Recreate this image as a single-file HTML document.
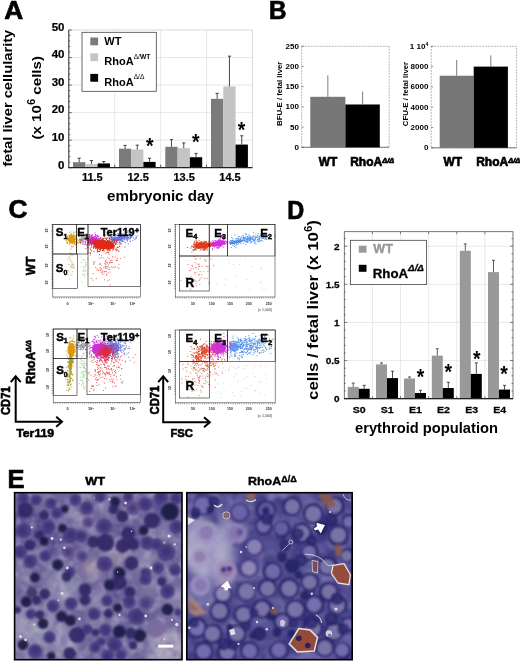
<!DOCTYPE html>
<html><head><meta charset="utf-8"><title>Figure</title>
<style>
html,body{margin:0;padding:0;background:#fff;}
svg{display:block;}
text{font-family:"Liberation Sans",sans-serif;}
</style></head><body>
<svg width="520" height="661" viewBox="0 0 520 661">
<rect width="520" height="661" fill="#fff"/>
<text transform="translate(4.30 18.90) scale(0.9928 1)" font-size="26.5" text-anchor="start" font-weight="bold" fill="#000" stroke="#000" stroke-width="0.7">A</text>
<line x1="114.72" y1="30.00" x2="114.72" y2="167.70" stroke="#dcdcdc" stroke-width="0.7" />
<line x1="160.65" y1="30.00" x2="160.65" y2="167.70" stroke="#dcdcdc" stroke-width="0.7" />
<line x1="206.57" y1="30.00" x2="206.57" y2="167.70" stroke="#dcdcdc" stroke-width="0.7" />
<line x1="68.80" y1="140.16" x2="252.50" y2="140.16" stroke="#dcdcdc" stroke-width="0.7" />
<line x1="68.80" y1="112.62" x2="252.50" y2="112.62" stroke="#dcdcdc" stroke-width="0.7" />
<line x1="68.80" y1="85.08" x2="252.50" y2="85.08" stroke="#dcdcdc" stroke-width="0.7" />
<line x1="68.80" y1="57.54" x2="252.50" y2="57.54" stroke="#dcdcdc" stroke-width="0.7" />
<rect x="68.80" y="30.00" width="183.70" height="137.70" fill="none" stroke="#c8c8c8" stroke-width="0.7" />
<rect x="73.00" y="162.19" width="12.30" height="5.51" fill="#7b7b7b" stroke="none" stroke-width="1" />
<line x1="79.15" y1="162.19" x2="79.15" y2="158.20" stroke="#333" stroke-width="0.9" />
<line x1="77.55" y1="158.20" x2="80.75" y2="158.20" stroke="#333" stroke-width="0.9" />
<rect x="85.30" y="164.12" width="12.30" height="3.58" fill="#c4c4c4" stroke="none" stroke-width="1" />
<line x1="91.45" y1="164.12" x2="91.45" y2="160.54" stroke="#333" stroke-width="0.9" />
<line x1="89.85" y1="160.54" x2="93.05" y2="160.54" stroke="#333" stroke-width="0.9" />
<rect x="97.60" y="163.43" width="12.30" height="4.27" fill="#000" stroke="none" stroke-width="1" />
<line x1="103.75" y1="163.43" x2="103.75" y2="161.50" stroke="#333" stroke-width="0.9" />
<line x1="102.15" y1="161.50" x2="105.35" y2="161.50" stroke="#333" stroke-width="0.9" />
<rect x="119.00" y="148.70" width="12.20" height="19.00" fill="#7b7b7b" stroke="none" stroke-width="1" />
<line x1="125.10" y1="148.70" x2="125.10" y2="145.39" stroke="#333" stroke-width="0.9" />
<line x1="123.50" y1="145.39" x2="126.70" y2="145.39" stroke="#333" stroke-width="0.9" />
<rect x="131.20" y="149.52" width="12.20" height="18.18" fill="#c4c4c4" stroke="none" stroke-width="1" />
<line x1="137.30" y1="149.52" x2="137.30" y2="145.12" stroke="#333" stroke-width="0.9" />
<line x1="135.70" y1="145.12" x2="138.90" y2="145.12" stroke="#333" stroke-width="0.9" />
<rect x="143.40" y="161.92" width="12.20" height="5.78" fill="#000" stroke="none" stroke-width="1" />
<line x1="149.50" y1="161.92" x2="149.50" y2="158.34" stroke="#333" stroke-width="0.9" />
<line x1="147.90" y1="158.34" x2="151.10" y2="158.34" stroke="#333" stroke-width="0.9" />
<rect x="165.30" y="146.77" width="12.30" height="20.93" fill="#7b7b7b" stroke="none" stroke-width="1" />
<line x1="171.45" y1="146.77" x2="171.45" y2="139.61" stroke="#333" stroke-width="0.9" />
<line x1="169.85" y1="139.61" x2="173.05" y2="139.61" stroke="#333" stroke-width="0.9" />
<rect x="177.60" y="148.15" width="12.30" height="19.55" fill="#c4c4c4" stroke="none" stroke-width="1" />
<line x1="183.75" y1="148.15" x2="183.75" y2="142.91" stroke="#333" stroke-width="0.9" />
<line x1="182.15" y1="142.91" x2="185.35" y2="142.91" stroke="#333" stroke-width="0.9" />
<rect x="189.90" y="157.23" width="12.30" height="10.47" fill="#000" stroke="none" stroke-width="1" />
<line x1="196.05" y1="157.23" x2="196.05" y2="153.38" stroke="#333" stroke-width="0.9" />
<line x1="194.45" y1="153.38" x2="197.65" y2="153.38" stroke="#333" stroke-width="0.9" />
<rect x="211.00" y="98.85" width="12.30" height="68.85" fill="#7b7b7b" stroke="none" stroke-width="1" />
<line x1="217.15" y1="98.85" x2="217.15" y2="93.34" stroke="#333" stroke-width="0.9" />
<line x1="215.55" y1="93.34" x2="218.75" y2="93.34" stroke="#333" stroke-width="0.9" />
<rect x="223.30" y="86.46" width="12.30" height="81.24" fill="#c4c4c4" stroke="none" stroke-width="1" />
<line x1="229.45" y1="86.46" x2="229.45" y2="56.16" stroke="#333" stroke-width="0.9" />
<line x1="227.85" y1="56.16" x2="231.05" y2="56.16" stroke="#333" stroke-width="0.9" />
<rect x="235.60" y="144.57" width="12.30" height="23.13" fill="#000" stroke="none" stroke-width="1" />
<line x1="241.75" y1="144.57" x2="241.75" y2="135.75" stroke="#333" stroke-width="0.9" />
<line x1="240.15" y1="135.75" x2="243.35" y2="135.75" stroke="#333" stroke-width="0.9" />
<line x1="68.80" y1="30.00" x2="68.80" y2="167.70" stroke="#333" stroke-width="1" />
<line x1="68.30" y1="167.70" x2="252.50" y2="167.70" stroke="#222" stroke-width="1.3" />
<line x1="68.80" y1="167.70" x2="71.80" y2="167.70" stroke="#333" stroke-width="0.7" />
<line x1="68.80" y1="162.19" x2="70.30" y2="162.19" stroke="#333" stroke-width="0.7" />
<line x1="68.80" y1="156.68" x2="70.30" y2="156.68" stroke="#333" stroke-width="0.7" />
<line x1="68.80" y1="151.18" x2="70.30" y2="151.18" stroke="#333" stroke-width="0.7" />
<line x1="68.80" y1="145.67" x2="70.30" y2="145.67" stroke="#333" stroke-width="0.7" />
<line x1="68.80" y1="140.16" x2="71.80" y2="140.16" stroke="#333" stroke-width="0.7" />
<line x1="68.80" y1="134.65" x2="70.30" y2="134.65" stroke="#333" stroke-width="0.7" />
<line x1="68.80" y1="129.14" x2="70.30" y2="129.14" stroke="#333" stroke-width="0.7" />
<line x1="68.80" y1="123.64" x2="70.30" y2="123.64" stroke="#333" stroke-width="0.7" />
<line x1="68.80" y1="118.13" x2="70.30" y2="118.13" stroke="#333" stroke-width="0.7" />
<line x1="68.80" y1="112.62" x2="71.80" y2="112.62" stroke="#333" stroke-width="0.7" />
<line x1="68.80" y1="107.11" x2="70.30" y2="107.11" stroke="#333" stroke-width="0.7" />
<line x1="68.80" y1="101.60" x2="70.30" y2="101.60" stroke="#333" stroke-width="0.7" />
<line x1="68.80" y1="96.10" x2="70.30" y2="96.10" stroke="#333" stroke-width="0.7" />
<line x1="68.80" y1="90.59" x2="70.30" y2="90.59" stroke="#333" stroke-width="0.7" />
<line x1="68.80" y1="85.08" x2="71.80" y2="85.08" stroke="#333" stroke-width="0.7" />
<line x1="68.80" y1="79.57" x2="70.30" y2="79.57" stroke="#333" stroke-width="0.7" />
<line x1="68.80" y1="74.06" x2="70.30" y2="74.06" stroke="#333" stroke-width="0.7" />
<line x1="68.80" y1="68.56" x2="70.30" y2="68.56" stroke="#333" stroke-width="0.7" />
<line x1="68.80" y1="63.05" x2="70.30" y2="63.05" stroke="#333" stroke-width="0.7" />
<line x1="68.80" y1="57.54" x2="71.80" y2="57.54" stroke="#333" stroke-width="0.7" />
<line x1="68.80" y1="52.03" x2="70.30" y2="52.03" stroke="#333" stroke-width="0.7" />
<line x1="68.80" y1="46.52" x2="70.30" y2="46.52" stroke="#333" stroke-width="0.7" />
<line x1="68.80" y1="41.02" x2="70.30" y2="41.02" stroke="#333" stroke-width="0.7" />
<line x1="68.80" y1="35.51" x2="70.30" y2="35.51" stroke="#333" stroke-width="0.7" />
<line x1="68.80" y1="30.00" x2="71.80" y2="30.00" stroke="#333" stroke-width="0.7" />
<line x1="114.72" y1="167.70" x2="114.72" y2="164.70" stroke="#333" stroke-width="0.8" />
<line x1="160.65" y1="167.70" x2="160.65" y2="164.70" stroke="#333" stroke-width="0.8" />
<line x1="206.57" y1="167.70" x2="206.57" y2="164.70" stroke="#333" stroke-width="0.8" />
<text transform="translate(64.50 168.50) scale(1.1500 1)" font-size="10" text-anchor="end" font-weight="bold" fill="#000" stroke="#000" stroke-width="0.2">0</text>
<text transform="translate(64.50 140.96) scale(1.1500 1)" font-size="10" text-anchor="end" font-weight="bold" fill="#000" stroke="#000" stroke-width="0.2">10</text>
<text transform="translate(64.50 113.42) scale(1.1500 1)" font-size="10" text-anchor="end" font-weight="bold" fill="#000" stroke="#000" stroke-width="0.2">20</text>
<text transform="translate(64.50 85.88) scale(1.1500 1)" font-size="10" text-anchor="end" font-weight="bold" fill="#000" stroke="#000" stroke-width="0.2">30</text>
<text transform="translate(64.50 58.34) scale(1.1500 1)" font-size="10" text-anchor="end" font-weight="bold" fill="#000" stroke="#000" stroke-width="0.2">40</text>
<text transform="translate(64.50 30.80) scale(1.1500 1)" font-size="10" text-anchor="end" font-weight="bold" fill="#000" stroke="#000" stroke-width="0.2">50</text>
<text transform="translate(92.26 180.90) scale(1.1000 1)" font-size="10" text-anchor="middle" font-weight="bold" fill="#000" stroke="#000" stroke-width="0.2">11.5</text>
<text transform="translate(138.19 180.90) scale(1.1000 1)" font-size="10" text-anchor="middle" font-weight="bold" fill="#000" stroke="#000" stroke-width="0.2">12.5</text>
<text transform="translate(184.11 180.90) scale(1.1000 1)" font-size="10" text-anchor="middle" font-weight="bold" fill="#000" stroke="#000" stroke-width="0.2">13.5</text>
<text transform="translate(230.04 180.90) scale(1.1000 1)" font-size="10" text-anchor="middle" font-weight="bold" fill="#000" stroke="#000" stroke-width="0.2">14.5</text>
<rect x="82.00" y="32.30" width="74.30" height="59.00" fill="#fff" stroke="#444" stroke-width="0.8" />
<rect x="90.30" y="37.50" width="7.80" height="7.80" fill="#7b7b7b" stroke="none" stroke-width="1" />
<text transform="translate(104.30 45.40) scale(1.0600 1)" font-size="10.4" text-anchor="start" font-weight="bold" fill="#000" >WT</text>
<rect x="90.30" y="53.30" width="7.80" height="7.80" fill="#c4c4c4" stroke="none" stroke-width="1" />
<text transform="translate(104.30 65.30) scale(1.0600 1)" font-size="10.4" text-anchor="start" font-weight="bold" fill="#000" >RhoA<tspan dy="-6.4" font-size="6.3"><tspan font-weight="normal">Δ/</tspan>WT</tspan></text>
<rect x="90.30" y="73.90" width="7.80" height="7.80" fill="#000" stroke="none" stroke-width="1" />
<text transform="translate(104.30 85.60) scale(1.0600 1)" font-size="10.4" text-anchor="start" font-weight="bold" fill="#000" >RhoA<tspan dy="-6.4" font-size="6.3"><tspan font-weight="normal">Δ/Δ</tspan></tspan></text>
<text transform="translate(149.70 153.28) scale(1.08 1.22)" font-size="18" text-anchor="middle" font-weight="bold">*</text>
<text transform="translate(195.70 149.48) scale(1.08 1.22)" font-size="18" text-anchor="middle" font-weight="bold">*</text>
<text transform="translate(241.50 137.18) scale(1.08 1.22)" font-size="18" text-anchor="middle" font-weight="bold">*</text>
<text transform="translate(12.10 98.30) rotate(-90) scale(1.1056 1)" font-size="13.3" text-anchor="middle" font-weight="bold" fill="#000" >fetal liver cellularity</text>
<text transform="translate(41.30 97.80) rotate(-90) scale(1.1200 1)" font-size="13.5" text-anchor="middle" font-weight="bold" fill="#000" >(x 10<tspan dy="-6" font-size="10">6</tspan><tspan dy="6"> cells)</tspan></text>
<text transform="translate(160.40 200.50) scale(1.0499 1)" font-size="14.4" text-anchor="middle" font-weight="bold" fill="#000" >embryonic day</text>
<text transform="translate(269.00 18.80) scale(0.9503 1)" font-size="25.5" text-anchor="start" font-weight="bold" fill="#000" stroke="#000" stroke-width="0.7">B</text>
<rect x="301.70" y="46.30" width="87.50" height="101.00" fill="none" stroke="#999" stroke-width="0.7" stroke-dasharray="2 1"/>
<line x1="301.70" y1="147.30" x2="389.20" y2="147.30" stroke="#666" stroke-width="0.8" />
<line x1="301.70" y1="147.30" x2="303.70" y2="147.30" stroke="#444" stroke-width="0.6" />
<text transform="translate(298.90 149.80) scale(1.1500 1)" font-size="7" text-anchor="end" font-weight="bold" fill="#000" >0</text>
<line x1="301.70" y1="127.10" x2="303.70" y2="127.10" stroke="#444" stroke-width="0.6" />
<text transform="translate(298.90 129.60) scale(1.1500 1)" font-size="7" text-anchor="end" font-weight="bold" fill="#000" >50</text>
<line x1="301.70" y1="106.90" x2="303.70" y2="106.90" stroke="#444" stroke-width="0.6" />
<text transform="translate(298.90 109.40) scale(1.1500 1)" font-size="7" text-anchor="end" font-weight="bold" fill="#000" >100</text>
<line x1="301.70" y1="86.70" x2="303.70" y2="86.70" stroke="#444" stroke-width="0.6" />
<text transform="translate(298.90 89.20) scale(1.1500 1)" font-size="7" text-anchor="end" font-weight="bold" fill="#000" >150</text>
<line x1="301.70" y1="66.50" x2="303.70" y2="66.50" stroke="#444" stroke-width="0.6" />
<text transform="translate(298.90 69.00) scale(1.1500 1)" font-size="7" text-anchor="end" font-weight="bold" fill="#000" >200</text>
<line x1="301.70" y1="46.30" x2="303.70" y2="46.30" stroke="#444" stroke-width="0.6" />
<text transform="translate(298.90 48.80) scale(1.1500 1)" font-size="7" text-anchor="end" font-weight="bold" fill="#000" >250</text>
<rect x="310.30" y="96.80" width="35.10" height="50.50" fill="#777" stroke="none" stroke-width="1" />
<line x1="327.85" y1="96.80" x2="327.85" y2="75.39" stroke="#444" stroke-width="0.7" />
<rect x="345.40" y="104.48" width="34.40" height="42.82" fill="#000" stroke="none" stroke-width="1" />
<line x1="362.60" y1="104.48" x2="362.60" y2="91.55" stroke="#444" stroke-width="0.7" />
<text transform="translate(282.00 93.80) rotate(-90) scale(0.9723 1)" font-size="8" text-anchor="middle" font-weight="bold" fill="#000" >BFU-E / fetal liver</text>
<rect x="431.20" y="46.30" width="85.40" height="101.50" fill="none" stroke="#999" stroke-width="0.7" stroke-dasharray="2 1"/>
<line x1="431.20" y1="147.80" x2="516.60" y2="147.80" stroke="#666" stroke-width="0.8" />
<line x1="431.20" y1="147.80" x2="433.20" y2="147.80" stroke="#444" stroke-width="0.6" />
<text transform="translate(428.40 150.30) scale(1.1500 1)" font-size="7" text-anchor="end" font-weight="bold" fill="#000" >0</text>
<line x1="431.20" y1="127.50" x2="433.20" y2="127.50" stroke="#444" stroke-width="0.6" />
<text transform="translate(428.40 130.00) scale(1.1500 1)" font-size="7" text-anchor="end" font-weight="bold" fill="#000" >2000</text>
<line x1="431.20" y1="107.20" x2="433.20" y2="107.20" stroke="#444" stroke-width="0.6" />
<text transform="translate(428.40 109.70) scale(1.1500 1)" font-size="7" text-anchor="end" font-weight="bold" fill="#000" >4000</text>
<line x1="431.20" y1="86.90" x2="433.20" y2="86.90" stroke="#444" stroke-width="0.6" />
<text transform="translate(428.40 89.40) scale(1.1500 1)" font-size="7" text-anchor="end" font-weight="bold" fill="#000" >6000</text>
<line x1="431.20" y1="66.60" x2="433.20" y2="66.60" stroke="#444" stroke-width="0.6" />
<text transform="translate(428.40 69.10) scale(1.1500 1)" font-size="7" text-anchor="end" font-weight="bold" fill="#000" >8000</text>
<line x1="431.20" y1="46.30" x2="433.20" y2="46.30" stroke="#444" stroke-width="0.6" />
<text transform="translate(428.40 48.80) scale(1.1500 1)" font-size="7" text-anchor="end" font-weight="bold" fill="#000" >1 10<tspan dy="-2.5" font-size="4.5">4</tspan></text>
<rect x="439.70" y="75.73" width="34.00" height="72.07" fill="#777" stroke="none" stroke-width="1" />
<line x1="456.70" y1="75.73" x2="456.70" y2="60.00" stroke="#444" stroke-width="0.7" />
<rect x="473.70" y="66.60" width="34.20" height="81.20" fill="#000" stroke="none" stroke-width="1" />
<line x1="490.80" y1="66.60" x2="490.80" y2="55.44" stroke="#444" stroke-width="0.7" />
<text transform="translate(407.50 94.05) rotate(-90) scale(0.9723 1)" font-size="8" text-anchor="middle" font-weight="bold" fill="#000" >CFU-E / fetal liver</text>
<text transform="translate(318.70 166.00) scale(0.9153 1)" font-size="13" text-anchor="start" font-weight="bold" fill="#000" stroke="#000" stroke-width="0.7">WT</text>
<text transform="translate(350.20 166.00) scale(0.9233 1)" font-size="13" text-anchor="start" font-weight="bold" fill="#000" stroke="#000" stroke-width="0.7">RhoA<tspan dy="-2.8" font-size="8" font-style="italic">Δ/Δ</tspan></text>
<text transform="translate(443.50 166.00) scale(0.9153 1)" font-size="13" text-anchor="start" font-weight="bold" fill="#000" stroke="#000" stroke-width="0.7">WT</text>
<text transform="translate(476.20 166.00) scale(0.9233 1)" font-size="13" text-anchor="start" font-weight="bold" fill="#000" stroke="#000" stroke-width="0.7">RhoA<tspan dy="-2.8" font-size="8" font-style="italic">Δ/Δ</tspan></text>
<text transform="translate(8.50 218.00) scale(1.0119 1)" font-size="26" text-anchor="start" font-weight="bold" fill="#000" stroke="#000" stroke-width="0.7">C</text>
<path d="M70.0 267.1h1.00M70.0 258.8h1.00M68.6 259.9h1.00M72.7 266.2h1.00M72.6 264.5h1.00M71.3 263.9h1.00M67.2 270.6h1.00M71.5 267.0h1.00M68.7 257.3h1.00M71.1 261.5h1.00M71.5 255.6h1.00M71.1 265.9h1.00M69.2 279.2h1.00M71.6 274.0h1.00M69.3 254.6h1.00M69.8 260.9h1.00M71.8 264.5h1.00M69.6 252.4h1.00M69.5 274.2h1.00M68.9 264.4h1.00M70.6 275.1h1.00M66.5 258.8h1.00M70.3 253.8h1.00M71.5 261.4h1.00M67.6 270.3h1.00M71.8 271.5h1.00M73.4 265.6h1.00M70.7 249.0h1.00M71.7 255.9h1.00M69.6 249.4h1.00M68.6 256.7h1.00M67.6 264.4h1.00M73.4 267.8h1.00M71.2 254.6h1.00M68.3 271.8h1.00M72.7 263.6h1.00M71.0 266.3h1.00M73.7 268.2h1.00M71.5 267.5h1.00M67.4 274.8h1.00M72.4 267.3h1.00" stroke="#c9b860" stroke-width="1.00" fill="none" opacity="0.85"/>
<path d="M79.7 257.0h1.00M83.6 275.2h1.00M81.1 281.7h1.00M85.2 262.3h1.00M84.7 271.1h1.00M84.3 276.6h1.00M82.5 259.4h1.00M86.3 264.3h1.00M82.1 274.4h1.00M87.2 259.1h1.00M81.0 262.5h1.00M83.7 260.7h1.00M87.1 252.7h1.00M86.8 250.0h1.00M82.3 270.9h1.00M86.5 273.4h1.00M84.8 265.6h1.00M84.3 270.3h1.00M83.6 267.1h1.00M85.3 264.0h1.00M85.7 270.2h1.00M88.4 267.6h1.00M83.1 259.9h1.00M84.0 274.2h1.00M83.3 268.2h1.00M81.5 266.7h1.00M84.9 266.6h1.00M83.1 271.2h1.00" stroke="#9ccf8a" stroke-width="1.00" fill="none" opacity="0.85"/>
<path d="M72.4 238.1h1.00M78.0 240.6h1.00M70.3 239.3h1.00M71.1 239.4h1.00M64.6 238.2h1.00M74.3 236.3h1.00M71.5 242.3h1.00M73.9 243.8h1.00M67.3 238.6h1.00M70.8 241.3h1.00M74.5 232.1h1.00M74.5 235.5h1.00M73.5 235.4h1.00M72.2 242.9h1.00M71.3 240.1h1.00M73.8 240.0h1.00M71.5 243.9h1.00M74.4 238.8h1.00M78.8 236.4h1.00M74.1 238.9h1.00M72.0 241.6h1.00M72.3 241.4h1.00M67.7 235.4h1.00M73.3 236.9h1.00M69.0 235.5h1.00M75.0 241.7h1.00M75.5 237.0h1.00M71.7 236.4h1.00M73.7 244.1h1.00M69.4 244.0h1.00M74.3 239.1h1.00M66.6 243.5h1.00M71.4 237.9h1.00M72.7 240.7h1.00M75.6 236.7h1.00M74.7 243.8h1.00M75.5 239.1h1.00M69.8 242.5h1.00M72.0 239.9h1.00M75.4 238.9h1.00M65.7 238.5h1.00M66.9 241.9h1.00M72.5 237.9h1.00M71.7 241.9h1.00M71.9 243.3h1.00M71.5 242.5h1.00M75.6 244.1h1.00M70.0 242.1h1.00M66.8 236.6h1.00M66.6 242.6h1.00M68.5 239.6h1.00M71.2 239.5h1.00M70.2 240.3h1.00M76.4 239.7h1.00M73.1 242.4h1.00M71.2 236.1h1.00M70.3 242.6h1.00M67.4 237.9h1.00M74.3 241.8h1.00M71.7 241.9h1.00M72.1 236.3h1.00M67.6 237.8h1.00M74.1 238.0h1.00M69.4 237.4h1.00M67.7 239.3h1.00M68.6 240.6h1.00M65.6 240.5h1.00M70.0 234.2h1.00M73.6 238.8h1.00M65.9 237.1h1.00M72.5 238.3h1.00M73.7 241.7h1.00M73.4 240.5h1.00M75.2 241.4h1.00M72.9 233.8h1.00M74.0 243.3h1.00M70.9 238.3h1.00M76.7 234.7h1.00M72.9 246.4h1.00M69.3 241.5h1.00M76.6 239.3h1.00M73.2 242.1h1.00M69.3 239.4h1.00M72.5 241.9h1.00M71.6 239.1h1.00M69.1 238.6h1.00M74.0 239.9h1.00M69.5 237.2h1.00M78.6 242.8h1.00M73.4 232.3h1.00M73.3 240.9h1.00M76.1 240.8h1.00M71.5 241.1h1.00M66.6 242.5h1.00M72.5 237.6h1.00M75.1 244.7h1.00M68.1 237.7h1.00M72.5 240.1h1.00M70.7 236.9h1.00M77.2 242.5h1.00M68.6 235.8h1.00M76.1 242.4h1.00M76.4 241.9h1.00M69.4 240.3h1.00M66.1 237.5h1.00M71.5 241.1h1.00M69.8 239.3h1.00M72.9 240.7h1.00M73.4 240.2h1.00M70.9 241.8h1.00M71.8 237.3h1.00M70.1 239.6h1.00M71.4 240.0h1.00M71.7 240.1h1.00M71.4 236.1h1.00M72.8 242.6h1.00M72.8 239.1h1.00M72.9 236.9h1.00M66.8 239.8h1.00M69.3 241.7h1.00M68.9 232.2h1.00M69.0 244.0h1.00M70.7 235.8h1.00M69.7 241.1h1.00M73.0 240.1h1.00M75.6 241.6h1.00M71.6 241.3h1.00M76.0 242.3h1.00M74.4 236.6h1.00M71.3 241.6h1.00M70.9 242.6h1.00M73.3 242.1h1.00M71.1 246.7h1.00M74.9 239.0h1.00M71.9 246.9h1.00M70.8 242.0h1.00M74.2 239.6h1.00M68.7 240.1h1.00M72.6 242.8h1.00M73.7 239.7h1.00M73.9 241.1h1.00M72.2 239.8h1.00M71.1 241.5h1.00M69.0 237.8h1.00M71.7 235.5h1.00M70.6 234.0h1.00M69.9 241.2h1.00M73.2 239.4h1.00M71.1 235.6h1.00M76.5 241.0h1.00M74.5 237.1h1.00M71.2 234.5h1.00M73.7 242.2h1.00M66.8 239.5h1.00M73.3 234.7h1.00M67.0 236.6h1.00M70.1 235.7h1.00M71.8 240.3h1.00M73.3 241.6h1.00M75.6 242.9h1.00M68.3 238.2h1.00M68.9 236.6h1.00M71.5 239.6h1.00M73.0 235.2h1.00M68.5 239.5h1.00M71.2 238.7h1.00M71.5 237.5h1.00M73.5 240.6h1.00M71.5 237.7h1.00M71.2 232.0h1.00M69.1 239.7h1.00M67.8 240.2h1.00M72.1 235.7h1.00M71.0 238.7h1.00M72.9 241.3h1.00M71.6 237.2h1.00M71.3 239.4h1.00M73.6 240.4h1.00M69.8 235.8h1.00M70.7 237.5h1.00" stroke="#dc9a0c" stroke-width="1.00" fill="none" opacity="1.0"/>
<ellipse cx="71.7" cy="239.6" rx="3.4" ry="3.6" fill="#dc9a0c" opacity="1.0" transform="rotate(0 71.7 239.6)"/>
<path d="M78.9 239.3h1.00M80.4 239.7h1.00M82.7 238.7h1.00M86.8 238.9h1.00M84.0 239.7h1.00M84.1 234.7h1.00M79.8 240.0h1.00M82.9 244.2h1.00M82.2 242.1h1.00M83.3 241.4h1.00M82.7 239.2h1.00M82.7 237.3h1.00M84.2 237.5h1.00M82.1 243.7h1.00M81.0 239.5h1.00M84.2 239.6h1.00M79.6 240.0h1.00M82.8 240.9h1.00M79.7 243.0h1.00M85.3 239.5h1.00M82.1 238.6h1.00M84.8 238.1h1.00M83.1 238.5h1.00M79.9 240.9h1.00M84.6 239.5h1.00M79.9 241.1h1.00M81.4 240.1h1.00M85.0 241.8h1.00M80.3 244.1h1.00M81.5 241.1h1.00M80.0 239.4h1.00M77.5 243.1h1.00M84.6 237.1h1.00M78.0 236.3h1.00M84.2 238.6h1.00M81.4 238.9h1.00M81.2 237.3h1.00M81.6 236.6h1.00M81.3 240.1h1.00M82.6 239.0h1.00M79.4 239.8h1.00M80.4 242.6h1.00M83.3 239.3h1.00M80.4 238.1h1.00M79.3 238.8h1.00" stroke="#8a8a8a" stroke-width="1.00" fill="none" opacity="1.0"/>
<path d="M107.4 269.2h1.00M109.6 285.0h1.00M99.4 264.1h1.00M100.8 265.7h1.00M106.2 268.1h1.00M103.1 267.7h1.00M105.4 271.7h1.00M89.9 255.1h1.00M105.0 253.7h1.00M96.6 270.3h1.00M99.8 270.3h1.00M111.0 267.1h1.00M109.1 263.0h1.00M93.7 263.7h1.00M108.6 258.7h1.00M104.2 271.5h1.00M98.0 270.4h1.00M119.9 258.5h1.00M106.2 262.5h1.00M117.3 267.2h1.00M112.2 257.1h1.00M104.9 263.9h1.00M90.8 278.4h1.00M111.0 262.7h1.00M108.6 267.7h1.00M93.0 261.9h1.00M116.9 258.3h1.00M96.8 250.4h1.00M95.2 267.4h1.00M118.5 268.3h1.00M100.8 257.3h1.00M109.2 269.5h1.00M96.9 252.3h1.00M107.3 266.5h1.00M94.5 262.0h1.00M100.7 268.6h1.00M104.1 263.1h1.00M102.2 274.5h1.00M116.1 260.3h1.00M111.8 256.4h1.00M105.6 271.5h1.00M117.1 260.2h1.00M104.4 266.0h1.00M93.0 264.2h1.00M99.6 267.7h1.00M105.3 266.6h1.00M100.6 272.9h1.00M102.8 257.9h1.00M108.8 248.3h1.00M99.6 263.8h1.00M111.8 262.4h1.00M107.5 257.4h1.00M107.4 280.6h1.00M99.8 264.2h1.00M106.4 274.2h1.00M109.8 272.0h1.00M106.6 266.5h1.00M112.4 267.7h1.00M118.3 251.6h1.00M111.5 260.3h1.00M105.0 261.5h1.00M101.0 255.6h1.00M100.0 270.4h1.00M105.3 264.7h1.00M103.6 273.1h1.00M109.0 262.6h1.00M110.3 262.5h1.00M95.8 278.6h1.00M108.7 254.4h1.00M113.6 267.4h1.00M92.5 280.1h1.00M107.7 272.9h1.00M106.6 262.5h1.00M92.6 273.7h1.00M105.2 261.1h1.00M107.8 264.8h1.00M110.4 260.3h1.00M101.6 270.8h1.00M115.7 260.4h1.00M104.0 279.8h1.00M102.4 271.3h1.00M118.4 264.4h1.00M114.8 256.9h1.00M106.7 263.2h1.00M105.9 275.3h1.00M124.1 257.3h1.00M100.4 269.0h1.00M96.6 269.0h1.00M109.6 261.2h1.00M109.2 248.5h1.00M111.1 248.6h1.00M99.4 258.4h1.00M101.8 272.6h1.00M105.7 260.0h1.00M109.3 279.8h1.00M105.0 267.7h1.00M114.9 266.7h1.00M104.7 268.2h1.00" stroke="#e2605a" stroke-width="1.00" fill="none" opacity="0.9"/>
<path d="M127.7 238.8h1.00M117.8 236.0h1.00M120.8 240.8h1.00M111.3 237.1h1.00M119.8 233.5h1.00M117.9 237.5h1.00M123.6 236.0h1.00M112.9 238.4h1.00M119.6 236.7h1.00M120.1 240.2h1.00M129.5 241.1h1.00M113.7 238.2h1.00M100.1 246.2h1.00M114.2 239.1h1.00M124.2 234.2h1.00M123.7 237.6h1.00M105.4 241.3h1.00M129.6 232.1h1.00M126.5 237.8h1.00M123.8 238.8h1.00M130.4 236.1h1.00M127.0 236.2h1.00M125.8 235.3h1.00M119.1 242.8h1.00M123.6 237.3h1.00M110.8 237.8h1.00M121.5 240.4h1.00M123.4 239.1h1.00M119.7 241.7h1.00M116.9 237.4h1.00M127.1 237.3h1.00M117.8 237.2h1.00M117.9 240.2h1.00M122.8 234.8h1.00M123.4 238.2h1.00M112.0 241.5h1.00M117.8 237.8h1.00M126.4 240.6h1.00M114.5 240.3h1.00M113.0 245.2h1.00M116.0 241.9h1.00M114.8 241.1h1.00M137.8 229.2h1.00M116.5 240.1h1.00M119.3 236.7h1.00M137.2 235.8h1.00M106.8 242.5h1.00M106.2 243.3h1.00M115.4 239.4h1.00M130.1 237.0h1.00M108.9 235.8h1.00M129.5 238.7h1.00M113.5 241.5h1.00M124.0 239.3h1.00M101.9 240.4h1.00M127.2 239.0h1.00M127.1 231.0h1.00M121.4 239.3h1.00M117.4 238.8h1.00M127.1 236.1h1.00M129.2 234.9h1.00M122.1 236.6h1.00M121.3 236.4h1.00M107.2 243.0h1.00M122.4 236.5h1.00M121.6 240.5h1.00M112.2 239.3h1.00M124.3 238.9h1.00M117.3 233.5h1.00M129.9 237.6h1.00M120.1 237.6h1.00M122.1 236.9h1.00M111.8 237.7h1.00M115.2 237.5h1.00M110.7 241.4h1.00M109.5 241.6h1.00M111.9 240.5h1.00M131.0 237.1h1.00M114.2 239.3h1.00M121.2 233.8h1.00M115.1 239.5h1.00M116.2 239.1h1.00M125.9 239.3h1.00M127.2 238.6h1.00M117.7 238.6h1.00M117.8 237.9h1.00M118.6 234.2h1.00M117.3 238.7h1.00M112.2 239.5h1.00M124.1 237.2h1.00M136.6 229.2h1.00M118.3 234.0h1.00M127.8 243.7h1.00M100.0 241.8h1.00M124.2 236.9h1.00M124.4 232.0h1.00M126.8 238.2h1.00M120.2 236.8h1.00M125.1 236.3h1.00M121.8 236.7h1.00M102.0 241.1h1.00M121.6 239.9h1.00M113.0 239.3h1.00M124.9 237.9h1.00M129.9 241.7h1.00M112.7 234.6h1.00M126.9 241.0h1.00M127.4 239.2h1.00M115.1 237.3h1.00M127.1 234.9h1.00M105.5 238.1h1.00M114.5 237.3h1.00M121.9 236.1h1.00M130.5 236.5h1.00M111.3 242.9h1.00M115.3 239.6h1.00M119.9 237.5h1.00M122.6 236.2h1.00M105.2 235.1h1.00M109.9 238.0h1.00M119.8 238.5h1.00M124.4 237.9h1.00M113.7 237.5h1.00M103.0 240.5h1.00M123.9 239.0h1.00M119.0 238.0h1.00M127.5 237.2h1.00M125.9 238.8h1.00M121.7 241.3h1.00M115.4 238.1h1.00M113.5 237.3h1.00M132.4 240.7h1.00M120.2 239.7h1.00M129.4 238.8h1.00M129.6 233.6h1.00M114.9 240.2h1.00M131.5 236.8h1.00M113.1 238.5h1.00M114.7 237.0h1.00M132.0 234.8h1.00M120.2 243.7h1.00M129.5 237.6h1.00M115.1 240.1h1.00M133.0 237.8h1.00M130.1 237.0h1.00M124.1 237.1h1.00M123.4 241.0h1.00M108.6 239.9h1.00M121.9 236.6h1.00M117.5 240.7h1.00M136.0 237.4h1.00M122.6 234.0h1.00M135.4 236.1h1.00M119.7 235.5h1.00M119.5 235.6h1.00M120.6 239.4h1.00M120.2 239.0h1.00M113.2 242.9h1.00M114.8 234.6h1.00M118.5 236.6h1.00M111.9 238.7h1.00M122.3 235.0h1.00M118.9 242.0h1.00M125.5 237.1h1.00M121.0 237.8h1.00M119.6 240.2h1.00M119.3 232.4h1.00M119.8 236.1h1.00M125.2 236.0h1.00M121.2 243.6h1.00M111.6 236.8h1.00M108.7 234.1h1.00M105.0 241.6h1.00M114.9 234.4h1.00M108.1 241.7h1.00M113.8 238.4h1.00M122.6 241.3h1.00M135.5 238.4h1.00M121.1 238.6h1.00M134.4 239.6h1.00M117.5 239.8h1.00M122.3 238.1h1.00M116.0 235.6h1.00M115.7 235.1h1.00M129.8 238.1h1.00M110.4 243.3h1.00M127.1 232.4h1.00M134.7 238.0h1.00M136.5 232.6h1.00M124.2 238.7h1.00M121.6 238.5h1.00M128.4 233.2h1.00M110.1 236.4h1.00M115.5 237.5h1.00M122.9 238.5h1.00M120.3 236.6h1.00M116.5 241.2h1.00M126.1 237.6h1.00M117.4 242.6h1.00M115.2 240.7h1.00M129.2 236.2h1.00M126.6 234.5h1.00M128.1 237.5h1.00M107.3 242.0h1.00M112.9 242.6h1.00M114.6 238.7h1.00M122.3 237.1h1.00M122.1 236.6h1.00" stroke="#5b78e0" stroke-width="1.00" fill="none" opacity="1.0"/>
<ellipse cx="117.5" cy="239" rx="6" ry="2.1" fill="#6a70e0" opacity="1.0" transform="rotate(-13 117.5 239)"/>
<path d="M96.5 240.6h1.00M94.4 232.9h1.00M98.7 240.7h1.00M85.5 240.9h1.00M95.6 243.6h1.00M88.6 244.9h1.00M92.8 247.3h1.00M92.8 242.5h1.00M91.9 237.5h1.00M98.4 243.1h1.00M100.4 243.0h1.00M90.9 235.9h1.00M90.6 238.7h1.00M89.8 242.2h1.00M95.0 239.8h1.00M94.3 240.2h1.00M94.5 242.7h1.00M97.8 238.7h1.00M86.7 244.6h1.00M94.0 243.7h1.00M86.1 239.7h1.00M93.6 236.6h1.00M91.2 242.6h1.00M98.4 245.1h1.00M89.6 236.7h1.00M95.8 243.2h1.00M94.4 237.0h1.00M97.0 242.8h1.00M96.0 239.2h1.00M94.9 242.8h1.00M91.0 235.4h1.00M95.0 241.9h1.00M93.6 243.1h1.00M90.9 240.4h1.00M92.1 242.2h1.00M100.7 239.9h1.00M102.7 244.9h1.00M97.1 242.2h1.00M101.5 240.1h1.00M93.0 237.6h1.00M95.6 244.4h1.00M95.9 241.8h1.00M92.6 241.1h1.00M87.1 243.5h1.00M91.7 237.5h1.00M90.1 238.3h1.00M97.3 243.6h1.00M87.4 243.2h1.00M97.5 239.0h1.00M86.8 238.5h1.00M90.6 241.6h1.00M91.9 234.9h1.00M94.6 236.3h1.00M97.6 237.2h1.00M90.4 238.2h1.00M91.1 244.2h1.00M97.3 242.3h1.00M94.9 236.3h1.00M91.2 239.1h1.00M89.1 242.0h1.00M90.2 238.6h1.00M88.8 234.8h1.00M96.2 244.3h1.00M94.3 237.9h1.00M81.3 241.1h1.00M99.0 241.4h1.00M97.7 244.7h1.00M98.6 239.4h1.00M98.2 242.8h1.00M86.6 239.5h1.00M87.1 240.3h1.00M96.1 237.6h1.00M84.2 244.2h1.00M95.2 244.7h1.00M87.5 243.6h1.00M102.8 246.2h1.00M92.6 241.4h1.00M92.8 243.4h1.00M98.2 240.8h1.00M87.4 242.7h1.00M91.4 242.4h1.00M94.7 245.1h1.00M98.6 239.3h1.00M95.1 245.5h1.00M91.1 241.8h1.00M98.9 244.1h1.00M95.8 236.9h1.00M87.8 241.3h1.00M95.2 247.7h1.00M89.6 243.8h1.00M97.0 235.9h1.00M89.8 241.1h1.00M91.3 240.2h1.00M95.6 238.3h1.00M95.6 238.8h1.00M91.0 242.1h1.00M90.9 241.4h1.00M100.7 240.7h1.00M92.8 242.7h1.00M91.9 243.6h1.00M87.7 242.3h1.00M91.2 238.4h1.00M101.5 238.2h1.00M101.4 242.4h1.00M100.0 237.9h1.00M98.9 244.7h1.00M93.0 240.2h1.00M104.6 241.1h1.00M91.6 238.8h1.00M95.5 241.5h1.00M94.3 245.4h1.00M92.0 241.9h1.00M100.1 237.8h1.00M98.2 245.7h1.00M87.4 237.5h1.00M88.8 235.4h1.00M95.5 235.4h1.00M95.7 244.7h1.00M86.2 239.7h1.00M84.9 242.8h1.00M90.2 239.9h1.00M93.7 242.1h1.00M91.9 240.6h1.00M91.0 240.9h1.00M88.2 240.8h1.00M84.8 239.2h1.00M102.1 240.8h1.00M87.8 241.3h1.00M89.1 236.0h1.00M90.2 242.7h1.00M95.2 240.3h1.00M89.3 237.6h1.00M99.6 241.3h1.00M89.2 234.7h1.00M87.3 247.5h1.00M88.3 240.4h1.00M94.4 240.2h1.00M92.2 236.8h1.00M88.8 245.3h1.00M90.1 243.0h1.00M85.9 239.8h1.00M94.7 243.5h1.00M88.4 242.3h1.00M95.2 238.5h1.00M95.6 238.1h1.00M89.9 240.5h1.00M81.3 240.3h1.00M89.0 236.5h1.00M91.6 242.7h1.00M91.7 244.1h1.00M88.3 236.9h1.00M100.5 241.7h1.00M97.8 238.3h1.00M97.1 241.3h1.00M96.4 240.7h1.00M98.9 238.8h1.00M89.2 236.5h1.00M98.7 238.5h1.00M88.8 238.0h1.00M91.5 237.0h1.00M92.2 238.8h1.00M91.0 237.9h1.00M93.7 239.3h1.00M94.0 241.3h1.00M95.0 234.5h1.00M91.1 238.4h1.00M97.0 236.2h1.00M90.3 239.8h1.00M92.0 243.4h1.00M91.5 243.3h1.00M86.9 235.5h1.00M99.0 241.8h1.00M95.7 240.9h1.00M95.7 237.2h1.00M97.8 239.1h1.00M97.9 240.8h1.00M84.6 237.0h1.00M98.6 240.2h1.00M91.7 241.3h1.00M91.6 239.1h1.00M94.0 241.0h1.00M100.3 240.7h1.00M102.0 245.6h1.00M101.2 243.6h1.00M94.1 241.0h1.00M92.9 238.6h1.00M93.2 238.8h1.00M100.9 242.1h1.00M91.5 235.2h1.00M93.3 239.4h1.00M88.6 237.4h1.00M83.4 242.2h1.00M93.2 247.8h1.00M93.4 240.2h1.00M100.0 241.0h1.00M94.3 239.6h1.00M90.8 244.8h1.00M98.0 245.4h1.00M91.9 240.7h1.00M89.5 243.3h1.00M87.2 242.2h1.00M98.4 244.6h1.00M89.3 243.7h1.00M90.3 238.5h1.00M87.5 243.8h1.00M100.9 238.9h1.00M90.1 239.7h1.00M104.8 243.4h1.00M91.1 235.6h1.00M90.5 243.9h1.00M101.9 239.9h1.00M90.4 239.2h1.00M85.0 243.1h1.00M88.6 243.6h1.00M85.8 237.0h1.00M94.8 238.5h1.00M97.0 240.6h1.00M88.2 242.3h1.00M97.3 235.2h1.00M101.7 242.0h1.00M96.9 235.4h1.00M90.3 239.6h1.00M98.3 236.5h1.00M89.5 234.9h1.00M92.4 241.6h1.00M85.9 238.9h1.00M95.8 245.0h1.00M96.5 239.7h1.00M88.2 238.0h1.00M90.5 241.0h1.00" stroke="#c62fd0" stroke-width="1.00" fill="none" opacity="1.0"/>
<ellipse cx="93" cy="240.4" rx="5.6" ry="2.8" fill="#c62fd0" opacity="1.0" transform="rotate(0 93 240.4)"/>
<path d="M103.2 250.5h1.00M105.5 241.2h1.00M114.3 248.0h1.00M104.2 242.3h1.00M90.4 241.3h1.00M109.9 242.1h1.00M94.3 245.5h1.00M105.2 246.9h1.00M108.1 249.6h1.00M97.6 248.1h1.00M96.6 247.2h1.00M104.8 245.6h1.00M110.3 244.7h1.00M111.3 247.8h1.00M104.4 242.9h1.00M98.2 243.0h1.00M102.1 244.7h1.00M124.4 247.0h1.00M108.9 241.9h1.00M98.5 243.7h1.00M104.8 241.3h1.00M114.8 242.9h1.00M111.0 236.9h1.00M103.5 245.7h1.00M104.8 246.8h1.00M105.5 245.4h1.00M90.3 242.4h1.00M87.1 246.9h1.00M105.7 244.1h1.00M97.8 242.8h1.00M116.4 250.7h1.00M103.1 249.2h1.00M92.4 238.2h1.00M100.1 241.8h1.00M99.6 245.4h1.00M124.7 242.6h1.00M103.8 245.7h1.00M103.3 248.0h1.00M115.9 240.6h1.00M104.6 243.9h1.00M106.0 239.6h1.00M91.2 236.9h1.00M107.2 245.5h1.00M104.0 236.8h1.00M100.9 242.2h1.00M93.6 241.7h1.00M108.4 246.7h1.00M103.3 246.5h1.00M99.3 245.0h1.00M103.8 246.7h1.00M103.0 244.3h1.00M102.6 242.6h1.00M119.1 246.5h1.00M106.5 252.6h1.00M113.3 239.5h1.00M108.4 247.6h1.00M116.7 249.3h1.00M108.9 240.8h1.00M97.4 245.7h1.00M107.0 241.3h1.00M100.8 243.4h1.00M103.9 245.9h1.00M101.5 240.6h1.00M112.2 250.2h1.00M102.8 248.3h1.00M106.6 247.0h1.00M106.9 242.2h1.00M107.5 248.2h1.00M97.2 251.5h1.00M118.1 251.0h1.00M117.4 247.3h1.00M101.1 242.8h1.00M97.8 245.2h1.00M103.3 247.1h1.00M89.4 252.7h1.00M119.4 244.7h1.00M108.2 246.4h1.00M105.4 244.1h1.00M102.6 242.0h1.00M104.7 244.7h1.00M105.7 241.9h1.00M103.8 245.0h1.00M107.7 241.2h1.00M106.4 248.1h1.00M107.7 243.5h1.00M100.1 244.0h1.00M108.6 250.1h1.00M102.4 242.6h1.00M106.1 245.5h1.00M97.1 242.3h1.00M102.8 247.1h1.00M95.1 241.3h1.00M107.0 240.6h1.00M104.3 246.0h1.00M102.7 241.3h1.00M103.1 243.7h1.00M105.9 241.9h1.00M111.1 239.1h1.00M102.3 244.8h1.00M110.2 242.7h1.00M107.3 242.9h1.00M108.7 250.7h1.00M100.7 246.3h1.00M97.0 248.1h1.00M112.0 244.9h1.00M95.6 246.2h1.00M111.5 248.5h1.00M109.2 238.6h1.00M98.7 249.6h1.00M94.9 248.6h1.00M116.7 247.4h1.00M111.3 243.7h1.00M94.9 244.5h1.00M102.1 244.6h1.00M108.4 244.3h1.00M104.8 246.2h1.00M103.5 251.1h1.00M106.6 245.1h1.00M102.0 242.7h1.00M112.9 245.3h1.00M95.9 242.9h1.00M102.5 243.3h1.00M111.1 240.9h1.00M106.9 245.3h1.00M95.3 245.0h1.00M102.8 246.5h1.00M100.3 245.8h1.00M91.8 241.1h1.00M109.0 248.3h1.00M103.4 242.8h1.00M111.1 237.7h1.00M97.9 247.1h1.00M108.1 241.3h1.00M90.3 249.7h1.00M104.6 241.8h1.00M103.9 247.9h1.00M85.4 248.6h1.00M108.7 237.7h1.00M108.9 238.7h1.00M111.5 246.2h1.00M119.3 242.7h1.00M103.5 248.4h1.00M99.0 242.4h1.00M100.9 244.6h1.00M95.9 246.4h1.00M107.3 245.0h1.00M115.4 243.7h1.00M112.6 242.9h1.00M108.8 238.2h1.00M104.9 244.2h1.00M100.0 242.7h1.00M101.1 242.4h1.00M88.1 242.8h1.00M99.7 243.0h1.00M96.1 244.3h1.00M109.0 243.9h1.00M100.1 249.4h1.00M110.3 247.9h1.00M111.6 243.7h1.00M102.6 248.6h1.00M99.6 244.4h1.00M106.1 246.1h1.00M101.6 248.1h1.00M102.3 247.3h1.00M111.0 247.0h1.00M108.6 240.9h1.00M94.3 242.7h1.00M106.8 249.9h1.00M94.9 245.8h1.00M97.5 242.3h1.00M101.6 247.2h1.00M105.0 248.8h1.00M96.6 247.8h1.00M110.0 245.0h1.00M106.8 242.9h1.00M95.9 243.4h1.00M99.0 254.6h1.00M100.1 250.4h1.00M104.9 245.9h1.00M108.7 242.2h1.00M109.9 246.1h1.00M92.9 246.8h1.00M107.4 246.3h1.00M114.6 243.4h1.00M107.1 247.3h1.00M97.2 248.9h1.00M93.3 240.4h1.00M107.2 241.1h1.00M102.7 239.2h1.00M104.0 240.9h1.00M105.9 239.6h1.00M106.6 243.9h1.00M103.9 244.6h1.00M104.4 240.3h1.00M85.5 244.9h1.00M96.9 243.3h1.00M106.5 238.0h1.00M98.2 242.7h1.00M96.1 245.9h1.00M102.5 242.0h1.00M96.6 247.5h1.00M98.9 246.8h1.00M106.6 238.4h1.00M95.9 244.8h1.00M105.9 247.5h1.00M109.1 248.3h1.00M100.9 244.1h1.00M108.9 243.4h1.00M110.9 239.4h1.00M108.1 244.2h1.00M89.7 248.1h1.00M105.7 244.9h1.00M96.0 243.2h1.00M114.1 242.0h1.00M79.2 241.9h1.00M95.1 244.4h1.00M100.7 241.7h1.00M97.6 248.4h1.00M93.4 251.5h1.00M99.7 241.1h1.00M109.0 246.7h1.00M96.2 247.3h1.00M90.6 241.7h1.00M111.4 243.9h1.00M94.4 246.5h1.00M109.9 244.7h1.00M90.9 243.6h1.00M106.4 247.4h1.00M116.5 243.9h1.00M100.1 244.7h1.00M111.9 241.6h1.00M112.6 235.5h1.00M109.1 242.5h1.00M106.7 247.1h1.00M95.2 244.5h1.00M105.2 246.8h1.00M97.0 241.4h1.00M90.0 253.4h1.00M102.2 244.0h1.00M93.0 248.0h1.00M99.8 249.7h1.00M109.5 244.9h1.00M108.6 241.0h1.00M101.2 242.8h1.00M94.6 244.9h1.00M102.5 249.7h1.00M80.0 242.5h1.00M97.1 243.2h1.00M106.5 246.2h1.00M103.7 243.2h1.00M107.0 246.0h1.00M90.6 243.9h1.00M93.9 240.8h1.00M104.5 245.0h1.00M104.3 241.8h1.00M102.1 241.7h1.00M106.2 247.1h1.00M115.8 249.1h1.00M97.9 243.2h1.00M96.9 245.8h1.00M117.4 247.2h1.00M88.1 240.5h1.00M94.5 246.6h1.00M103.5 245.8h1.00M116.0 242.0h1.00M97.6 251.5h1.00M105.9 242.2h1.00M89.3 239.6h1.00M86.4 245.0h1.00M103.8 248.2h1.00M102.5 242.4h1.00M98.3 251.3h1.00M91.1 245.4h1.00M103.7 246.9h1.00M100.7 246.5h1.00M109.2 244.3h1.00M100.3 244.2h1.00M96.7 244.1h1.00M101.4 245.5h1.00M112.9 249.2h1.00M100.4 246.9h1.00M105.6 247.4h1.00M103.7 245.7h1.00M100.2 242.1h1.00M109.6 249.2h1.00M108.1 246.3h1.00M105.4 243.3h1.00M91.0 247.1h1.00M104.9 242.9h1.00M96.7 249.1h1.00M90.9 250.8h1.00M108.0 252.9h1.00M98.5 244.7h1.00M100.0 245.3h1.00M102.0 242.3h1.00M111.0 242.1h1.00M99.9 246.7h1.00M99.7 243.3h1.00M106.0 243.5h1.00M94.8 244.5h1.00M102.0 250.6h1.00M95.8 248.1h1.00M98.0 243.6h1.00M101.2 245.7h1.00M109.5 250.7h1.00M99.0 249.3h1.00M110.5 247.6h1.00M98.2 247.9h1.00M102.7 246.0h1.00M101.6 247.1h1.00M111.3 248.6h1.00M102.1 248.2h1.00M113.7 241.6h1.00M113.8 240.3h1.00M107.3 246.8h1.00M113.9 245.7h1.00M100.1 242.1h1.00M94.7 247.4h1.00M101.8 242.4h1.00M107.2 242.2h1.00M100.4 243.2h1.00M115.1 249.8h1.00M102.4 239.5h1.00M105.4 245.0h1.00M105.9 246.7h1.00M101.3 247.9h1.00M109.4 245.5h1.00M100.7 243.2h1.00M108.3 241.1h1.00M102.4 242.3h1.00M93.7 246.9h1.00M103.3 244.9h1.00M109.6 239.7h1.00M103.0 245.8h1.00M109.3 241.1h1.00M108.5 245.5h1.00M113.0 248.7h1.00M107.3 252.1h1.00M103.5 243.4h1.00M101.1 241.6h1.00M103.3 238.4h1.00M102.9 246.2h1.00M110.4 243.6h1.00M113.2 242.6h1.00M102.6 238.4h1.00M98.2 242.1h1.00M113.7 246.6h1.00M96.0 246.6h1.00M106.8 244.0h1.00M103.7 243.8h1.00M99.8 238.9h1.00M102.9 249.1h1.00M113.3 243.9h1.00M98.4 244.1h1.00M109.6 246.0h1.00M99.5 246.0h1.00M102.1 246.5h1.00M100.7 239.9h1.00M103.9 247.3h1.00M95.9 244.4h1.00M109.5 243.6h1.00M99.1 251.5h1.00M109.2 248.2h1.00M97.0 250.2h1.00M92.2 243.1h1.00M108.5 249.2h1.00M97.2 242.6h1.00M104.8 238.4h1.00M107.9 246.7h1.00M100.5 246.6h1.00M108.8 245.8h1.00M107.1 249.8h1.00M100.3 245.3h1.00M99.9 248.2h1.00M100.7 246.4h1.00M104.4 245.0h1.00M115.1 244.5h1.00M113.1 247.5h1.00M112.4 244.3h1.00M109.8 247.3h1.00" stroke="#e02a18" stroke-width="1.00" fill="none" opacity="1.0"/>
<ellipse cx="104" cy="245" rx="9.5" ry="4.2" fill="#e02a18" opacity="1.0" transform="rotate(0 104 245)"/>
<ellipse cx="99.5" cy="243.6" rx="7" ry="3.6" fill="#e02a18" opacity="1.0" transform="rotate(0 99.5 243.6)"/>
<ellipse cx="108" cy="245.6" rx="6.5" ry="3.8" fill="#e02a18" opacity="1.0" transform="rotate(0 108 245.6)"/>
<rect x="52.80" y="224.50" width="87.50" height="72.50" fill="none" stroke="#444" stroke-width="0.6" />
<rect x="52.80" y="224.50" width="23.80" height="29.50" fill="none" stroke="#222" stroke-width="0.6" />
<rect x="52.80" y="254.00" width="24.70" height="34.50" fill="none" stroke="#222" stroke-width="0.6" />
<rect x="76.60" y="224.50" width="11.40" height="29.50" fill="none" stroke="#222" stroke-width="0.6" />
<rect x="88.00" y="224.50" width="52.30" height="62.00" fill="none" stroke="#222" stroke-width="0.6" />
<text transform="translate(55.80 236.10)" font-size="11.5" text-anchor="start" font-weight="bold" fill="#000" stroke="#000" stroke-width="0.45">S<tspan dy="2.5" font-size="7">1</tspan></text>
<text transform="translate(55.80 272.10)" font-size="11.5" text-anchor="start" font-weight="bold" fill="#000" stroke="#000" stroke-width="0.45">S<tspan dy="2.5" font-size="7">0</tspan></text>
<text transform="translate(77.20 236.10)" font-size="11.5" text-anchor="start" font-weight="bold" fill="#000" stroke="#000" stroke-width="0.45">E<tspan dy="2.5" font-size="7">1</tspan></text>
<text transform="translate(139.10 236.00)" font-size="11" text-anchor="end" font-weight="bold" fill="#000" stroke="#000" stroke-width="0.45">Ter119<tspan dy="-3" font-size="7.5">+</tspan></text>
<line x1="52.80" y1="297.90" x2="140.30" y2="297.90" stroke="#555" stroke-width="1.2" stroke-dasharray="0.5 1.7"/>
<text transform="translate(67.50 305.00)" font-size="3.8" text-anchor="middle" font-weight="bold" fill="#222" >0</text>
<text transform="translate(90.80 305.00)" font-size="3.8" text-anchor="middle" font-weight="bold" fill="#222" >10<tspan dy="-1.3" font-size="2.5">3</tspan></text>
<text transform="translate(113.00 305.00)" font-size="3.8" text-anchor="middle" font-weight="bold" fill="#222" >10<tspan dy="-1.3" font-size="2.5">4</tspan></text>
<text transform="translate(132.40 305.00)" font-size="3.8" text-anchor="middle" font-weight="bold" fill="#222" >10<tspan dy="-1.3" font-size="2.5">5</tspan></text>
<line x1="51.90" y1="224.50" x2="51.90" y2="289.00" stroke="#555" stroke-width="1.2" stroke-dasharray="0.5 1.7"/>
<text transform="translate(48.40 230.50) rotate(-90)" font-size="3.6" text-anchor="middle" font-weight="bold" fill="#222" >10</text>
<text transform="translate(48.40 246.50) rotate(-90)" font-size="3.6" text-anchor="middle" font-weight="bold" fill="#222" >10</text>
<text transform="translate(48.40 265.50) rotate(-90)" font-size="3.6" text-anchor="middle" font-weight="bold" fill="#222" >10</text>
<text transform="translate(48.40 282.50) rotate(-90)" font-size="3.6" text-anchor="middle" font-weight="bold" fill="#222" >10</text>
<path d="M238.9 264.5h1.00M244.9 258.3h1.00M265.6 279.9h1.00M249.5 289.8h1.00M250.9 266.5h1.00M228.5 262.7h1.00M216.5 284.3h1.00M261.2 268.1h1.00M225.2 279.7h1.00M261.5 289.5h1.00M224.3 284.7h1.00M260.7 283.2h1.00M233.0 264.3h1.00M260.4 268.9h1.00M235.3 276.7h1.00M235.3 286.3h1.00M228.2 259.4h1.00M246.2 279.4h1.00M260.1 282.0h1.00M264.8 290.1h1.00" stroke="#d0d0e0" stroke-width="1.00" fill="none" opacity="1.0"/>
<path d="M189.8 270.5h1.00M201.2 277.8h1.00M195.5 267.8h1.00M196.4 263.9h1.00M180.6 280.2h1.00M199.7 271.7h1.00M193.8 272.7h1.00M197.9 269.2h1.00M199.7 258.7h1.00M195.9 285.8h1.00M190.7 268.9h1.00M194.0 280.0h1.00M191.4 252.2h1.00M201.5 266.3h1.00M195.9 281.4h1.00M192.0 266.1h1.00M199.0 274.4h1.00M194.5 280.9h1.00M213.1 265.7h1.00M207.5 266.4h1.00M198.9 266.4h1.00M193.7 256.5h1.00M195.3 283.7h1.00M205.7 266.3h1.00M194.5 262.6h1.00M189.9 289.1h1.00M202.5 271.2h1.00M194.7 259.2h1.00M206.8 278.2h1.00M191.6 280.4h1.00M190.6 276.8h1.00M191.5 265.6h1.00M201.3 274.6h1.00M204.8 261.2h1.00M208.6 284.2h1.00M197.9 274.9h1.00M192.8 268.4h1.00M189.1 270.9h1.00M199.3 284.2h1.00M204.4 278.6h1.00M195.6 267.6h1.00M195.7 272.3h1.00M185.0 278.1h1.00M187.5 264.6h1.00M198.1 264.6h1.00M209.2 269.0h1.00M208.6 282.4h1.00M194.7 274.2h1.00M206.7 266.5h1.00M198.6 264.1h1.00M198.4 266.3h1.00M198.6 280.6h1.00M207.4 271.4h1.00M199.4 279.0h1.00M196.1 258.8h1.00M205.5 260.1h1.00M204.3 259.8h1.00M210.3 259.0h1.00" stroke="#e06a50" stroke-width="1.00" fill="none" opacity="0.9"/>
<path d="M258.6 241.1h1.00M236.0 243.9h1.00M237.7 236.7h1.00M257.0 239.5h1.00M245.5 234.1h1.00M247.3 238.6h1.00M243.3 239.2h1.00M270.5 239.6h1.00M243.5 238.3h1.00M252.9 240.8h1.00M257.0 235.5h1.00M250.0 239.2h1.00M266.0 239.5h1.00M254.5 241.0h1.00M243.1 243.1h1.00M242.7 240.7h1.00M259.5 235.8h1.00M239.2 236.6h1.00M250.1 238.8h1.00M243.9 240.8h1.00M249.1 238.5h1.00M257.9 241.7h1.00M242.4 237.9h1.00M240.5 240.4h1.00M255.3 236.4h1.00M260.5 235.4h1.00M258.3 238.8h1.00M253.8 243.1h1.00M244.7 239.3h1.00M253.9 240.3h1.00M231.3 242.0h1.00M238.7 241.8h1.00M265.1 237.1h1.00M246.7 239.8h1.00M255.0 238.6h1.00M243.1 238.3h1.00M245.8 242.1h1.00M246.7 242.3h1.00M251.4 238.7h1.00M263.6 234.4h1.00M235.6 238.4h1.00M241.1 241.5h1.00M255.4 233.9h1.00M266.2 235.6h1.00M240.7 243.7h1.00M247.0 236.7h1.00M240.0 238.7h1.00M235.4 240.1h1.00M259.0 238.5h1.00M230.8 247.4h1.00M235.6 241.0h1.00M248.4 240.8h1.00M243.9 240.7h1.00M274.3 236.0h1.00M234.5 241.7h1.00M238.0 239.7h1.00M250.3 239.6h1.00M244.5 241.5h1.00M245.6 236.7h1.00M259.0 237.0h1.00M263.1 235.8h1.00M255.1 239.0h1.00M234.0 244.0h1.00M261.6 238.5h1.00M256.4 237.0h1.00M247.9 239.7h1.00M253.3 240.0h1.00M245.4 238.0h1.00M241.0 241.0h1.00M242.9 238.7h1.00M244.6 233.9h1.00M243.7 239.2h1.00M257.7 233.7h1.00M244.2 240.7h1.00M254.1 241.0h1.00M261.2 235.2h1.00M255.9 237.5h1.00M238.0 243.8h1.00M240.1 238.4h1.00M242.9 238.0h1.00M260.6 238.4h1.00M265.5 237.8h1.00M240.3 242.4h1.00M239.8 239.3h1.00M245.9 239.6h1.00M262.9 236.0h1.00M252.4 238.6h1.00M232.3 238.9h1.00M245.3 240.4h1.00M252.0 239.7h1.00M248.6 238.2h1.00M253.3 236.3h1.00M231.2 240.7h1.00M230.1 240.4h1.00M238.6 239.2h1.00M247.4 237.5h1.00M242.7 236.2h1.00M249.8 237.1h1.00M253.1 232.4h1.00M238.0 241.0h1.00M249.2 239.3h1.00M229.2 242.1h1.00M249.9 236.9h1.00M257.3 237.9h1.00M248.2 238.2h1.00M254.9 238.5h1.00M262.3 238.3h1.00M240.3 239.7h1.00M259.5 236.9h1.00M252.8 239.7h1.00M245.7 234.5h1.00M249.7 239.4h1.00M249.7 237.3h1.00M263.2 236.9h1.00M240.2 238.7h1.00M252.5 236.3h1.00M235.4 245.2h1.00M264.5 239.4h1.00M265.2 238.3h1.00M263.6 238.2h1.00M265.2 235.9h1.00M249.6 240.7h1.00M246.9 241.7h1.00M249.0 240.6h1.00M249.1 235.9h1.00M235.5 247.7h1.00M251.5 241.6h1.00M262.3 241.1h1.00M255.0 237.0h1.00M248.2 235.0h1.00M245.6 241.5h1.00M258.4 240.7h1.00M236.3 239.3h1.00M254.7 242.8h1.00M233.5 244.1h1.00M253.4 237.4h1.00M247.1 239.8h1.00M260.4 240.6h1.00M254.5 239.1h1.00M245.7 238.6h1.00M232.5 245.4h1.00M242.4 235.4h1.00M251.3 238.7h1.00M250.2 242.9h1.00M246.7 238.8h1.00M238.6 240.4h1.00M242.5 240.4h1.00M237.2 244.8h1.00M258.9 239.6h1.00M257.0 239.8h1.00M256.5 241.2h1.00M260.7 240.5h1.00M241.7 240.0h1.00M238.8 242.5h1.00M258.5 236.8h1.00M255.4 244.0h1.00M263.6 234.7h1.00M246.8 240.7h1.00M247.5 240.1h1.00M262.9 238.0h1.00M234.1 242.6h1.00M246.8 239.6h1.00M240.8 237.1h1.00M232.2 240.5h1.00M234.5 235.0h1.00M262.5 234.8h1.00M238.8 241.5h1.00M238.3 241.9h1.00M241.9 240.7h1.00M249.3 239.0h1.00M247.5 242.3h1.00M241.1 241.3h1.00M250.1 240.0h1.00M260.6 234.3h1.00M251.5 238.4h1.00M244.0 237.8h1.00M238.0 238.2h1.00M234.1 246.5h1.00M269.5 236.4h1.00M257.4 235.9h1.00M249.8 242.1h1.00M247.5 237.1h1.00M244.9 237.4h1.00M230.3 241.0h1.00M242.9 238.1h1.00M236.8 238.6h1.00M251.0 241.9h1.00M245.3 244.4h1.00M233.3 240.7h1.00M249.3 240.3h1.00M262.3 236.1h1.00M232.3 240.8h1.00M251.7 237.2h1.00M259.3 241.4h1.00M230.0 242.3h1.00M260.9 233.3h1.00M250.6 238.4h1.00M230.0 244.4h1.00M250.8 237.8h1.00M253.6 239.9h1.00M257.7 239.2h1.00M253.2 236.0h1.00M242.7 240.2h1.00M243.2 237.5h1.00M248.4 237.9h1.00M242.7 237.9h1.00M238.5 240.2h1.00" stroke="#4d8fe8" stroke-width="1.00" fill="none" opacity="1.0"/>
<ellipse cx="236" cy="242" rx="7" ry="1.6" fill="#4d8fe8" opacity="1.0" transform="rotate(-12 236 242)"/>
<path d="M215.2 245.3h1.00M217.4 243.7h1.00M219.8 245.9h1.00M220.6 243.4h1.00M217.3 241.6h1.00M216.5 245.1h1.00M219.0 242.3h1.00M212.2 240.8h1.00M219.4 245.4h1.00M219.6 240.0h1.00M217.1 243.9h1.00M214.0 244.7h1.00M217.1 241.6h1.00M212.6 246.0h1.00M219.6 241.1h1.00M213.6 246.0h1.00M220.6 242.2h1.00M225.0 241.5h1.00M213.4 246.5h1.00M217.2 244.2h1.00M218.2 241.0h1.00M212.8 243.7h1.00M224.2 240.1h1.00M224.0 242.8h1.00M213.1 244.7h1.00M220.5 240.9h1.00M208.7 245.6h1.00M213.1 245.1h1.00M209.6 244.3h1.00M214.5 240.6h1.00M216.9 243.9h1.00M215.6 241.1h1.00M218.9 239.3h1.00M220.3 244.0h1.00M225.3 244.1h1.00M219.6 243.6h1.00M218.1 240.3h1.00M224.4 243.4h1.00M216.7 240.9h1.00M224.5 243.4h1.00M212.8 245.6h1.00M226.3 241.9h1.00M219.7 242.1h1.00M215.3 246.1h1.00M231.5 241.4h1.00M217.5 245.2h1.00M216.7 245.1h1.00M221.6 240.5h1.00M213.3 243.9h1.00M221.6 243.3h1.00M223.4 239.4h1.00M220.2 241.6h1.00M218.4 243.9h1.00M213.8 243.5h1.00M212.9 244.7h1.00M214.3 242.8h1.00M219.0 241.7h1.00M223.0 241.1h1.00M221.7 243.3h1.00M213.5 243.5h1.00M214.3 243.1h1.00M216.8 247.5h1.00M216.2 247.1h1.00M220.0 240.1h1.00M207.9 246.4h1.00M209.3 246.3h1.00M222.5 243.4h1.00M217.1 242.9h1.00M219.1 242.4h1.00M215.7 242.9h1.00M223.1 241.1h1.00M219.7 240.5h1.00M214.9 240.8h1.00M217.1 245.0h1.00M219.3 242.0h1.00M220.7 242.1h1.00M219.6 243.6h1.00M220.4 237.4h1.00M212.3 245.9h1.00M217.5 248.3h1.00M217.0 242.2h1.00M224.5 243.5h1.00M226.3 243.1h1.00M217.1 245.0h1.00M214.6 242.9h1.00M215.6 243.2h1.00M221.4 241.7h1.00M219.4 242.0h1.00M221.8 236.6h1.00M217.1 243.8h1.00M213.3 246.3h1.00M218.9 246.0h1.00M222.2 244.0h1.00M217.3 241.0h1.00M217.0 242.4h1.00M219.1 242.1h1.00M231.3 237.6h1.00M223.1 241.4h1.00M216.9 245.5h1.00M218.0 240.6h1.00M219.8 242.6h1.00M209.1 245.2h1.00M213.4 242.4h1.00M220.1 243.6h1.00M216.7 248.3h1.00M219.8 241.7h1.00M219.0 242.9h1.00M208.4 241.3h1.00M212.0 248.8h1.00M217.2 242.8h1.00M215.5 245.9h1.00M218.1 247.1h1.00M221.4 246.4h1.00M217.5 244.2h1.00M216.1 243.2h1.00M210.5 243.2h1.00M213.9 242.5h1.00M223.3 243.0h1.00M223.3 244.3h1.00M222.0 244.9h1.00M215.4 245.5h1.00M216.6 242.4h1.00M223.2 247.2h1.00M213.8 247.8h1.00M221.6 240.9h1.00M219.2 243.9h1.00M219.6 242.3h1.00M212.4 244.3h1.00M221.7 244.4h1.00M220.9 245.3h1.00M213.7 243.9h1.00M219.5 245.3h1.00M218.7 244.3h1.00M218.6 247.8h1.00M208.5 244.8h1.00M228.7 242.1h1.00M210.1 244.9h1.00M211.8 242.8h1.00M219.0 246.9h1.00M220.0 244.5h1.00M222.4 243.0h1.00M214.3 243.7h1.00M219.5 242.5h1.00M215.1 243.0h1.00M211.5 242.1h1.00M217.6 242.6h1.00M218.2 246.4h1.00M219.3 243.0h1.00M212.9 241.7h1.00M219.6 241.1h1.00M219.9 240.6h1.00M218.6 243.0h1.00M222.3 241.7h1.00M216.4 244.1h1.00M218.2 247.0h1.00M216.9 242.3h1.00M216.6 244.6h1.00M219.0 244.7h1.00M212.0 249.7h1.00M226.0 242.0h1.00M212.8 244.5h1.00M219.8 238.1h1.00M218.1 240.0h1.00M220.0 246.0h1.00M222.5 239.3h1.00M224.0 244.3h1.00M216.4 244.7h1.00M224.6 241.5h1.00M217.9 242.1h1.00M223.0 237.8h1.00" stroke="#d030e0" stroke-width="1.00" fill="none" opacity="1.0"/>
<ellipse cx="218" cy="243.5" rx="7.5" ry="2.6" fill="#d030e0" opacity="1.0" transform="rotate(-10 218 243.5)"/>
<path d="M208.1 243.3h1.00M205.8 242.0h1.00M197.2 244.5h1.00M205.3 242.0h1.00M204.3 244.1h1.00M207.2 244.7h1.00M203.7 245.1h1.00M209.8 244.5h1.00M201.4 249.8h1.00M201.9 247.0h1.00M198.1 246.2h1.00M191.0 246.3h1.00M198.5 242.6h1.00M195.0 248.3h1.00M203.5 242.3h1.00M209.9 243.8h1.00M199.8 246.2h1.00M196.2 242.4h1.00M198.1 248.2h1.00M205.9 242.1h1.00M207.1 245.4h1.00M203.8 245.6h1.00M203.4 243.4h1.00M197.3 244.3h1.00M199.8 247.0h1.00M195.9 249.2h1.00M198.6 244.5h1.00M204.7 246.4h1.00M199.9 243.4h1.00M196.9 242.4h1.00M206.8 247.6h1.00M210.1 246.3h1.00M203.0 247.1h1.00M205.9 244.9h1.00M203.1 250.1h1.00M193.7 243.0h1.00M197.1 247.4h1.00M207.0 244.6h1.00M204.6 245.4h1.00M202.9 244.4h1.00M201.4 245.6h1.00M206.7 250.1h1.00M193.1 247.1h1.00M201.5 247.6h1.00M206.4 247.0h1.00M205.2 243.4h1.00M193.6 249.5h1.00M207.1 243.3h1.00M207.5 246.7h1.00M190.2 248.0h1.00M196.9 248.3h1.00M198.4 244.2h1.00M194.4 245.5h1.00M206.2 244.0h1.00M192.9 250.5h1.00M210.0 246.7h1.00M199.0 243.2h1.00M193.9 247.1h1.00M207.5 243.1h1.00M201.5 245.0h1.00M200.3 246.7h1.00M211.2 243.8h1.00M205.4 247.7h1.00M200.2 245.3h1.00M195.3 248.2h1.00M199.0 244.3h1.00M201.8 243.8h1.00M196.7 245.2h1.00M208.4 244.9h1.00M203.9 242.4h1.00M192.5 249.8h1.00M199.7 242.4h1.00M201.0 246.9h1.00M193.5 244.1h1.00M202.7 243.6h1.00M205.2 247.5h1.00M203.5 244.6h1.00M201.3 244.3h1.00M200.9 246.3h1.00M200.1 247.7h1.00M213.5 243.9h1.00M203.1 247.3h1.00M204.5 245.0h1.00M199.3 247.8h1.00M204.4 246.5h1.00M197.8 247.1h1.00M205.2 245.0h1.00M204.5 250.1h1.00M192.8 247.3h1.00M196.1 243.0h1.00M200.4 246.8h1.00M201.7 243.1h1.00M194.8 244.7h1.00M201.6 243.8h1.00M194.5 249.6h1.00M197.6 245.4h1.00M199.0 244.5h1.00M201.7 245.0h1.00M204.4 243.0h1.00M194.6 250.0h1.00M201.2 247.2h1.00M207.0 246.5h1.00M201.7 242.3h1.00M194.1 248.0h1.00M204.6 246.7h1.00M193.8 241.4h1.00M196.6 243.3h1.00M202.2 243.4h1.00M208.9 243.9h1.00M198.9 247.6h1.00M203.0 243.6h1.00M205.3 249.5h1.00M195.8 245.3h1.00M196.5 241.7h1.00M204.4 246.9h1.00M206.0 246.3h1.00M192.1 246.0h1.00M198.4 243.2h1.00M196.3 247.5h1.00M200.1 249.8h1.00M203.7 241.4h1.00M205.7 248.1h1.00M201.6 243.0h1.00M209.7 242.4h1.00M201.1 241.6h1.00M195.6 242.3h1.00M206.6 247.9h1.00M199.6 242.8h1.00M201.2 246.4h1.00M194.4 243.5h1.00M201.0 247.1h1.00M201.8 246.5h1.00M195.7 240.6h1.00M203.0 243.6h1.00M200.9 244.8h1.00M203.7 243.8h1.00M208.3 245.4h1.00M204.0 246.8h1.00M206.4 246.2h1.00M193.3 244.6h1.00M210.2 246.2h1.00M204.1 246.5h1.00M198.5 244.3h1.00M198.5 248.2h1.00M203.2 249.3h1.00M203.8 249.5h1.00M203.6 243.0h1.00M209.7 245.9h1.00M207.1 245.8h1.00M200.0 246.0h1.00M196.2 243.3h1.00M197.3 244.7h1.00M195.1 245.7h1.00M202.9 249.9h1.00M210.2 245.1h1.00M205.7 244.9h1.00M203.3 245.4h1.00M199.0 245.9h1.00M194.5 246.9h1.00M200.1 243.3h1.00M199.8 246.9h1.00M198.3 246.8h1.00M204.2 248.8h1.00M196.4 245.6h1.00M203.9 248.7h1.00M202.7 247.2h1.00M194.6 244.7h1.00M209.4 244.6h1.00M211.7 243.6h1.00M200.2 242.2h1.00M204.5 246.0h1.00M211.0 245.5h1.00M200.3 242.6h1.00M201.1 247.7h1.00M205.0 248.1h1.00M205.6 245.3h1.00M204.4 245.8h1.00M195.2 249.6h1.00M203.3 243.2h1.00M203.3 246.1h1.00M206.2 248.5h1.00M187.1 247.5h1.00M208.8 243.2h1.00M192.7 246.6h1.00M203.1 246.3h1.00M196.2 244.8h1.00M202.4 247.2h1.00M211.9 245.8h1.00M198.6 240.6h1.00M206.6 245.1h1.00M201.0 243.5h1.00M205.0 241.6h1.00M202.0 245.8h1.00M202.9 248.4h1.00M201.0 245.8h1.00M205.6 242.0h1.00M200.1 245.8h1.00M206.0 243.7h1.00M205.3 246.3h1.00M194.4 242.7h1.00" stroke="#e03a18" stroke-width="1.00" fill="none" opacity="1.0"/>
<ellipse cx="202" cy="245.6" rx="7.8" ry="2.9" fill="#e03a18" opacity="1.0" transform="rotate(-3 202 245.6)"/>
<rect x="175.50" y="224.50" width="99.50" height="72.50" fill="none" stroke="#444" stroke-width="0.6" />
<rect x="179.50" y="224.50" width="29.70" height="31.50" fill="none" stroke="#222" stroke-width="0.6" />
<rect x="209.20" y="224.50" width="18.30" height="31.50" fill="none" stroke="#222" stroke-width="0.6" />
<rect x="227.50" y="224.50" width="47.50" height="31.50" fill="none" stroke="#222" stroke-width="0.6" />
<rect x="179.50" y="256.00" width="29.70" height="35.00" fill="none" stroke="#222" stroke-width="0.6" />
<text transform="translate(185.50 236.80)" font-size="11.5" text-anchor="start" font-weight="bold" fill="#000" stroke="#000" stroke-width="0.45">E<tspan dy="2.5" font-size="7.5">4</tspan></text>
<text transform="translate(214.20 236.80)" font-size="11.5" text-anchor="start" font-weight="bold" fill="#000" stroke="#000" stroke-width="0.45">E<tspan dy="2.5" font-size="7.5">3</tspan></text>
<text transform="translate(272.00 236.80)" font-size="11.5" text-anchor="end" font-weight="bold" fill="#000" stroke="#000" stroke-width="0.45">E<tspan dy="2.5" font-size="7.5">2</tspan></text>
<text transform="translate(185.50 286.50)" font-size="12" text-anchor="start" font-weight="bold" fill="#000" stroke="#000" stroke-width="0.45">R</text>
<line x1="175.50" y1="297.90" x2="275.00" y2="297.90" stroke="#555" stroke-width="1.2" stroke-dasharray="0.5 1.7"/>
<text transform="translate(193.00 304.60)" font-size="3.6" text-anchor="middle" font-weight="bold" fill="#333" >50</text>
<text transform="translate(211.70 304.60)" font-size="3.6" text-anchor="middle" font-weight="bold" fill="#333" >100</text>
<text transform="translate(230.00 304.60)" font-size="3.6" text-anchor="middle" font-weight="bold" fill="#333" >150</text>
<text transform="translate(248.70 304.60)" font-size="3.6" text-anchor="middle" font-weight="bold" fill="#333" >200</text>
<text transform="translate(268.70 304.60)" font-size="3.6" text-anchor="middle" font-weight="bold" fill="#333" >250</text>
<text transform="translate(265.00 311.30)" font-size="3.6" text-anchor="middle" font-weight="normal" fill="#333" >(x 1,000)</text>
<line x1="174.60" y1="224.50" x2="174.60" y2="289.00" stroke="#555" stroke-width="1.2" stroke-dasharray="0.5 1.7"/>
<text transform="translate(171.10 230.50) rotate(-90)" font-size="3.6" text-anchor="middle" font-weight="bold" fill="#222" >10</text>
<text transform="translate(171.10 246.50) rotate(-90)" font-size="3.6" text-anchor="middle" font-weight="bold" fill="#222" >10</text>
<text transform="translate(171.10 265.50) rotate(-90)" font-size="3.6" text-anchor="middle" font-weight="bold" fill="#222" >10</text>
<text transform="translate(171.10 282.50) rotate(-90)" font-size="3.6" text-anchor="middle" font-weight="bold" fill="#222" >10</text>
<path d="M66.9 381.1h1.00M69.9 377.7h1.00M71.0 362.3h1.00M71.4 373.9h1.00M70.3 374.0h1.00M67.2 382.4h1.00M67.7 366.4h1.00M68.9 375.2h1.00M69.4 369.2h1.00M67.7 379.2h1.00M68.2 362.7h1.00M69.7 385.3h1.00M68.8 364.2h1.00M72.0 380.6h1.00M69.0 371.6h1.00M69.7 380.7h1.00M67.5 366.3h1.00M70.3 370.6h1.00M72.7 359.6h1.00M70.1 371.0h1.00M70.0 384.4h1.00M71.8 359.1h1.00M70.7 364.6h1.00M69.7 372.9h1.00M69.5 367.4h1.00M72.3 361.0h1.00M70.8 384.1h1.00M70.6 378.3h1.00M72.0 374.7h1.00M73.0 361.5h1.00M66.4 375.5h1.00M67.0 379.4h1.00M66.8 370.6h1.00M70.0 371.9h1.00M68.1 374.1h1.00M69.3 373.3h1.00M69.5 369.9h1.00M68.6 376.0h1.00M68.8 368.9h1.00M68.7 376.4h1.00M71.7 363.4h1.00M69.0 376.9h1.00M70.0 366.9h1.00M68.5 381.1h1.00M69.6 366.4h1.00M65.6 367.6h1.00M69.5 370.8h1.00M70.3 371.7h1.00M68.6 362.6h1.00M67.5 376.7h1.00M67.4 385.5h1.00M67.1 362.2h1.00M69.2 356.2h1.00M69.4 370.0h1.00M68.0 359.7h1.00M66.2 390.5h1.00M71.3 387.0h1.00M66.9 385.4h1.00M69.5 380.1h1.00M68.6 381.7h1.00M71.1 372.9h1.00M72.1 362.4h1.00M72.3 356.8h1.00M69.5 364.3h1.00M69.5 381.8h1.00M70.8 369.0h1.00M68.0 390.9h1.00M70.1 358.8h1.00M72.2 374.8h1.00M68.5 387.3h1.00M68.0 385.3h1.00M70.5 367.6h1.00M66.9 377.2h1.00M65.4 379.2h1.00M70.6 372.3h1.00M70.9 368.4h1.00M70.4 378.5h1.00M68.4 361.8h1.00M69.4 356.3h1.00M69.5 379.3h1.00M72.2 366.2h1.00M69.9 378.1h1.00M72.0 361.3h1.00M67.3 371.2h1.00M67.2 370.5h1.00M69.3 375.9h1.00M69.8 371.8h1.00M68.9 378.0h1.00M71.1 374.4h1.00M72.2 361.0h1.00M69.0 389.5h1.00M69.9 374.8h1.00M68.9 383.1h1.00M68.8 364.6h1.00M69.4 368.1h1.00M71.0 363.8h1.00M69.7 369.3h1.00M70.1 364.1h1.00M68.8 367.4h1.00M70.7 368.8h1.00M70.4 366.2h1.00M68.2 365.3h1.00M68.9 368.7h1.00M70.0 373.8h1.00M71.3 365.6h1.00M68.2 366.0h1.00M69.6 375.1h1.00M73.0 363.0h1.00M72.7 380.2h1.00M67.6 389.3h1.00M71.5 378.6h1.00M69.5 381.2h1.00M68.6 374.0h1.00M69.5 388.9h1.00M69.1 382.3h1.00M69.6 364.9h1.00M69.9 377.0h1.00M68.2 382.0h1.00M68.2 367.6h1.00M69.9 368.5h1.00M67.7 361.9h1.00M69.5 374.2h1.00M68.7 376.3h1.00M66.8 384.1h1.00M70.2 372.4h1.00M68.4 376.1h1.00M69.7 381.5h1.00M70.0 372.9h1.00M68.2 384.2h1.00M71.6 360.8h1.00M70.6 371.4h1.00M69.4 360.0h1.00M70.0 366.8h1.00M71.6 361.7h1.00" stroke="#a89a20" stroke-width="1.00" fill="none" opacity="0.95"/>
<path d="M82.6 377.3h1.00M83.4 363.8h1.00M83.9 374.7h1.00M84.5 363.9h1.00M82.4 365.3h1.00M80.8 373.1h1.00M83.3 387.0h1.00M81.9 374.6h1.00M84.8 368.6h1.00M82.6 371.6h1.00M81.1 358.2h1.00M84.7 372.1h1.00M82.4 355.1h1.00M82.7 384.0h1.00M80.2 359.3h1.00M84.7 387.1h1.00M85.6 363.4h1.00M83.7 361.0h1.00M83.5 365.6h1.00M82.9 386.0h1.00M83.2 367.1h1.00M82.6 373.2h1.00M81.5 372.5h1.00M83.7 388.6h1.00M78.4 355.8h1.00M80.0 380.5h1.00M87.4 372.3h1.00M82.7 383.6h1.00M81.5 364.2h1.00M83.2 363.0h1.00M84.7 370.0h1.00M81.6 381.0h1.00M80.9 384.9h1.00M84.4 371.7h1.00M84.5 389.2h1.00M85.2 370.0h1.00M82.4 383.2h1.00M79.6 362.8h1.00M83.5 376.8h1.00M86.2 390.9h1.00M83.1 375.3h1.00M79.9 367.8h1.00M83.0 367.3h1.00M82.6 377.2h1.00M80.6 363.3h1.00M79.0 383.6h1.00M84.0 367.5h1.00M84.4 365.6h1.00M86.7 378.5h1.00M82.8 371.4h1.00M82.1 379.6h1.00M86.5 365.0h1.00M80.3 377.1h1.00M84.6 352.3h1.00M81.1 358.2h1.00M83.6 376.0h1.00M81.0 356.6h1.00M83.8 368.2h1.00M86.3 381.8h1.00M81.4 366.8h1.00M82.0 361.4h1.00M82.7 381.4h1.00M79.5 367.3h1.00M85.4 378.8h1.00M80.9 360.5h1.00" stroke="#8fd47a" stroke-width="1.00" fill="none" opacity="0.85"/>
<path d="M69.1 341.9h1.00M73.5 349.3h1.00M69.5 342.6h1.00M70.2 346.7h1.00M74.7 347.0h1.00M71.3 353.7h1.00M72.4 348.2h1.00M66.3 355.2h1.00M72.3 347.1h1.00M70.8 344.8h1.00M69.1 342.4h1.00M72.1 351.3h1.00M71.4 352.5h1.00M72.2 349.5h1.00M69.1 351.6h1.00M73.6 351.8h1.00M73.7 346.9h1.00M68.9 354.5h1.00M69.7 350.1h1.00M70.6 349.1h1.00M70.4 346.6h1.00M67.1 357.4h1.00M71.4 340.5h1.00M69.0 344.0h1.00M69.4 337.7h1.00M72.2 356.2h1.00M70.5 352.3h1.00M72.3 343.5h1.00M73.6 341.6h1.00M69.8 347.4h1.00M73.7 349.5h1.00M70.7 345.5h1.00M71.2 349.2h1.00M72.6 355.2h1.00M72.6 349.1h1.00M70.7 356.1h1.00M71.4 348.9h1.00M74.9 355.9h1.00M72.2 348.5h1.00M69.6 353.7h1.00M70.0 353.2h1.00M69.3 349.5h1.00M71.9 349.6h1.00M71.5 350.7h1.00M68.6 344.1h1.00M70.7 356.9h1.00M70.7 344.9h1.00M69.6 349.1h1.00M73.5 346.5h1.00M72.2 349.8h1.00M70.2 344.8h1.00M70.7 345.8h1.00M72.2 341.3h1.00M73.4 352.3h1.00M72.2 355.6h1.00M72.3 341.5h1.00M71.1 351.0h1.00M69.5 344.0h1.00M71.9 351.2h1.00M70.1 347.9h1.00M69.9 346.5h1.00M70.9 353.7h1.00M67.5 347.5h1.00M74.5 350.4h1.00M71.3 352.7h1.00M68.8 343.7h1.00M67.4 342.6h1.00M71.5 352.7h1.00M70.1 346.0h1.00M71.9 351.7h1.00M71.6 340.6h1.00M69.8 337.9h1.00M71.5 345.3h1.00M69.6 355.6h1.00M73.8 351.1h1.00M71.6 349.8h1.00M69.7 348.8h1.00M75.1 345.2h1.00M69.6 349.7h1.00M72.9 352.7h1.00M68.9 348.4h1.00M70.4 343.6h1.00M71.2 346.9h1.00M73.0 350.9h1.00M69.3 349.4h1.00M70.2 346.2h1.00M70.0 353.7h1.00M70.1 341.5h1.00M69.3 352.5h1.00M75.6 344.4h1.00M70.2 347.6h1.00M68.0 350.8h1.00M70.9 350.2h1.00M75.8 347.8h1.00M72.7 352.7h1.00M69.6 346.4h1.00M74.3 352.1h1.00M71.3 344.2h1.00M72.9 351.3h1.00M75.7 355.5h1.00M72.7 350.2h1.00M71.1 346.6h1.00M71.7 350.1h1.00M72.4 353.8h1.00M71.7 346.6h1.00M72.7 355.8h1.00M69.2 350.8h1.00M72.2 351.3h1.00M72.1 348.6h1.00M70.8 356.4h1.00M74.7 342.9h1.00M65.6 350.9h1.00M69.6 346.7h1.00M67.6 350.5h1.00M70.9 346.6h1.00M72.9 359.6h1.00M74.2 354.1h1.00M70.1 351.9h1.00M70.9 354.1h1.00M72.2 348.8h1.00M72.2 345.9h1.00M72.7 355.6h1.00M70.2 351.4h1.00M67.4 353.1h1.00M72.9 344.5h1.00M74.7 349.5h1.00M67.3 343.0h1.00M72.9 347.8h1.00M73.4 342.2h1.00M70.8 353.3h1.00M69.6 352.0h1.00M70.2 350.5h1.00M71.7 358.8h1.00M68.4 352.4h1.00M73.8 344.1h1.00M71.2 359.1h1.00M73.2 336.0h1.00M70.5 341.5h1.00M71.6 345.8h1.00M69.8 345.3h1.00M71.6 347.0h1.00M69.1 348.0h1.00M71.9 345.3h1.00M73.4 341.7h1.00M71.9 347.3h1.00M74.4 346.2h1.00M69.6 343.1h1.00M75.2 351.7h1.00M68.7 347.5h1.00M69.0 355.7h1.00M71.9 340.1h1.00M71.4 353.0h1.00M71.0 351.1h1.00M70.8 349.9h1.00M71.5 345.9h1.00M71.7 349.7h1.00M70.9 346.0h1.00M68.8 350.1h1.00M72.8 338.4h1.00M69.9 354.9h1.00" stroke="#dc9a0c" stroke-width="1.00" fill="none" opacity="1.0"/>
<ellipse cx="71.2" cy="349.5" rx="3.6" ry="6.6" fill="#dc9a0c" opacity="1.0" transform="rotate(0 71.2 349.5)"/>
<ellipse cx="70.6" cy="362" rx="1.6" ry="8" fill="#b89a18" opacity="1.0" transform="rotate(0 70.6 362)"/>
<path d="M84.0 343.9h1.00M85.0 343.3h1.00M80.2 349.8h1.00M81.0 345.0h1.00M78.3 343.2h1.00M79.4 345.2h1.00M77.9 347.9h1.00M81.2 344.1h1.00M80.6 347.2h1.00M85.4 344.6h1.00M85.6 349.1h1.00M85.0 346.2h1.00M78.7 347.0h1.00M81.1 345.9h1.00M77.8 344.9h1.00M82.5 343.4h1.00M82.7 349.2h1.00M82.5 344.0h1.00M87.3 340.7h1.00M79.9 346.4h1.00M80.7 340.4h1.00M82.6 347.4h1.00M80.2 348.8h1.00M83.1 348.2h1.00M78.6 345.5h1.00M85.6 350.0h1.00M85.0 345.5h1.00M82.4 344.1h1.00M84.5 343.9h1.00M82.3 340.9h1.00M78.6 349.5h1.00M82.1 346.0h1.00M77.1 345.4h1.00M86.6 342.1h1.00M76.7 345.1h1.00M80.8 345.0h1.00M79.2 342.5h1.00M79.2 346.9h1.00M81.9 347.3h1.00M79.6 346.8h1.00M81.0 345.7h1.00M84.1 345.6h1.00M81.2 341.8h1.00M82.1 347.3h1.00M80.6 345.4h1.00M78.0 342.5h1.00M82.9 348.4h1.00M81.3 341.7h1.00M81.1 342.0h1.00M81.4 349.8h1.00M82.7 345.2h1.00M84.3 344.6h1.00M82.7 346.0h1.00M83.0 342.2h1.00M83.6 347.5h1.00M76.9 339.4h1.00M80.0 348.9h1.00M82.0 347.0h1.00M83.3 347.5h1.00M80.6 344.2h1.00M82.8 346.9h1.00M83.3 346.3h1.00M80.9 348.0h1.00M83.1 347.9h1.00M76.3 347.8h1.00M76.5 346.0h1.00M80.5 345.8h1.00M80.9 344.8h1.00M82.4 346.3h1.00M80.2 339.8h1.00" stroke="#8a8a8a" stroke-width="1.00" fill="none" opacity="1.0"/>
<path d="M98.1 373.9h1.00M97.5 372.6h1.00M101.7 357.8h1.00M115.4 386.0h1.00M104.1 367.5h1.00M113.5 353.6h1.00M97.3 380.3h1.00M113.0 362.6h1.00M98.1 371.8h1.00M92.5 362.6h1.00M110.3 376.3h1.00M114.5 352.4h1.00M93.6 359.1h1.00M93.4 390.4h1.00M96.3 364.6h1.00M106.8 373.0h1.00M117.9 356.1h1.00M112.8 369.6h1.00M94.6 369.6h1.00M92.5 385.7h1.00M98.5 379.0h1.00M116.6 361.3h1.00M97.0 369.4h1.00M95.6 377.8h1.00M106.6 359.7h1.00M98.9 375.9h1.00M92.0 386.4h1.00M98.0 365.9h1.00M96.7 385.7h1.00M112.4 382.2h1.00M110.8 369.0h1.00M120.2 375.3h1.00M108.9 374.3h1.00M111.6 371.0h1.00M103.5 350.5h1.00M123.4 353.8h1.00M122.3 381.4h1.00M99.6 370.9h1.00M104.8 346.2h1.00M102.0 371.2h1.00M115.5 354.8h1.00M108.0 368.9h1.00M106.3 369.6h1.00M101.7 353.0h1.00M109.1 372.2h1.00M110.2 381.7h1.00M89.0 391.5h1.00M96.8 372.4h1.00M104.9 376.0h1.00M133.9 362.3h1.00M103.5 361.4h1.00M107.2 373.7h1.00M96.3 382.5h1.00M115.3 372.9h1.00M104.0 365.4h1.00M90.2 375.2h1.00M96.2 362.5h1.00M114.0 357.9h1.00M100.3 377.4h1.00M121.7 360.4h1.00M114.9 360.8h1.00M108.5 373.3h1.00M94.8 379.3h1.00M121.2 368.6h1.00M107.4 355.1h1.00M121.1 368.7h1.00M93.5 376.4h1.00M91.8 360.5h1.00M124.9 361.0h1.00M99.1 361.6h1.00M99.9 374.1h1.00M118.1 356.9h1.00M109.0 348.2h1.00M118.7 367.0h1.00M98.7 384.8h1.00M104.0 383.1h1.00M114.7 386.2h1.00M97.8 368.6h1.00M108.3 365.9h1.00M118.7 360.1h1.00M114.0 383.0h1.00M96.9 362.0h1.00M108.5 366.1h1.00M105.7 362.9h1.00M104.3 373.3h1.00M111.7 359.4h1.00M104.0 359.6h1.00M103.4 352.2h1.00M113.6 375.4h1.00M103.9 360.5h1.00M100.9 360.7h1.00M91.1 386.0h1.00M134.6 354.5h1.00M94.5 374.4h1.00M110.5 350.7h1.00M87.7 374.0h1.00M100.5 368.9h1.00M105.0 361.8h1.00M103.7 364.7h1.00M116.2 367.0h1.00M104.7 362.2h1.00M99.3 359.9h1.00M105.1 388.2h1.00M115.0 370.6h1.00M120.0 379.2h1.00M106.9 366.2h1.00M95.1 370.7h1.00M102.2 350.6h1.00M93.4 389.3h1.00M106.9 373.5h1.00M106.8 362.9h1.00M109.2 379.9h1.00M102.2 373.6h1.00M114.2 362.7h1.00M106.5 359.9h1.00M110.4 363.9h1.00M115.3 359.6h1.00M120.2 364.6h1.00M97.4 358.1h1.00M111.0 358.6h1.00M121.2 382.1h1.00M109.7 352.4h1.00M104.8 360.0h1.00M88.7 372.7h1.00M124.8 362.1h1.00M112.3 382.1h1.00M96.4 364.3h1.00M107.4 373.2h1.00M94.7 370.4h1.00M104.0 378.5h1.00M90.6 361.8h1.00M100.5 364.5h1.00M111.5 361.1h1.00M129.6 360.2h1.00M112.6 379.2h1.00M113.7 365.8h1.00M97.5 365.2h1.00M111.0 369.3h1.00M110.2 374.3h1.00M97.0 357.7h1.00M118.0 362.7h1.00M90.7 388.5h1.00M97.5 357.7h1.00M113.7 355.6h1.00M97.2 379.5h1.00M106.2 368.6h1.00M99.2 365.6h1.00M100.5 367.7h1.00M111.9 354.0h1.00M118.5 367.2h1.00M104.9 367.4h1.00M114.0 371.5h1.00M112.7 366.2h1.00M103.9 367.4h1.00M88.2 380.0h1.00M90.8 357.1h1.00M111.0 368.6h1.00M112.3 386.8h1.00M121.8 383.2h1.00M103.0 390.5h1.00M97.1 367.1h1.00M114.0 365.7h1.00M103.9 364.1h1.00M116.5 379.7h1.00M104.3 374.2h1.00M96.3 380.2h1.00M132.5 357.9h1.00M117.6 367.4h1.00M102.0 362.6h1.00M103.3 354.2h1.00M92.8 386.3h1.00M104.8 374.1h1.00M107.8 373.2h1.00M91.3 357.6h1.00M110.7 379.0h1.00M94.7 361.6h1.00M95.4 375.2h1.00M108.1 368.4h1.00M99.2 371.8h1.00M105.3 359.8h1.00M108.0 360.7h1.00M113.6 374.9h1.00M98.8 374.5h1.00M105.6 360.2h1.00M96.8 349.7h1.00M94.8 371.8h1.00M115.9 361.1h1.00M106.4 371.8h1.00M112.0 372.9h1.00M116.0 376.4h1.00M98.1 372.4h1.00M105.2 374.4h1.00M102.3 377.2h1.00M116.9 358.8h1.00M100.1 370.9h1.00M109.4 369.6h1.00M112.5 355.0h1.00M112.0 380.8h1.00M115.0 372.7h1.00M102.9 372.4h1.00M104.3 350.5h1.00M99.6 367.6h1.00M100.4 357.7h1.00M102.9 363.9h1.00M105.6 367.5h1.00M106.5 378.9h1.00M106.2 372.5h1.00" stroke="#e2504a" stroke-width="1.00" fill="none" opacity="0.9"/>
<path d="M111.4 350.9h1.00M111.8 344.4h1.00M105.9 352.0h1.00M110.6 348.7h1.00M121.4 350.2h1.00M128.6 346.8h1.00M120.2 351.0h1.00M109.7 347.7h1.00M110.3 342.4h1.00M115.9 343.6h1.00M124.9 343.8h1.00M110.5 348.0h1.00M110.6 347.8h1.00M110.0 340.4h1.00M98.3 341.1h1.00M123.9 349.7h1.00M115.0 345.2h1.00M113.1 349.0h1.00M105.0 343.5h1.00M108.2 353.8h1.00M107.1 353.4h1.00M111.0 361.1h1.00M113.5 347.7h1.00M122.8 351.9h1.00M120.1 342.2h1.00M121.4 355.9h1.00M113.3 345.1h1.00M106.9 352.6h1.00M115.9 347.5h1.00M106.0 355.6h1.00M119.7 347.4h1.00M123.6 342.7h1.00M119.7 342.5h1.00M123.2 346.1h1.00M121.9 345.4h1.00M116.6 353.2h1.00M108.1 348.0h1.00M108.6 351.8h1.00M110.1 345.6h1.00M112.7 353.3h1.00M107.2 347.4h1.00M111.9 344.8h1.00M108.9 346.7h1.00M115.3 339.8h1.00M115.5 341.6h1.00M114.1 358.9h1.00M107.7 347.2h1.00M112.3 352.4h1.00M110.9 338.6h1.00M103.5 348.4h1.00M115.6 352.8h1.00M110.5 350.8h1.00M107.1 354.0h1.00M113.5 344.1h1.00M115.2 356.2h1.00M108.5 341.3h1.00M107.4 341.7h1.00M113.7 349.3h1.00M112.9 348.5h1.00M121.7 346.1h1.00M105.9 336.1h1.00M115.6 344.1h1.00M112.4 349.5h1.00M117.0 339.7h1.00M107.8 347.9h1.00M113.1 353.2h1.00M110.7 337.2h1.00M121.6 339.3h1.00M107.7 349.4h1.00M107.1 359.9h1.00M115.5 350.2h1.00M111.2 358.6h1.00M117.5 343.9h1.00M122.2 339.1h1.00M110.2 348.9h1.00M114.9 342.7h1.00M124.3 354.9h1.00M107.9 349.4h1.00M109.9 345.3h1.00M120.4 348.1h1.00M113.3 348.0h1.00M106.4 353.6h1.00M109.1 354.0h1.00M111.0 345.2h1.00M123.7 348.5h1.00M109.8 344.8h1.00M117.9 356.9h1.00M118.0 345.5h1.00M106.7 344.1h1.00M113.2 348.7h1.00M109.7 353.9h1.00M107.8 343.9h1.00M117.2 349.9h1.00M111.5 352.3h1.00M104.8 355.7h1.00M128.2 357.3h1.00M114.8 357.3h1.00M114.3 354.1h1.00M112.7 348.5h1.00M117.4 338.8h1.00M112.6 356.1h1.00M95.0 349.4h1.00M120.0 349.1h1.00M115.3 354.4h1.00M116.2 338.0h1.00M107.9 346.0h1.00M114.9 345.3h1.00M113.3 355.8h1.00M94.9 353.3h1.00M120.1 350.5h1.00M114.1 347.8h1.00M116.4 348.7h1.00M109.3 351.4h1.00M108.6 347.3h1.00M111.7 341.7h1.00M117.9 347.2h1.00M106.4 347.1h1.00M105.1 354.7h1.00M117.4 357.4h1.00M110.3 351.0h1.00M107.7 343.2h1.00M113.4 349.6h1.00M120.0 346.2h1.00M121.2 352.3h1.00M108.3 346.6h1.00M108.1 356.0h1.00M110.4 351.9h1.00M119.9 346.2h1.00M110.8 349.2h1.00M109.0 341.2h1.00M107.7 349.2h1.00M115.2 356.3h1.00M102.2 350.0h1.00M106.5 353.3h1.00M118.5 348.1h1.00M123.5 345.6h1.00M110.6 342.3h1.00M109.8 348.1h1.00M118.4 353.9h1.00M112.3 343.9h1.00M111.8 345.4h1.00M111.0 345.5h1.00M108.4 347.2h1.00M110.7 346.7h1.00M105.0 348.2h1.00M117.7 350.7h1.00M110.5 341.8h1.00M105.6 341.7h1.00M109.8 346.0h1.00M102.6 350.8h1.00M104.1 344.1h1.00M109.3 351.6h1.00M125.9 345.7h1.00M112.2 345.6h1.00M112.7 346.7h1.00M129.9 342.1h1.00M113.3 343.6h1.00M116.3 344.9h1.00M117.7 342.1h1.00M127.6 348.5h1.00M102.6 351.0h1.00M111.0 341.8h1.00M116.8 344.9h1.00M118.8 344.8h1.00M119.8 348.2h1.00M116.3 348.3h1.00M111.7 345.7h1.00M116.9 351.0h1.00M111.4 358.6h1.00M124.9 341.8h1.00M121.0 347.2h1.00M115.5 343.6h1.00M124.6 343.4h1.00M113.5 343.9h1.00M126.4 353.7h1.00M105.5 345.3h1.00M116.3 345.4h1.00M111.7 342.2h1.00M115.6 342.1h1.00M119.3 359.3h1.00M111.9 355.6h1.00M116.4 344.2h1.00M111.8 342.8h1.00M114.7 351.0h1.00M120.0 346.1h1.00M106.3 347.1h1.00M124.7 348.9h1.00M113.6 337.3h1.00M111.2 350.2h1.00M107.9 354.1h1.00M110.4 343.2h1.00M110.3 347.1h1.00M120.4 344.7h1.00M102.6 347.1h1.00M117.3 355.1h1.00M106.8 354.8h1.00M118.3 349.7h1.00M109.1 343.2h1.00M107.9 352.1h1.00M115.4 352.8h1.00M125.6 347.6h1.00M113.7 356.9h1.00M105.7 345.3h1.00M111.6 345.7h1.00M114.9 343.4h1.00M121.4 340.8h1.00M108.8 339.2h1.00M105.0 350.4h1.00M118.0 346.6h1.00M119.4 350.5h1.00M110.3 347.3h1.00M116.3 357.4h1.00M111.2 349.3h1.00M117.5 353.5h1.00M116.7 352.8h1.00M107.2 346.2h1.00M101.6 347.3h1.00M128.9 348.7h1.00M114.6 348.8h1.00M114.9 341.0h1.00M109.6 346.7h1.00M115.1 343.3h1.00M113.3 343.9h1.00M105.6 344.3h1.00M108.9 351.6h1.00M122.6 350.4h1.00M112.6 344.8h1.00M104.0 345.0h1.00M124.0 353.2h1.00M115.4 346.3h1.00M114.0 349.6h1.00M114.0 349.6h1.00M109.1 347.8h1.00M111.8 352.8h1.00M106.1 353.9h1.00M113.5 345.1h1.00M114.1 348.1h1.00M112.5 349.6h1.00M110.3 339.3h1.00M118.4 347.4h1.00M124.6 349.4h1.00M101.2 353.6h1.00M109.6 350.2h1.00M128.2 352.9h1.00M107.0 347.1h1.00M103.7 350.8h1.00M117.6 342.5h1.00M116.9 352.1h1.00M119.2 344.3h1.00M109.6 342.1h1.00M105.7 349.1h1.00M114.3 353.9h1.00M115.8 346.0h1.00M104.9 355.1h1.00M115.1 347.4h1.00M107.6 342.4h1.00M118.0 342.8h1.00M117.7 350.6h1.00M111.6 339.6h1.00M116.6 354.4h1.00" stroke="#5b78e0" stroke-width="1.00" fill="none" opacity="1.0"/>
<ellipse cx="114" cy="348" rx="5.5" ry="5" fill="#6a6ce0" opacity="0.85" transform="rotate(0 114 348)"/>
<path d="M94.1 342.7h1.00M105.4 349.8h1.00M95.3 355.2h1.00M97.4 351.3h1.00M96.6 345.2h1.00M100.3 344.7h1.00M88.5 346.3h1.00M106.3 354.6h1.00M111.8 354.1h1.00M108.5 350.3h1.00M96.4 351.4h1.00M93.4 352.8h1.00M96.4 350.4h1.00M94.0 348.4h1.00M104.8 348.0h1.00M95.0 350.5h1.00M104.2 348.1h1.00M92.1 341.2h1.00M91.1 354.4h1.00M98.5 351.5h1.00M105.3 350.5h1.00M101.8 346.5h1.00M89.5 352.2h1.00M98.4 352.0h1.00M92.7 348.3h1.00M110.9 344.8h1.00M99.6 355.7h1.00M97.6 349.7h1.00M86.5 353.0h1.00M96.4 355.5h1.00M98.5 347.2h1.00M101.6 347.9h1.00M96.0 356.8h1.00M104.8 349.6h1.00M103.8 353.2h1.00M102.4 349.3h1.00M99.4 351.1h1.00M102.3 350.8h1.00M95.8 348.7h1.00M101.7 344.1h1.00M98.9 352.9h1.00M100.0 347.6h1.00M98.9 346.6h1.00M104.8 347.2h1.00M89.2 343.0h1.00M100.8 350.1h1.00M96.2 342.5h1.00M98.1 344.9h1.00M95.1 349.1h1.00M94.5 350.6h1.00M94.7 346.8h1.00M97.7 356.4h1.00M108.3 353.8h1.00M94.7 349.1h1.00M104.4 353.1h1.00M89.4 348.8h1.00M94.7 352.8h1.00M102.7 346.4h1.00M111.6 347.7h1.00M113.3 348.2h1.00M98.5 358.5h1.00M95.9 346.7h1.00M107.7 348.9h1.00M101.8 342.8h1.00M109.5 354.0h1.00M101.1 352.6h1.00M96.1 346.7h1.00M89.8 350.9h1.00M106.3 353.3h1.00M104.4 352.6h1.00M93.6 342.6h1.00M102.8 349.9h1.00M104.8 347.7h1.00M93.8 351.3h1.00M95.7 340.9h1.00M95.4 344.7h1.00M92.5 346.4h1.00M104.6 360.7h1.00M109.1 347.0h1.00M105.7 348.7h1.00M101.4 345.7h1.00M98.6 340.8h1.00M109.5 345.3h1.00M102.4 346.2h1.00M100.6 343.3h1.00M96.8 353.6h1.00M102.5 339.5h1.00M104.0 342.6h1.00M100.7 351.7h1.00M95.2 347.5h1.00M97.6 351.1h1.00M104.4 355.8h1.00M100.9 359.0h1.00M93.4 357.9h1.00M97.5 352.9h1.00M98.3 349.5h1.00M93.6 351.0h1.00M110.9 349.8h1.00M98.9 349.1h1.00M103.2 348.1h1.00M99.0 350.2h1.00M106.7 353.8h1.00M92.8 346.0h1.00M99.1 353.3h1.00M104.7 348.1h1.00M111.5 348.3h1.00M107.3 356.1h1.00M108.4 350.1h1.00M102.4 341.5h1.00M88.5 346.1h1.00M103.2 354.3h1.00M98.4 354.2h1.00M102.4 356.6h1.00M89.7 345.0h1.00M93.4 343.9h1.00M108.7 344.5h1.00M94.1 347.1h1.00M104.2 346.8h1.00M103.3 351.8h1.00M95.2 337.4h1.00M93.6 342.9h1.00M108.6 345.5h1.00M92.7 350.9h1.00M99.3 344.5h1.00M105.4 353.6h1.00M100.6 345.3h1.00M93.9 339.0h1.00M101.3 351.0h1.00M93.6 349.2h1.00M118.3 343.5h1.00M89.0 352.1h1.00M96.5 346.6h1.00M102.7 348.4h1.00M104.8 351.6h1.00M105.8 349.7h1.00M86.3 355.8h1.00M89.0 354.2h1.00M100.5 342.2h1.00M99.4 353.4h1.00M93.0 349.3h1.00M94.7 344.1h1.00M95.4 355.4h1.00M103.0 348.9h1.00M98.5 349.7h1.00M100.7 350.0h1.00M88.9 353.6h1.00M94.0 336.2h1.00M103.1 343.1h1.00M98.2 348.6h1.00M95.5 351.7h1.00M97.4 347.7h1.00M93.4 347.7h1.00M92.9 349.3h1.00M106.8 354.0h1.00M101.5 342.3h1.00M105.1 353.7h1.00M111.1 337.9h1.00M99.1 347.4h1.00M105.4 343.7h1.00M96.8 360.5h1.00M104.9 339.2h1.00M99.1 355.8h1.00M95.4 352.0h1.00M99.6 341.8h1.00M95.3 354.7h1.00M106.0 346.1h1.00M105.6 345.5h1.00M100.5 348.9h1.00M91.6 350.6h1.00M96.7 335.5h1.00M94.1 344.9h1.00M94.1 344.2h1.00M94.9 336.9h1.00M104.3 349.4h1.00M100.5 347.7h1.00M99.4 347.7h1.00M92.6 341.5h1.00M99.4 354.1h1.00M100.4 357.0h1.00M90.9 347.7h1.00M95.4 355.1h1.00M109.0 346.4h1.00M103.3 347.8h1.00M93.1 348.5h1.00M92.9 356.7h1.00M102.5 354.9h1.00M101.1 337.0h1.00M103.7 349.5h1.00M84.9 349.5h1.00M105.0 357.5h1.00M93.0 352.9h1.00M101.0 348.2h1.00M97.3 351.7h1.00M102.4 352.3h1.00M96.6 342.5h1.00M106.8 355.5h1.00M95.7 348.9h1.00M103.8 340.3h1.00M101.9 361.1h1.00M100.6 345.5h1.00M111.1 349.1h1.00M100.3 346.9h1.00M100.1 340.1h1.00M91.4 341.7h1.00M104.3 348.6h1.00M105.8 338.9h1.00M95.5 356.3h1.00M94.3 339.7h1.00M94.6 347.3h1.00M98.9 355.5h1.00M106.8 356.7h1.00M102.4 346.5h1.00M96.1 341.6h1.00M106.5 355.3h1.00M99.5 344.6h1.00M103.0 351.4h1.00M99.9 343.2h1.00M100.4 346.2h1.00M103.4 352.0h1.00M101.6 346.9h1.00M108.0 352.9h1.00M106.5 353.2h1.00M102.9 351.0h1.00M92.7 339.9h1.00M93.5 352.1h1.00M104.4 349.9h1.00M99.5 358.2h1.00M96.7 340.1h1.00M89.9 347.4h1.00M103.1 352.7h1.00M97.7 353.1h1.00M98.7 345.4h1.00M96.8 352.8h1.00M104.6 343.4h1.00M93.2 349.6h1.00M111.5 343.2h1.00M91.6 351.1h1.00M102.0 346.0h1.00M98.8 351.4h1.00M88.7 348.9h1.00M102.5 353.6h1.00M105.9 348.6h1.00M90.5 355.7h1.00M103.5 345.8h1.00M105.1 354.2h1.00M98.2 337.2h1.00M96.2 345.2h1.00M94.1 348.6h1.00M92.6 350.9h1.00M110.1 343.1h1.00M105.1 346.4h1.00M102.2 348.4h1.00M106.5 345.5h1.00M103.3 345.1h1.00M100.3 348.9h1.00M105.4 341.1h1.00M91.1 355.9h1.00M101.3 357.5h1.00M92.9 350.1h1.00M102.5 357.8h1.00M98.7 346.8h1.00M103.2 348.5h1.00M94.6 352.8h1.00M87.8 343.9h1.00M107.0 346.5h1.00M97.1 350.9h1.00M105.6 351.6h1.00M93.3 346.2h1.00M105.2 348.4h1.00M95.3 353.4h1.00M105.7 359.8h1.00M92.7 345.5h1.00M94.9 350.8h1.00M96.2 354.6h1.00M83.2 353.8h1.00M95.2 347.6h1.00M102.3 350.0h1.00M93.1 356.5h1.00M102.4 346.6h1.00M100.2 343.5h1.00M91.8 347.5h1.00M101.1 349.5h1.00M94.5 342.1h1.00M89.2 357.0h1.00M101.2 345.0h1.00M106.0 351.7h1.00M96.6 345.9h1.00M105.7 350.6h1.00M108.6 350.8h1.00M95.6 346.0h1.00M94.9 350.3h1.00M100.5 352.0h1.00M101.6 343.8h1.00M97.8 344.3h1.00M101.8 342.4h1.00M95.6 344.7h1.00M95.4 347.7h1.00M107.8 347.7h1.00M90.6 347.5h1.00M103.4 351.8h1.00" stroke="#c62fd0" stroke-width="1.00" fill="none" opacity="1.0"/>
<ellipse cx="100" cy="349.5" rx="8" ry="6.2" fill="#c62fd0" opacity="0.9" transform="rotate(0 100 349.5)"/>
<path d="M106.6 359.6h1.00M110.4 352.4h1.00M110.8 346.9h1.00M104.9 348.7h1.00M106.4 358.2h1.00M103.5 358.1h1.00M101.2 357.5h1.00M98.3 348.7h1.00M109.9 351.6h1.00M106.2 352.0h1.00M106.4 351.3h1.00M101.4 350.9h1.00M106.1 348.5h1.00M107.6 358.8h1.00M98.6 349.9h1.00M104.4 352.1h1.00M106.0 349.2h1.00M105.5 352.0h1.00M105.2 357.9h1.00M106.2 346.3h1.00M98.9 354.3h1.00M104.1 349.6h1.00M99.8 350.8h1.00M105.2 349.4h1.00M104.1 355.4h1.00M109.0 354.1h1.00M104.9 346.8h1.00M108.9 357.7h1.00M111.1 356.5h1.00M106.8 353.4h1.00M105.5 356.8h1.00M104.5 360.2h1.00M108.9 350.8h1.00M105.6 345.8h1.00M102.5 350.8h1.00M116.1 348.9h1.00M109.5 352.3h1.00M104.3 354.4h1.00M97.1 355.6h1.00M113.9 353.1h1.00M105.3 352.6h1.00M108.4 350.1h1.00M106.1 353.9h1.00M104.1 353.5h1.00M107.0 354.7h1.00M101.4 349.9h1.00M103.8 356.6h1.00M106.7 345.7h1.00M100.1 359.4h1.00M107.0 347.0h1.00M101.7 352.5h1.00M111.7 358.2h1.00M104.0 350.9h1.00M113.8 348.2h1.00M112.3 353.3h1.00M106.0 356.9h1.00M107.7 348.8h1.00M99.1 352.1h1.00M107.8 357.2h1.00M94.4 357.2h1.00M108.2 357.8h1.00M109.0 352.8h1.00M107.4 353.5h1.00M102.9 351.6h1.00M106.1 350.3h1.00M99.3 346.5h1.00M107.8 354.0h1.00M106.1 347.5h1.00M109.2 350.5h1.00M96.7 358.0h1.00M99.2 360.7h1.00M107.9 350.3h1.00M95.6 349.3h1.00M111.9 357.2h1.00M106.7 345.4h1.00M104.0 350.9h1.00M107.6 351.5h1.00M107.1 345.7h1.00M102.9 357.5h1.00M99.4 355.6h1.00M115.5 354.5h1.00M99.7 356.8h1.00M97.7 353.3h1.00M103.9 356.8h1.00M110.6 352.7h1.00M113.3 355.8h1.00M103.6 348.2h1.00M116.1 350.4h1.00M107.4 351.6h1.00M103.6 345.8h1.00M105.0 351.6h1.00M109.8 350.0h1.00M98.9 347.9h1.00M105.4 353.0h1.00M108.7 350.5h1.00M107.9 352.6h1.00M112.8 351.8h1.00M106.2 354.2h1.00M110.8 348.5h1.00M103.6 350.9h1.00M96.5 357.0h1.00M110.2 352.1h1.00M120.0 356.9h1.00M114.2 358.0h1.00M109.5 346.5h1.00M112.1 353.6h1.00M100.5 352.2h1.00M108.8 355.8h1.00M106.4 350.0h1.00M108.9 349.1h1.00M105.3 354.9h1.00M99.4 353.4h1.00M97.2 348.4h1.00M100.3 351.7h1.00M108.7 351.8h1.00M109.5 352.4h1.00M104.7 353.9h1.00M104.6 352.5h1.00M110.1 349.8h1.00M110.5 347.7h1.00M104.7 345.3h1.00M103.3 358.1h1.00M107.1 356.9h1.00M99.3 348.1h1.00M107.6 355.2h1.00M109.2 345.5h1.00M107.8 351.7h1.00M106.1 353.8h1.00M104.4 345.5h1.00M101.0 346.4h1.00M100.0 351.5h1.00M111.2 349.2h1.00M102.3 347.6h1.00M98.2 352.3h1.00M103.5 351.1h1.00M101.5 353.9h1.00M100.5 354.1h1.00M102.8 355.0h1.00M101.8 353.7h1.00M107.5 351.7h1.00M112.6 352.7h1.00M101.8 354.7h1.00M102.1 349.9h1.00M105.7 352.7h1.00M112.9 345.3h1.00M104.5 356.4h1.00M104.9 353.2h1.00M112.1 347.2h1.00M105.8 355.1h1.00M103.1 345.2h1.00M101.3 352.8h1.00M106.4 359.1h1.00M111.3 346.0h1.00M110.0 355.5h1.00M112.5 351.4h1.00M103.2 352.6h1.00M112.2 354.4h1.00M112.9 355.0h1.00M103.1 348.1h1.00M113.5 346.1h1.00M104.1 350.8h1.00M101.7 349.8h1.00M105.6 361.2h1.00M105.3 350.0h1.00M106.1 355.6h1.00M102.1 350.4h1.00M98.1 354.7h1.00M108.5 357.8h1.00M100.5 360.4h1.00M109.3 350.9h1.00M103.9 350.8h1.00M100.4 355.0h1.00M103.0 349.2h1.00M107.8 352.4h1.00M103.1 351.1h1.00M103.5 357.2h1.00M109.9 349.2h1.00M105.4 357.3h1.00M104.4 358.9h1.00M107.5 354.6h1.00M96.7 355.3h1.00M107.1 354.3h1.00M107.7 354.0h1.00M103.4 355.5h1.00M105.9 347.9h1.00M101.2 352.6h1.00M107.0 343.5h1.00M96.7 356.1h1.00M105.6 363.0h1.00M99.0 351.0h1.00M103.0 354.2h1.00M111.6 358.2h1.00M101.3 356.8h1.00M100.4 353.2h1.00M106.3 354.4h1.00M102.2 357.2h1.00M105.3 351.9h1.00M104.5 347.9h1.00M108.7 353.3h1.00M107.6 359.2h1.00M101.9 350.9h1.00M105.6 355.3h1.00M104.8 355.6h1.00M107.6 345.2h1.00M102.7 344.1h1.00M104.4 350.4h1.00M108.1 352.7h1.00M105.3 356.9h1.00M108.2 347.2h1.00M102.6 353.3h1.00M112.9 351.2h1.00M104.9 353.0h1.00M109.0 351.7h1.00M106.9 350.4h1.00M103.2 348.9h1.00M108.4 349.8h1.00M108.0 353.6h1.00M109.8 341.6h1.00M101.5 347.3h1.00M104.9 355.1h1.00" stroke="#e02a40" stroke-width="1.00" fill="none" opacity="1.0"/>
<ellipse cx="105.6" cy="352" rx="5" ry="4.4" fill="#e02a40" opacity="1.0" transform="rotate(0 105.6 352)"/>
<rect x="53.20" y="329.00" width="87.30" height="73.30" fill="none" stroke="#444" stroke-width="0.6" />
<rect x="53.20" y="329.00" width="23.80" height="29.50" fill="none" stroke="#222" stroke-width="0.6" />
<rect x="53.20" y="358.50" width="23.80" height="36.80" fill="none" stroke="#222" stroke-width="0.6" />
<rect x="77.00" y="329.00" width="10.00" height="29.50" fill="none" stroke="#222" stroke-width="0.6" />
<rect x="87.00" y="329.00" width="53.50" height="65.70" fill="none" stroke="#222" stroke-width="0.6" />
<text transform="translate(56.20 340.60)" font-size="11.5" text-anchor="start" font-weight="bold" fill="#000" stroke="#000" stroke-width="0.45">S<tspan dy="2.5" font-size="7">1</tspan></text>
<text transform="translate(56.20 374.20)" font-size="11.5" text-anchor="start" font-weight="bold" fill="#000" stroke="#000" stroke-width="0.45">S<tspan dy="2.5" font-size="7">0</tspan></text>
<text transform="translate(77.60 340.60)" font-size="11.5" text-anchor="start" font-weight="bold" fill="#000" stroke="#000" stroke-width="0.45">E<tspan dy="2.5" font-size="7">1</tspan></text>
<text transform="translate(139.30 340.50)" font-size="11" text-anchor="end" font-weight="bold" fill="#000" stroke="#000" stroke-width="0.45">Ter119<tspan dy="-3" font-size="7.5">+</tspan></text>
<line x1="53.20" y1="403.20" x2="140.50" y2="403.20" stroke="#555" stroke-width="1.2" stroke-dasharray="0.5 1.7"/>
<text transform="translate(67.50 410.30)" font-size="3.8" text-anchor="middle" font-weight="bold" fill="#222" >0</text>
<text transform="translate(90.80 410.30)" font-size="3.8" text-anchor="middle" font-weight="bold" fill="#222" >10<tspan dy="-1.3" font-size="2.5">3</tspan></text>
<text transform="translate(113.00 410.30)" font-size="3.8" text-anchor="middle" font-weight="bold" fill="#222" >10<tspan dy="-1.3" font-size="2.5">4</tspan></text>
<text transform="translate(132.40 410.30)" font-size="3.8" text-anchor="middle" font-weight="bold" fill="#222" >10<tspan dy="-1.3" font-size="2.5">5</tspan></text>
<line x1="52.30" y1="329.00" x2="52.30" y2="394.30" stroke="#555" stroke-width="1.2" stroke-dasharray="0.5 1.7"/>
<text transform="translate(48.80 335.00) rotate(-90)" font-size="3.6" text-anchor="middle" font-weight="bold" fill="#222" >10</text>
<text transform="translate(48.80 351.00) rotate(-90)" font-size="3.6" text-anchor="middle" font-weight="bold" fill="#222" >10</text>
<text transform="translate(48.80 370.00) rotate(-90)" font-size="3.6" text-anchor="middle" font-weight="bold" fill="#222" >10</text>
<text transform="translate(48.80 387.00) rotate(-90)" font-size="3.6" text-anchor="middle" font-weight="bold" fill="#222" >10</text>
<path d="M219.9 397.5h1.00M217.5 384.0h1.00M234.9 368.7h1.00M239.9 395.5h1.00M229.1 367.9h1.00M250.9 385.7h1.00M244.1 368.5h1.00M264.8 366.0h1.00M224.9 370.7h1.00M244.3 379.1h1.00M246.6 388.2h1.00M266.0 378.9h1.00M217.4 391.9h1.00M216.1 373.4h1.00M223.2 383.7h1.00M259.6 366.6h1.00M231.8 392.6h1.00M254.3 365.9h1.00M254.1 390.6h1.00M238.3 367.6h1.00M252.6 373.5h1.00M222.6 367.9h1.00M237.9 366.6h1.00M237.0 381.9h1.00M246.5 376.5h1.00M260.6 365.2h1.00M233.8 395.6h1.00M264.3 395.1h1.00M258.6 381.3h1.00M259.9 382.6h1.00M221.7 371.2h1.00M220.6 393.5h1.00M233.4 376.7h1.00M245.7 365.6h1.00M255.2 390.6h1.00M260.4 393.7h1.00M233.1 367.2h1.00M258.4 387.0h1.00M236.2 374.4h1.00M223.8 391.9h1.00M241.3 391.2h1.00M234.4 373.6h1.00M244.3 388.8h1.00M265.3 374.7h1.00M254.5 376.5h1.00" stroke="#cfcfe0" stroke-width="1.00" fill="none" opacity="1.0"/>
<path d="M213.9 350.5h1.00M194.1 368.1h1.00M199.9 390.4h1.00M205.7 358.6h1.00M208.7 369.3h1.00M205.8 366.3h1.00M207.5 354.5h1.00M191.3 368.3h1.00M192.2 379.2h1.00M222.0 373.1h1.00M207.4 369.7h1.00M196.3 357.5h1.00M208.4 351.1h1.00M206.0 365.4h1.00M210.3 365.7h1.00M204.0 361.8h1.00M186.2 371.0h1.00M209.8 375.9h1.00M216.5 352.8h1.00M193.8 378.6h1.00M198.6 395.5h1.00M206.1 351.6h1.00M197.6 385.8h1.00M185.2 376.4h1.00M189.5 389.3h1.00M198.6 359.3h1.00M186.3 367.3h1.00M224.3 360.8h1.00M200.4 357.4h1.00M206.3 362.0h1.00M194.7 385.1h1.00M207.3 357.4h1.00M217.5 361.9h1.00M207.9 367.6h1.00M214.5 369.7h1.00M199.6 376.5h1.00M199.2 370.8h1.00M219.0 351.2h1.00M192.9 367.9h1.00M198.1 382.9h1.00M187.4 397.0h1.00M218.5 357.5h1.00M204.8 363.7h1.00M209.6 372.1h1.00M210.4 372.9h1.00M221.9 359.0h1.00M209.8 363.5h1.00M203.4 370.1h1.00M202.5 371.7h1.00M194.7 369.7h1.00M197.1 358.5h1.00M196.1 365.7h1.00M201.5 352.9h1.00M200.5 357.6h1.00M195.0 373.0h1.00M213.8 366.7h1.00M198.2 365.4h1.00M214.1 348.6h1.00M196.8 370.9h1.00M200.8 385.5h1.00M207.8 365.7h1.00M212.3 364.8h1.00M195.1 382.3h1.00M217.7 375.2h1.00M191.5 391.6h1.00M198.9 377.3h1.00M214.7 387.4h1.00M187.2 363.8h1.00M214.5 368.5h1.00M207.3 364.5h1.00M203.0 370.4h1.00M210.4 362.5h1.00M194.2 367.8h1.00M182.4 364.7h1.00M222.3 353.6h1.00M202.2 387.4h1.00M213.3 365.3h1.00M210.2 362.5h1.00M194.1 381.5h1.00M204.3 383.6h1.00M200.4 365.2h1.00M206.4 364.8h1.00M199.9 360.2h1.00M205.5 370.3h1.00M220.9 360.8h1.00M185.8 379.3h1.00M225.4 354.9h1.00M195.1 369.3h1.00M201.2 353.5h1.00M208.7 357.0h1.00M184.9 367.7h1.00M209.2 385.0h1.00M215.3 365.2h1.00M198.0 367.3h1.00M212.5 359.1h1.00M207.1 376.2h1.00M194.1 365.5h1.00M207.4 366.4h1.00M201.8 363.1h1.00M202.4 386.9h1.00M203.5 368.8h1.00M203.4 353.9h1.00M201.7 370.0h1.00M196.3 373.7h1.00M204.0 371.6h1.00M201.4 364.0h1.00M204.8 378.2h1.00M211.8 363.8h1.00M198.4 380.5h1.00M208.3 374.9h1.00M200.3 360.4h1.00M204.8 361.0h1.00M214.3 372.3h1.00M181.6 383.0h1.00M216.1 373.4h1.00M198.4 361.1h1.00M212.5 374.6h1.00M203.6 356.1h1.00M188.0 376.5h1.00M194.9 364.3h1.00M207.4 376.9h1.00M182.7 369.0h1.00M215.8 362.7h1.00M199.6 375.7h1.00M191.8 360.0h1.00M203.2 383.7h1.00M213.0 364.1h1.00M212.9 360.0h1.00M191.4 355.6h1.00M205.7 376.1h1.00M206.7 366.2h1.00M199.1 380.5h1.00M202.5 353.6h1.00M216.5 356.3h1.00M206.8 366.6h1.00M213.4 366.5h1.00M215.0 365.5h1.00M198.5 364.6h1.00M209.4 357.2h1.00M212.1 362.1h1.00M193.9 362.7h1.00M201.6 386.4h1.00M210.6 365.3h1.00M194.1 390.7h1.00M200.3 369.0h1.00M198.8 383.1h1.00M204.7 362.7h1.00M204.8 357.2h1.00M192.7 370.4h1.00M222.5 349.3h1.00M201.6 352.6h1.00M204.7 369.5h1.00M210.3 351.7h1.00M197.1 363.7h1.00M200.6 392.0h1.00M201.0 368.3h1.00M198.0 378.0h1.00M228.2 370.0h1.00M218.1 351.4h1.00M213.4 364.3h1.00M215.3 374.0h1.00M209.4 348.6h1.00M204.3 362.4h1.00M207.4 366.7h1.00M213.3 347.8h1.00M195.7 370.0h1.00M206.2 362.7h1.00M202.7 368.7h1.00M213.3 362.9h1.00M205.4 348.7h1.00M207.0 365.5h1.00M203.0 360.6h1.00M198.9 378.0h1.00M206.5 366.4h1.00M198.2 372.0h1.00M214.7 363.3h1.00M199.4 357.5h1.00M204.0 358.3h1.00M188.9 382.2h1.00M196.9 349.8h1.00M195.9 389.4h1.00M202.0 355.0h1.00M192.2 379.4h1.00M207.0 368.6h1.00M201.1 373.6h1.00M218.1 367.1h1.00M201.4 354.5h1.00M207.4 382.2h1.00M209.4 352.8h1.00M204.8 380.5h1.00M196.8 375.4h1.00M214.9 380.0h1.00M187.3 356.3h1.00M206.7 373.7h1.00M199.5 369.1h1.00M199.0 381.7h1.00M181.2 379.0h1.00M190.4 366.0h1.00M187.9 364.6h1.00M202.8 368.4h1.00M220.6 359.0h1.00M206.4 370.3h1.00M205.5 381.9h1.00M204.4 369.0h1.00M201.9 368.5h1.00M202.5 378.3h1.00M203.2 368.6h1.00M202.5 375.9h1.00M198.3 379.3h1.00M197.4 377.2h1.00M221.9 363.1h1.00M202.1 356.4h1.00M210.3 365.3h1.00M212.0 357.9h1.00M208.1 384.4h1.00M207.0 363.2h1.00M190.2 372.9h1.00M209.5 371.6h1.00M192.0 361.8h1.00" stroke="#e0705a" stroke-width="1.00" fill="none" opacity="0.9"/>
<path d="M230.5 342.2h1.00M240.2 347.7h1.00M270.6 344.5h1.00M264.1 335.9h1.00M265.3 348.0h1.00M250.1 349.5h1.00M252.5 354.7h1.00M255.1 336.3h1.00M242.8 352.7h1.00M239.3 343.2h1.00M239.3 348.0h1.00M246.6 342.7h1.00M251.4 348.4h1.00M231.3 341.6h1.00M244.1 342.5h1.00M235.7 346.1h1.00M244.4 348.8h1.00M255.5 347.1h1.00M259.5 339.7h1.00M252.4 347.1h1.00M229.6 344.0h1.00M250.1 345.8h1.00M265.1 348.2h1.00M245.1 352.6h1.00M231.5 346.3h1.00M257.3 343.1h1.00M228.5 350.3h1.00M246.1 339.6h1.00M239.9 339.4h1.00M244.6 342.4h1.00M230.3 345.0h1.00M246.9 354.5h1.00M248.0 353.4h1.00M229.3 347.7h1.00M238.0 338.8h1.00M247.4 341.9h1.00M236.0 341.6h1.00M258.2 342.7h1.00M242.0 347.1h1.00M241.6 348.4h1.00M238.7 346.7h1.00M251.2 350.1h1.00M234.5 351.7h1.00M230.4 346.3h1.00M245.8 346.6h1.00M241.5 350.8h1.00M234.3 354.4h1.00M251.5 345.4h1.00M247.7 350.3h1.00M232.9 350.0h1.00M258.7 343.5h1.00M232.2 341.8h1.00M250.0 341.4h1.00M265.1 347.4h1.00M229.9 352.5h1.00M237.4 357.6h1.00M236.4 349.7h1.00M251.8 343.1h1.00M241.9 352.0h1.00M250.9 345.1h1.00M250.1 354.1h1.00M256.9 347.2h1.00M248.6 337.8h1.00M245.9 343.4h1.00M254.1 342.0h1.00M250.2 340.2h1.00M256.4 341.2h1.00M243.6 348.9h1.00M239.5 346.5h1.00M258.7 353.4h1.00M253.3 349.8h1.00M237.4 347.1h1.00M241.3 357.6h1.00M241.2 340.3h1.00M262.0 342.4h1.00M271.0 346.7h1.00M249.3 348.7h1.00M254.9 349.6h1.00M230.5 344.5h1.00M236.4 347.2h1.00M240.5 340.2h1.00M234.4 355.8h1.00M273.4 339.0h1.00M249.3 345.3h1.00M232.3 350.6h1.00M243.0 354.4h1.00M250.3 343.9h1.00M255.7 341.4h1.00M256.2 348.3h1.00M248.4 349.3h1.00M246.1 345.7h1.00M239.2 345.0h1.00M244.0 340.7h1.00M252.9 343.6h1.00M251.2 342.8h1.00M249.7 346.1h1.00M256.3 347.2h1.00M256.9 344.0h1.00M243.2 344.8h1.00M259.1 348.4h1.00M232.2 348.6h1.00M254.4 338.3h1.00M248.8 347.2h1.00M254.4 346.3h1.00M271.5 341.5h1.00M261.6 350.6h1.00M245.2 340.2h1.00M262.9 344.1h1.00M251.2 347.7h1.00M257.2 349.8h1.00M246.0 345.9h1.00M254.8 344.3h1.00M241.5 356.3h1.00M263.0 350.0h1.00M258.3 340.8h1.00M242.8 345.8h1.00M228.9 343.1h1.00M246.2 339.8h1.00M251.5 347.6h1.00M240.7 344.6h1.00M252.3 347.6h1.00M249.1 339.5h1.00M235.0 345.0h1.00M233.9 350.9h1.00M238.3 344.1h1.00M233.3 344.8h1.00M260.5 345.2h1.00M236.6 353.0h1.00M250.7 340.3h1.00M236.1 343.7h1.00M243.4 352.1h1.00M234.3 346.2h1.00M245.6 340.0h1.00M237.4 349.6h1.00M259.7 335.3h1.00M253.8 343.7h1.00M261.8 347.4h1.00M271.2 345.0h1.00M238.5 342.4h1.00M251.1 349.4h1.00M248.9 338.1h1.00M238.4 345.3h1.00M246.2 349.6h1.00M263.6 345.6h1.00M240.9 351.8h1.00M258.9 342.4h1.00M257.1 344.8h1.00M250.3 352.1h1.00M265.3 340.2h1.00M247.0 346.4h1.00M238.3 340.1h1.00M234.5 342.0h1.00M259.0 345.8h1.00M253.7 339.2h1.00M250.9 346.1h1.00M258.5 341.1h1.00M255.2 351.7h1.00M268.9 339.1h1.00M257.3 347.7h1.00M248.7 341.3h1.00M261.3 352.3h1.00M243.5 345.5h1.00M260.5 347.0h1.00M262.6 342.3h1.00M248.7 343.9h1.00M236.1 345.3h1.00M240.1 348.9h1.00M239.8 346.7h1.00M232.8 341.0h1.00M263.8 339.3h1.00M269.1 348.3h1.00M238.2 346.6h1.00M241.5 343.3h1.00M261.3 343.8h1.00M257.3 341.4h1.00M234.5 353.5h1.00M240.1 340.9h1.00M241.7 351.4h1.00M241.8 342.7h1.00M252.8 350.0h1.00M241.2 344.7h1.00M239.0 359.8h1.00M241.4 354.8h1.00M242.0 348.2h1.00M244.7 344.4h1.00M238.4 339.8h1.00M235.2 346.4h1.00M241.5 343.7h1.00M234.0 356.1h1.00M228.8 344.9h1.00M239.9 340.7h1.00M230.8 351.5h1.00M256.9 345.5h1.00M261.1 340.4h1.00M259.0 352.9h1.00M238.8 355.4h1.00M232.9 341.5h1.00M243.4 342.1h1.00M252.8 339.7h1.00M245.2 336.3h1.00M243.6 351.2h1.00M240.4 347.9h1.00M259.1 339.2h1.00M247.9 344.3h1.00M230.6 353.2h1.00M243.5 349.6h1.00M237.9 342.5h1.00M271.9 339.3h1.00M255.1 344.2h1.00M237.5 346.4h1.00M240.5 347.9h1.00M245.0 341.1h1.00M238.7 358.0h1.00M269.6 346.8h1.00M247.3 344.2h1.00M263.2 342.0h1.00M232.7 350.5h1.00M230.7 343.4h1.00M264.1 336.2h1.00M243.1 346.7h1.00M247.6 338.5h1.00M240.9 344.7h1.00M270.6 348.5h1.00M233.6 351.3h1.00M253.1 344.6h1.00M240.7 345.0h1.00M257.0 351.9h1.00M269.7 341.8h1.00M252.6 333.4h1.00M240.3 340.1h1.00M255.4 336.8h1.00M229.7 341.9h1.00M249.5 349.6h1.00M231.4 356.0h1.00M246.3 341.7h1.00M248.9 345.5h1.00M255.6 346.6h1.00M274.3 348.9h1.00M235.2 350.7h1.00M254.6 340.1h1.00M233.7 343.0h1.00M241.1 352.3h1.00M236.3 347.1h1.00M254.1 349.8h1.00M248.5 340.5h1.00M262.9 352.2h1.00M263.5 346.2h1.00M250.6 348.5h1.00M230.6 349.3h1.00M230.1 350.8h1.00M237.4 358.8h1.00M246.7 348.2h1.00M231.6 345.7h1.00M243.3 344.7h1.00M238.1 342.3h1.00M254.6 343.1h1.00M232.8 348.8h1.00M232.9 346.2h1.00M237.0 342.1h1.00M241.0 342.2h1.00M240.0 339.2h1.00M238.6 347.4h1.00M250.0 347.3h1.00M247.6 348.6h1.00M237.3 342.7h1.00M252.6 343.2h1.00M244.2 349.2h1.00M257.1 350.8h1.00M234.6 345.1h1.00M251.8 338.3h1.00M235.6 342.3h1.00M255.2 347.6h1.00M256.8 343.2h1.00M240.1 344.7h1.00M248.2 335.7h1.00M234.6 350.4h1.00M233.4 346.7h1.00M245.8 348.4h1.00M237.6 341.1h1.00M267.7 335.2h1.00M245.6 344.9h1.00M270.2 353.6h1.00M257.6 339.8h1.00M233.0 343.3h1.00M237.0 347.9h1.00M233.3 345.8h1.00M264.4 351.2h1.00M239.0 352.8h1.00M239.6 355.8h1.00M249.2 352.6h1.00M232.3 345.6h1.00M258.2 347.5h1.00M246.6 348.8h1.00M235.4 355.3h1.00M246.2 352.9h1.00M249.7 345.9h1.00M239.7 340.7h1.00M256.0 348.6h1.00M257.0 343.0h1.00M230.3 345.4h1.00M239.8 346.3h1.00M257.7 340.3h1.00M237.4 350.0h1.00M256.6 355.7h1.00M251.4 341.2h1.00M229.8 343.5h1.00M245.1 347.1h1.00M243.2 343.1h1.00M241.6 345.9h1.00M252.3 345.6h1.00M233.0 341.3h1.00M264.5 343.7h1.00M241.7 346.1h1.00M259.7 343.0h1.00M246.6 344.6h1.00M252.1 340.3h1.00M247.0 350.8h1.00M260.4 347.5h1.00M248.2 353.3h1.00M253.9 351.9h1.00M255.2 343.7h1.00M238.2 341.9h1.00M264.6 338.3h1.00M245.6 339.1h1.00M241.8 357.2h1.00M230.3 355.2h1.00M232.4 338.4h1.00M249.0 340.3h1.00M234.2 341.7h1.00M246.5 344.9h1.00M259.6 345.0h1.00M266.0 349.5h1.00M268.6 349.2h1.00M245.2 348.6h1.00M244.5 338.4h1.00M230.0 348.5h1.00M241.5 344.0h1.00M232.6 336.2h1.00M245.2 339.6h1.00M240.2 348.2h1.00M258.6 348.1h1.00M264.5 337.2h1.00M253.5 352.8h1.00M249.6 340.1h1.00M249.7 343.0h1.00M235.4 352.0h1.00M241.8 340.8h1.00M234.9 356.4h1.00M232.6 350.4h1.00M246.7 351.5h1.00M240.4 341.7h1.00M235.4 341.8h1.00M239.8 352.5h1.00M253.2 344.3h1.00M252.7 346.5h1.00M259.7 352.6h1.00M239.9 346.2h1.00M241.7 352.2h1.00M249.5 349.3h1.00M256.5 341.8h1.00M246.0 352.6h1.00M256.9 348.8h1.00M240.4 344.6h1.00M232.5 345.8h1.00M243.4 339.1h1.00M260.1 340.8h1.00M247.7 348.6h1.00M236.7 337.9h1.00" stroke="#4d8fe8" stroke-width="1.00" fill="none" opacity="1.0"/>
<ellipse cx="234" cy="347" rx="5" ry="4.2" fill="#4d8fe8" opacity="0.8" transform="rotate(0 234 347)"/>
<path d="M222.8 348.9h1.00M216.8 353.2h1.00M222.5 343.0h1.00M217.7 340.4h1.00M216.8 354.4h1.00M214.0 352.3h1.00M210.7 348.1h1.00M222.7 354.6h1.00M220.3 350.9h1.00M226.5 335.8h1.00M209.7 357.8h1.00M230.1 348.4h1.00M218.4 349.1h1.00M218.2 345.3h1.00M218.0 347.5h1.00M221.3 350.4h1.00M222.9 349.7h1.00M213.4 354.9h1.00M205.1 350.9h1.00M219.7 345.4h1.00M227.2 341.6h1.00M212.4 346.8h1.00M220.1 351.1h1.00M218.6 350.8h1.00M214.7 346.0h1.00M218.7 342.0h1.00M219.0 346.1h1.00M221.4 343.0h1.00M215.5 346.0h1.00M216.3 344.0h1.00M216.8 342.3h1.00M220.7 350.4h1.00M218.0 347.2h1.00M213.8 344.6h1.00M217.0 344.3h1.00M212.4 349.8h1.00M218.0 346.2h1.00M214.1 348.5h1.00M214.7 346.7h1.00M219.0 351.0h1.00M221.8 344.7h1.00M223.9 341.9h1.00M217.2 353.8h1.00M229.6 346.4h1.00M216.3 346.7h1.00M212.2 348.4h1.00M216.0 345.1h1.00M223.9 343.5h1.00M226.3 350.1h1.00M221.2 344.9h1.00M215.6 339.8h1.00M219.4 346.6h1.00M220.0 344.7h1.00M220.4 341.0h1.00M207.5 352.0h1.00M223.3 333.3h1.00M224.3 345.3h1.00M217.3 341.4h1.00M213.2 352.0h1.00M214.5 348.5h1.00M217.3 356.8h1.00M222.4 341.5h1.00M215.8 343.4h1.00M211.4 346.3h1.00M223.4 347.2h1.00M221.3 346.8h1.00M216.0 348.7h1.00M217.7 356.5h1.00M226.8 348.0h1.00M221.0 338.8h1.00M217.5 358.5h1.00M214.2 352.3h1.00M224.0 345.2h1.00M217.0 346.2h1.00M221.9 347.4h1.00M225.3 351.8h1.00M218.0 359.3h1.00M216.6 345.6h1.00M216.9 344.4h1.00M216.0 348.1h1.00M222.4 340.3h1.00M211.3 345.9h1.00M216.6 350.2h1.00M214.3 355.3h1.00M215.5 347.5h1.00M218.3 353.0h1.00M219.5 347.8h1.00M215.5 349.2h1.00M220.0 346.1h1.00M218.0 340.0h1.00M215.5 353.6h1.00M224.9 346.4h1.00M207.6 357.9h1.00M217.2 359.4h1.00M216.1 352.7h1.00M215.1 354.5h1.00M223.6 342.3h1.00M224.3 359.3h1.00M217.0 342.9h1.00M219.4 346.0h1.00M210.8 344.7h1.00M219.2 341.1h1.00M223.3 349.0h1.00M217.2 354.3h1.00M213.6 351.8h1.00M211.5 347.8h1.00M221.1 345.1h1.00M217.5 350.9h1.00M225.4 352.3h1.00M220.3 346.5h1.00M211.1 356.8h1.00M227.1 336.9h1.00M222.2 347.0h1.00M221.5 348.7h1.00M217.1 348.1h1.00M217.9 353.1h1.00M216.8 345.8h1.00M221.2 350.2h1.00M220.1 348.8h1.00M225.1 351.6h1.00M219.1 346.9h1.00M221.2 339.2h1.00M215.5 345.4h1.00M218.9 346.2h1.00M229.9 349.0h1.00M220.0 357.5h1.00M218.0 346.6h1.00M224.0 350.5h1.00M222.5 352.5h1.00M216.3 345.4h1.00M214.6 349.1h1.00M222.9 342.5h1.00M215.5 342.6h1.00M227.7 349.7h1.00M219.1 342.5h1.00M213.1 346.1h1.00M218.2 342.4h1.00M217.0 353.5h1.00M218.1 348.4h1.00M208.0 348.7h1.00M217.3 345.1h1.00M211.4 348.9h1.00M213.1 346.5h1.00M210.4 349.0h1.00M222.4 343.5h1.00M219.6 341.1h1.00M220.8 349.9h1.00M216.2 352.2h1.00M213.8 349.0h1.00M226.1 346.4h1.00M212.6 354.0h1.00M220.6 346.3h1.00M209.3 341.3h1.00M210.7 355.9h1.00M219.5 344.0h1.00M223.6 353.4h1.00M214.0 350.9h1.00M210.1 351.1h1.00M226.8 340.2h1.00M218.3 345.2h1.00M217.6 348.5h1.00M219.4 351.7h1.00M220.5 352.1h1.00M222.9 351.9h1.00M214.8 350.4h1.00M216.3 344.6h1.00M227.4 347.5h1.00M218.3 338.7h1.00M216.9 351.6h1.00M217.1 345.8h1.00M225.1 345.3h1.00M216.4 347.8h1.00M216.9 352.8h1.00M220.8 347.2h1.00M216.3 347.3h1.00M226.2 345.2h1.00M221.2 340.5h1.00M219.6 350.7h1.00M224.1 348.3h1.00M220.8 348.9h1.00M223.2 356.1h1.00M219.0 344.2h1.00M220.9 347.0h1.00M221.1 350.8h1.00M218.8 345.9h1.00M219.5 342.2h1.00M219.4 343.9h1.00M220.2 348.1h1.00M217.0 342.9h1.00M218.3 345.0h1.00M217.4 351.2h1.00M222.6 341.5h1.00M222.5 353.2h1.00M223.4 348.2h1.00M217.6 355.7h1.00M216.5 341.6h1.00M218.5 349.2h1.00M213.1 343.6h1.00M227.5 346.7h1.00M221.8 344.7h1.00M210.8 348.5h1.00M224.5 343.9h1.00M209.5 348.8h1.00M216.7 348.3h1.00M213.1 347.5h1.00M215.4 352.4h1.00M218.8 351.7h1.00M217.8 338.7h1.00M208.7 352.1h1.00M222.2 351.1h1.00M217.7 340.2h1.00M215.7 350.2h1.00M224.6 345.3h1.00M215.4 345.1h1.00M222.9 350.9h1.00M209.3 354.9h1.00M213.6 342.3h1.00M210.4 346.2h1.00M229.1 357.2h1.00M212.1 346.1h1.00M218.8 349.7h1.00M215.8 341.4h1.00M216.1 345.4h1.00M209.5 350.2h1.00M211.0 341.6h1.00M225.3 350.8h1.00M225.0 347.2h1.00M216.1 348.0h1.00M211.5 352.5h1.00M219.3 346.4h1.00M209.1 349.1h1.00M225.8 352.9h1.00M222.2 345.7h1.00M218.7 350.3h1.00M219.0 352.4h1.00M214.9 338.4h1.00M206.5 346.1h1.00M211.4 352.1h1.00M223.2 347.0h1.00M220.6 347.9h1.00M218.9 345.8h1.00M216.1 353.6h1.00M216.8 348.0h1.00M223.8 351.3h1.00M216.2 349.5h1.00M213.2 349.5h1.00M219.6 347.7h1.00M218.8 349.5h1.00M205.9 346.6h1.00M218.4 345.8h1.00M213.4 347.8h1.00M225.8 345.6h1.00M214.9 346.4h1.00M212.4 351.2h1.00M213.3 352.9h1.00M222.4 349.7h1.00M223.0 346.7h1.00M209.6 349.3h1.00M221.1 340.6h1.00M212.2 353.9h1.00M220.2 353.5h1.00M221.3 347.7h1.00M220.1 351.4h1.00M217.9 347.1h1.00M219.6 346.3h1.00M229.6 342.5h1.00M210.8 343.6h1.00M223.1 345.3h1.00M218.8 346.9h1.00M219.4 341.4h1.00M218.5 345.4h1.00M223.3 349.8h1.00M212.0 344.8h1.00M220.8 352.8h1.00M221.7 346.6h1.00M223.4 336.6h1.00M215.5 344.2h1.00M213.1 351.4h1.00M219.4 349.0h1.00M217.4 350.8h1.00M221.8 344.8h1.00M222.6 343.1h1.00M226.5 340.7h1.00M216.7 343.5h1.00M218.3 353.8h1.00M214.5 356.5h1.00M224.9 348.4h1.00M215.2 352.5h1.00M204.3 347.2h1.00M222.7 347.0h1.00M230.0 342.8h1.00M211.6 348.2h1.00M220.9 355.0h1.00M209.6 350.3h1.00M224.2 343.9h1.00M215.9 343.0h1.00M221.8 351.0h1.00M220.9 348.6h1.00M222.9 346.6h1.00M221.5 351.0h1.00" stroke="#d030e0" stroke-width="1.00" fill="none" opacity="1.0"/>
<ellipse cx="218.5" cy="348" rx="7.6" ry="5.2" fill="#d030e0" opacity="0.92" transform="rotate(0 218.5 348)"/>
<path d="M209.0 352.4h1.00M202.5 355.7h1.00M193.8 349.0h1.00M210.7 350.3h1.00M196.5 352.7h1.00M201.3 353.6h1.00M198.0 358.5h1.00M193.0 367.7h1.00M196.3 361.8h1.00M205.6 344.8h1.00M195.5 355.7h1.00M203.5 350.7h1.00M202.1 353.6h1.00M196.0 355.5h1.00M214.2 345.8h1.00M196.7 357.7h1.00M209.3 354.5h1.00M198.7 353.9h1.00M203.2 351.7h1.00M204.2 356.5h1.00M205.0 351.8h1.00M201.0 360.6h1.00M195.5 363.6h1.00M206.0 351.8h1.00M198.1 361.9h1.00M208.6 354.2h1.00M213.3 341.5h1.00M202.6 351.5h1.00M198.2 354.7h1.00M205.0 354.0h1.00M201.3 347.9h1.00M205.1 354.3h1.00M213.5 352.5h1.00M202.2 348.3h1.00M216.8 344.7h1.00M203.1 355.6h1.00M204.8 357.3h1.00M196.5 352.3h1.00M203.0 347.6h1.00M198.8 359.8h1.00M203.7 352.0h1.00M199.0 354.3h1.00M201.9 348.7h1.00M206.3 346.2h1.00M209.0 349.0h1.00M189.7 351.3h1.00M203.6 348.9h1.00M211.9 354.9h1.00M213.5 352.3h1.00M209.4 347.8h1.00M209.1 348.5h1.00M201.8 347.5h1.00M202.4 354.5h1.00M201.7 348.6h1.00M207.0 354.8h1.00M201.6 356.3h1.00M207.4 347.0h1.00M201.9 345.5h1.00M196.4 356.8h1.00M197.3 356.4h1.00M204.0 343.8h1.00M199.4 360.2h1.00M202.1 353.4h1.00M198.2 347.9h1.00M193.4 368.0h1.00M201.1 349.8h1.00M202.7 344.8h1.00M209.7 357.1h1.00M198.0 355.8h1.00M197.1 358.3h1.00M197.5 354.1h1.00M209.2 352.4h1.00M200.3 347.4h1.00M193.4 361.2h1.00M204.9 352.2h1.00M208.9 351.0h1.00M198.1 354.0h1.00M201.5 353.1h1.00M215.7 350.2h1.00M203.6 351.4h1.00M198.3 350.3h1.00M191.8 355.0h1.00M193.7 348.5h1.00M196.9 346.6h1.00M209.6 355.2h1.00M196.8 363.4h1.00M205.7 341.3h1.00M202.2 348.8h1.00M192.5 355.5h1.00M208.4 352.4h1.00M194.0 353.3h1.00M197.9 359.2h1.00M201.5 349.2h1.00M197.0 346.8h1.00M197.4 358.4h1.00M191.5 357.7h1.00M201.4 356.6h1.00M195.8 359.1h1.00M210.6 359.2h1.00M193.1 356.2h1.00M200.9 353.9h1.00M196.6 358.6h1.00M215.0 354.3h1.00M196.8 352.6h1.00M206.1 352.0h1.00M197.8 359.6h1.00M204.9 356.1h1.00M201.1 358.6h1.00M199.5 349.4h1.00M202.0 347.3h1.00M209.0 353.4h1.00M192.8 357.2h1.00M206.7 349.7h1.00M204.3 349.7h1.00M201.7 352.8h1.00M204.7 348.0h1.00M195.8 356.7h1.00M199.2 356.2h1.00M199.3 348.6h1.00M206.1 352.5h1.00M206.1 350.1h1.00M200.1 358.9h1.00M192.7 363.7h1.00M204.9 351.7h1.00M202.5 355.3h1.00M197.8 355.7h1.00M196.8 347.4h1.00M203.1 353.0h1.00M205.6 353.9h1.00M205.9 354.8h1.00M196.2 360.2h1.00M216.8 345.1h1.00M195.1 358.4h1.00M207.1 355.2h1.00M210.5 344.1h1.00M204.1 354.1h1.00M208.9 346.7h1.00M202.2 351.4h1.00M201.1 352.7h1.00M201.2 346.0h1.00M201.8 353.3h1.00M199.9 339.2h1.00M198.2 351.7h1.00M197.2 361.4h1.00M207.1 350.3h1.00M205.3 365.3h1.00M196.7 357.0h1.00M198.7 360.4h1.00M208.2 350.2h1.00M205.4 348.4h1.00M193.3 359.8h1.00M211.1 348.3h1.00M199.1 346.7h1.00M213.9 343.6h1.00M196.7 354.2h1.00M208.7 350.7h1.00M201.9 353.1h1.00M206.7 351.1h1.00M202.9 352.4h1.00M195.9 360.8h1.00M198.2 349.0h1.00M199.6 354.0h1.00M206.6 345.2h1.00M195.0 356.4h1.00M204.1 347.7h1.00M195.7 356.1h1.00M201.2 346.6h1.00M197.2 360.9h1.00M196.2 359.5h1.00M193.5 362.3h1.00M210.9 347.0h1.00M198.2 357.0h1.00M195.2 357.9h1.00M208.8 351.5h1.00M203.8 351.7h1.00M207.6 347.5h1.00M210.8 349.6h1.00M200.2 346.9h1.00M199.6 354.9h1.00M208.9 343.8h1.00M201.3 350.4h1.00M195.4 355.5h1.00M197.8 358.2h1.00M187.1 361.6h1.00M191.5 348.9h1.00M204.9 350.5h1.00M202.7 348.7h1.00M196.2 352.1h1.00M201.7 349.6h1.00M199.7 350.3h1.00M203.3 347.8h1.00M190.5 346.5h1.00M201.9 353.4h1.00M207.3 347.9h1.00M195.7 349.2h1.00M206.2 348.8h1.00M207.5 350.6h1.00M200.5 345.9h1.00M198.3 357.7h1.00M198.6 357.1h1.00M192.9 360.6h1.00M217.4 351.8h1.00M203.8 347.2h1.00M199.1 351.4h1.00M203.0 344.3h1.00M197.2 358.1h1.00M202.8 355.8h1.00M206.7 346.5h1.00M194.6 357.7h1.00M202.2 353.3h1.00M197.5 358.9h1.00M204.7 356.7h1.00M200.0 356.6h1.00M201.7 349.2h1.00M201.6 346.3h1.00M201.0 354.1h1.00M205.8 347.2h1.00M194.7 352.7h1.00M190.6 354.6h1.00M216.4 348.2h1.00M197.8 351.8h1.00M211.8 344.5h1.00M201.4 352.9h1.00M198.0 351.6h1.00M192.7 353.0h1.00M209.2 356.1h1.00M200.4 356.5h1.00M204.5 352.5h1.00M201.2 358.3h1.00M205.1 350.9h1.00" stroke="#e04a28" stroke-width="1.00" fill="none" opacity="1.0"/>
<ellipse cx="204.5" cy="351" rx="3.6" ry="2.6" fill="#e04a28" opacity="0.7" transform="rotate(-30 204.5 351)"/>
<rect x="175.60" y="330.00" width="99.60" height="72.80" fill="none" stroke="#444" stroke-width="0.6" />
<rect x="179.60" y="330.00" width="29.70" height="31.50" fill="none" stroke="#222" stroke-width="0.6" />
<rect x="209.30" y="330.00" width="18.30" height="31.50" fill="none" stroke="#222" stroke-width="0.6" />
<rect x="227.60" y="330.00" width="47.60" height="31.50" fill="none" stroke="#222" stroke-width="0.6" />
<rect x="179.60" y="361.50" width="29.70" height="36.50" fill="none" stroke="#222" stroke-width="0.6" />
<text transform="translate(185.60 342.30)" font-size="11.5" text-anchor="start" font-weight="bold" fill="#000" stroke="#000" stroke-width="0.45">E<tspan dy="2.5" font-size="7.5">4</tspan></text>
<text transform="translate(214.30 342.30)" font-size="11.5" text-anchor="start" font-weight="bold" fill="#000" stroke="#000" stroke-width="0.45">E<tspan dy="2.5" font-size="7.5">3</tspan></text>
<text transform="translate(272.20 342.30)" font-size="11.5" text-anchor="end" font-weight="bold" fill="#000" stroke="#000" stroke-width="0.45">E<tspan dy="2.5" font-size="7.5">2</tspan></text>
<text transform="translate(185.60 389.50)" font-size="12" text-anchor="start" font-weight="bold" fill="#000" stroke="#000" stroke-width="0.45">R</text>
<line x1="175.60" y1="403.70" x2="275.20" y2="403.70" stroke="#555" stroke-width="1.2" stroke-dasharray="0.5 1.7"/>
<text transform="translate(193.00 410.40)" font-size="3.6" text-anchor="middle" font-weight="bold" fill="#333" >50</text>
<text transform="translate(211.70 410.40)" font-size="3.6" text-anchor="middle" font-weight="bold" fill="#333" >100</text>
<text transform="translate(230.00 410.40)" font-size="3.6" text-anchor="middle" font-weight="bold" fill="#333" >150</text>
<text transform="translate(248.70 410.40)" font-size="3.6" text-anchor="middle" font-weight="bold" fill="#333" >200</text>
<text transform="translate(268.70 410.40)" font-size="3.6" text-anchor="middle" font-weight="bold" fill="#333" >250</text>
<text transform="translate(265.00 417.10)" font-size="3.6" text-anchor="middle" font-weight="normal" fill="#333" >(x 1,000)</text>
<line x1="174.70" y1="330.00" x2="174.70" y2="394.80" stroke="#555" stroke-width="1.2" stroke-dasharray="0.5 1.7"/>
<text transform="translate(171.20 336.00) rotate(-90)" font-size="3.6" text-anchor="middle" font-weight="bold" fill="#222" >10</text>
<text transform="translate(171.20 352.00) rotate(-90)" font-size="3.6" text-anchor="middle" font-weight="bold" fill="#222" >10</text>
<text transform="translate(171.20 371.00) rotate(-90)" font-size="3.6" text-anchor="middle" font-weight="bold" fill="#222" >10</text>
<text transform="translate(171.20 388.00) rotate(-90)" font-size="3.6" text-anchor="middle" font-weight="bold" fill="#222" >10</text>
<text transform="translate(34.90 266.00) rotate(-90) scale(0.9153 1)" font-size="13" text-anchor="middle" font-weight="bold" fill="#000" stroke="#000" stroke-width="0.6">WT</text>
<text transform="translate(34.90 383.90) rotate(-90) scale(0.9603 1)" font-size="12.5" text-anchor="start" font-weight="bold" fill="#000" stroke="#000" stroke-width="0.6">RhoA<tspan dy="-4" font-size="7.5" font-style="italic">Δ/Δ</tspan></text>
<path d="M15.7 376.5V421.8H61.8" fill="none" stroke="#000" stroke-width="2"/>
<path d="M10.7 382.1L15.7 376.3L20.7 382.1" fill="none" stroke="#000" stroke-width="2"/>
<path d="M56.199999999999996 416.8L62.0 421.8L56.199999999999996 426.8" fill="none" stroke="#000" stroke-width="2"/>
<path d="M163.2 376.5V422.2H209.6" fill="none" stroke="#000" stroke-width="2"/>
<path d="M158.2 382.1L163.2 376.3L168.2 382.1" fill="none" stroke="#000" stroke-width="2"/>
<path d="M204.0 417.2L209.79999999999998 422.2L204.0 427.2" fill="none" stroke="#000" stroke-width="2"/>
<text transform="translate(9.50 400.70) rotate(-90) scale(0.9290 1)" font-size="12" text-anchor="middle" font-weight="bold" fill="#000" stroke="#000" stroke-width="0.6">CD71</text>
<text transform="translate(159.20 400.10) rotate(-90) scale(0.9355 1)" font-size="12" text-anchor="middle" font-weight="bold" fill="#000" stroke="#000" stroke-width="0.6">CD71</text>
<text transform="translate(16.20 437.30) scale(1.0405 1)" font-size="11.8" text-anchor="start" font-weight="bold" fill="#000" stroke="#000" stroke-width="0.6">Ter119</text>
<text transform="translate(170.40 437.30) scale(0.9783 1)" font-size="11.5" text-anchor="start" font-weight="bold" fill="#000" stroke="#000" stroke-width="0.6">FSC</text>
<text transform="translate(287.30 218.80) scale(0.9231 1)" font-size="25.5" text-anchor="start" font-weight="bold" fill="#000" stroke="#000" stroke-width="0.7">D</text>
<line x1="372.42" y1="231.70" x2="372.42" y2="398.70" stroke="#e0e0e0" stroke-width="0.7" />
<line x1="400.53" y1="231.70" x2="400.53" y2="398.70" stroke="#e0e0e0" stroke-width="0.7" />
<line x1="428.65" y1="231.70" x2="428.65" y2="398.70" stroke="#e0e0e0" stroke-width="0.7" />
<line x1="456.77" y1="231.70" x2="456.77" y2="398.70" stroke="#e0e0e0" stroke-width="0.7" />
<line x1="484.88" y1="231.70" x2="484.88" y2="398.70" stroke="#e0e0e0" stroke-width="0.7" />
<line x1="344.30" y1="360.57" x2="513.00" y2="360.57" stroke="#e0e0e0" stroke-width="0.7" />
<line x1="344.30" y1="322.45" x2="513.00" y2="322.45" stroke="#e0e0e0" stroke-width="0.7" />
<line x1="344.30" y1="284.32" x2="513.00" y2="284.32" stroke="#e0e0e0" stroke-width="0.7" />
<line x1="344.30" y1="246.20" x2="513.00" y2="246.20" stroke="#e0e0e0" stroke-width="0.7" />
<rect x="344.30" y="231.70" width="168.70" height="167.00" fill="none" stroke="#555" stroke-width="0.8" />
<rect x="347.70" y="386.88" width="11.00" height="11.82" fill="#999" stroke="none" stroke-width="1" />
<line x1="353.20" y1="386.88" x2="353.20" y2="383.07" stroke="#333" stroke-width="0.8" />
<line x1="351.70" y1="383.07" x2="354.70" y2="383.07" stroke="#333" stroke-width="0.8" />
<rect x="358.70" y="388.79" width="11.00" height="9.91" fill="#000" stroke="none" stroke-width="1" />
<line x1="364.20" y1="388.79" x2="364.20" y2="385.36" stroke="#222" stroke-width="0.8" />
<line x1="362.70" y1="385.36" x2="365.70" y2="385.36" stroke="#222" stroke-width="0.8" />
<rect x="376.00" y="364.39" width="11.00" height="34.31" fill="#999" stroke="none" stroke-width="1" />
<line x1="381.50" y1="364.39" x2="381.50" y2="362.86" stroke="#333" stroke-width="0.8" />
<line x1="380.00" y1="362.86" x2="383.00" y2="362.86" stroke="#333" stroke-width="0.8" />
<rect x="387.00" y="378.11" width="11.00" height="20.59" fill="#000" stroke="none" stroke-width="1" />
<line x1="392.50" y1="378.11" x2="392.50" y2="371.25" stroke="#222" stroke-width="0.8" />
<line x1="391.00" y1="371.25" x2="394.00" y2="371.25" stroke="#222" stroke-width="0.8" />
<rect x="404.00" y="378.49" width="11.00" height="20.21" fill="#999" stroke="none" stroke-width="1" />
<line x1="409.50" y1="378.49" x2="409.50" y2="376.97" stroke="#333" stroke-width="0.8" />
<line x1="408.00" y1="376.97" x2="411.00" y2="376.97" stroke="#333" stroke-width="0.8" />
<rect x="415.00" y="392.98" width="11.00" height="5.72" fill="#000" stroke="none" stroke-width="1" />
<line x1="420.50" y1="392.98" x2="420.50" y2="390.31" stroke="#222" stroke-width="0.8" />
<line x1="419.00" y1="390.31" x2="422.00" y2="390.31" stroke="#222" stroke-width="0.8" />
<rect x="431.80" y="355.62" width="11.00" height="43.08" fill="#999" stroke="none" stroke-width="1" />
<line x1="437.30" y1="355.62" x2="437.30" y2="348.76" stroke="#333" stroke-width="0.8" />
<line x1="435.80" y1="348.76" x2="438.80" y2="348.76" stroke="#333" stroke-width="0.8" />
<rect x="442.80" y="388.02" width="11.00" height="10.68" fill="#000" stroke="none" stroke-width="1" />
<line x1="448.30" y1="388.02" x2="448.30" y2="382.31" stroke="#222" stroke-width="0.8" />
<line x1="446.80" y1="382.31" x2="449.80" y2="382.31" stroke="#222" stroke-width="0.8" />
<rect x="459.80" y="250.78" width="11.00" height="147.92" fill="#999" stroke="none" stroke-width="1" />
<line x1="465.30" y1="250.78" x2="465.30" y2="243.91" stroke="#333" stroke-width="0.8" />
<line x1="463.80" y1="243.91" x2="466.80" y2="243.91" stroke="#333" stroke-width="0.8" />
<rect x="470.80" y="373.92" width="11.00" height="24.78" fill="#000" stroke="none" stroke-width="1" />
<line x1="476.30" y1="373.92" x2="476.30" y2="362.86" stroke="#222" stroke-width="0.8" />
<line x1="474.80" y1="362.86" x2="477.80" y2="362.86" stroke="#222" stroke-width="0.8" />
<rect x="488.00" y="272.12" width="11.00" height="126.57" fill="#999" stroke="none" stroke-width="1" />
<line x1="493.50" y1="272.12" x2="493.50" y2="260.31" stroke="#333" stroke-width="0.8" />
<line x1="492.00" y1="260.31" x2="495.00" y2="260.31" stroke="#333" stroke-width="0.8" />
<rect x="499.00" y="389.55" width="11.00" height="9.15" fill="#000" stroke="none" stroke-width="1" />
<line x1="504.50" y1="389.55" x2="504.50" y2="385.36" stroke="#222" stroke-width="0.8" />
<line x1="503.00" y1="385.36" x2="506.00" y2="385.36" stroke="#222" stroke-width="0.8" />
<line x1="344.30" y1="398.70" x2="347.30" y2="398.70" stroke="#333" stroke-width="0.6" />
<line x1="513.00" y1="398.70" x2="510.00" y2="398.70" stroke="#333" stroke-width="0.6" />
<line x1="344.30" y1="391.07" x2="345.80" y2="391.07" stroke="#333" stroke-width="0.6" />
<line x1="513.00" y1="391.07" x2="511.50" y2="391.07" stroke="#333" stroke-width="0.6" />
<line x1="344.30" y1="383.45" x2="345.80" y2="383.45" stroke="#333" stroke-width="0.6" />
<line x1="513.00" y1="383.45" x2="511.50" y2="383.45" stroke="#333" stroke-width="0.6" />
<line x1="344.30" y1="375.82" x2="345.80" y2="375.82" stroke="#333" stroke-width="0.6" />
<line x1="513.00" y1="375.82" x2="511.50" y2="375.82" stroke="#333" stroke-width="0.6" />
<line x1="344.30" y1="368.20" x2="345.80" y2="368.20" stroke="#333" stroke-width="0.6" />
<line x1="513.00" y1="368.20" x2="511.50" y2="368.20" stroke="#333" stroke-width="0.6" />
<line x1="344.30" y1="360.57" x2="347.30" y2="360.57" stroke="#333" stroke-width="0.6" />
<line x1="513.00" y1="360.57" x2="510.00" y2="360.57" stroke="#333" stroke-width="0.6" />
<line x1="344.30" y1="352.95" x2="345.80" y2="352.95" stroke="#333" stroke-width="0.6" />
<line x1="513.00" y1="352.95" x2="511.50" y2="352.95" stroke="#333" stroke-width="0.6" />
<line x1="344.30" y1="345.32" x2="345.80" y2="345.32" stroke="#333" stroke-width="0.6" />
<line x1="513.00" y1="345.32" x2="511.50" y2="345.32" stroke="#333" stroke-width="0.6" />
<line x1="344.30" y1="337.70" x2="345.80" y2="337.70" stroke="#333" stroke-width="0.6" />
<line x1="513.00" y1="337.70" x2="511.50" y2="337.70" stroke="#333" stroke-width="0.6" />
<line x1="344.30" y1="330.07" x2="345.80" y2="330.07" stroke="#333" stroke-width="0.6" />
<line x1="513.00" y1="330.07" x2="511.50" y2="330.07" stroke="#333" stroke-width="0.6" />
<line x1="344.30" y1="322.45" x2="347.30" y2="322.45" stroke="#333" stroke-width="0.6" />
<line x1="513.00" y1="322.45" x2="510.00" y2="322.45" stroke="#333" stroke-width="0.6" />
<line x1="344.30" y1="314.82" x2="345.80" y2="314.82" stroke="#333" stroke-width="0.6" />
<line x1="513.00" y1="314.82" x2="511.50" y2="314.82" stroke="#333" stroke-width="0.6" />
<line x1="344.30" y1="307.20" x2="345.80" y2="307.20" stroke="#333" stroke-width="0.6" />
<line x1="513.00" y1="307.20" x2="511.50" y2="307.20" stroke="#333" stroke-width="0.6" />
<line x1="344.30" y1="299.57" x2="345.80" y2="299.57" stroke="#333" stroke-width="0.6" />
<line x1="513.00" y1="299.57" x2="511.50" y2="299.57" stroke="#333" stroke-width="0.6" />
<line x1="344.30" y1="291.95" x2="345.80" y2="291.95" stroke="#333" stroke-width="0.6" />
<line x1="513.00" y1="291.95" x2="511.50" y2="291.95" stroke="#333" stroke-width="0.6" />
<line x1="344.30" y1="284.32" x2="347.30" y2="284.32" stroke="#333" stroke-width="0.6" />
<line x1="513.00" y1="284.32" x2="510.00" y2="284.32" stroke="#333" stroke-width="0.6" />
<line x1="344.30" y1="276.70" x2="345.80" y2="276.70" stroke="#333" stroke-width="0.6" />
<line x1="513.00" y1="276.70" x2="511.50" y2="276.70" stroke="#333" stroke-width="0.6" />
<line x1="344.30" y1="269.07" x2="345.80" y2="269.07" stroke="#333" stroke-width="0.6" />
<line x1="513.00" y1="269.07" x2="511.50" y2="269.07" stroke="#333" stroke-width="0.6" />
<line x1="344.30" y1="261.45" x2="345.80" y2="261.45" stroke="#333" stroke-width="0.6" />
<line x1="513.00" y1="261.45" x2="511.50" y2="261.45" stroke="#333" stroke-width="0.6" />
<line x1="344.30" y1="253.82" x2="345.80" y2="253.82" stroke="#333" stroke-width="0.6" />
<line x1="513.00" y1="253.82" x2="511.50" y2="253.82" stroke="#333" stroke-width="0.6" />
<line x1="344.30" y1="246.20" x2="347.30" y2="246.20" stroke="#333" stroke-width="0.6" />
<line x1="513.00" y1="246.20" x2="510.00" y2="246.20" stroke="#333" stroke-width="0.6" />
<line x1="344.30" y1="238.57" x2="345.80" y2="238.57" stroke="#333" stroke-width="0.6" />
<line x1="513.00" y1="238.57" x2="511.50" y2="238.57" stroke="#333" stroke-width="0.6" />
<line x1="372.42" y1="398.70" x2="372.42" y2="396.20" stroke="#333" stroke-width="0.6" />
<line x1="372.42" y1="231.70" x2="372.42" y2="234.20" stroke="#333" stroke-width="0.6" />
<line x1="400.53" y1="398.70" x2="400.53" y2="396.20" stroke="#333" stroke-width="0.6" />
<line x1="400.53" y1="231.70" x2="400.53" y2="234.20" stroke="#333" stroke-width="0.6" />
<line x1="428.65" y1="398.70" x2="428.65" y2="396.20" stroke="#333" stroke-width="0.6" />
<line x1="428.65" y1="231.70" x2="428.65" y2="234.20" stroke="#333" stroke-width="0.6" />
<line x1="456.77" y1="398.70" x2="456.77" y2="396.20" stroke="#333" stroke-width="0.6" />
<line x1="456.77" y1="231.70" x2="456.77" y2="234.20" stroke="#333" stroke-width="0.6" />
<line x1="484.88" y1="398.70" x2="484.88" y2="396.20" stroke="#333" stroke-width="0.6" />
<line x1="484.88" y1="231.70" x2="484.88" y2="234.20" stroke="#333" stroke-width="0.6" />
<line x1="344.30" y1="398.70" x2="513.00" y2="398.70" stroke="#222" stroke-width="1.2" />
<text transform="translate(339.60 402.00) scale(1.0400 1)" font-size="9.6" text-anchor="end" font-weight="bold" fill="#000" stroke="#000" stroke-width="0.25">0</text>
<text transform="translate(339.60 363.88) scale(1.0400 1)" font-size="9.6" text-anchor="end" font-weight="bold" fill="#000" stroke="#000" stroke-width="0.25">0.5</text>
<text transform="translate(339.60 325.75) scale(1.0400 1)" font-size="9.6" text-anchor="end" font-weight="bold" fill="#000" stroke="#000" stroke-width="0.25">1</text>
<text transform="translate(339.60 287.62) scale(1.0400 1)" font-size="9.6" text-anchor="end" font-weight="bold" fill="#000" stroke="#000" stroke-width="0.25">1.5</text>
<text transform="translate(339.60 249.50) scale(1.0400 1)" font-size="9.6" text-anchor="end" font-weight="bold" fill="#000" stroke="#000" stroke-width="0.25">2</text>
<text transform="translate(359.16 412.80) scale(1.0800 1)" font-size="9.8" text-anchor="middle" font-weight="bold" fill="#000" stroke="#000" stroke-width="0.25">S0</text>
<text transform="translate(387.28 412.80) scale(1.0800 1)" font-size="9.8" text-anchor="middle" font-weight="bold" fill="#000" stroke="#000" stroke-width="0.25">S1</text>
<text transform="translate(415.39 412.80) scale(1.0800 1)" font-size="9.8" text-anchor="middle" font-weight="bold" fill="#000" stroke="#000" stroke-width="0.25">E1</text>
<text transform="translate(443.51 412.80) scale(1.0800 1)" font-size="9.8" text-anchor="middle" font-weight="bold" fill="#000" stroke="#000" stroke-width="0.25">E2</text>
<text transform="translate(471.62 412.80) scale(1.0800 1)" font-size="9.8" text-anchor="middle" font-weight="bold" fill="#000" stroke="#000" stroke-width="0.25">E3</text>
<text transform="translate(499.74 412.80) scale(1.0800 1)" font-size="9.8" text-anchor="middle" font-weight="bold" fill="#000" stroke="#000" stroke-width="0.25">E4</text>
<rect x="350.40" y="240.30" width="76.00" height="44.30" fill="#fff" stroke="#444" stroke-width="0.8" />
<rect x="358.80" y="245.70" width="7.70" height="7.00" fill="#999" stroke="none" stroke-width="1" />
<text transform="translate(373.30 253.30) scale(1.0452 1)" font-size="12" text-anchor="start" font-weight="bold" fill="#999" stroke="#999" stroke-width="0.4">WT</text>
<rect x="358.80" y="264.80" width="7.70" height="7.00" fill="#000" stroke="none" stroke-width="1" />
<text transform="translate(372.70 278.30) scale(1.0214 1)" font-size="13" text-anchor="start" font-weight="bold" fill="#000" stroke="#000" stroke-width="0.3">RhoA<tspan dy="-7" font-size="9.6" font-style="italic">Δ/Δ</tspan></text>
<text transform="translate(420.60 383.98) scale(1.08 1.22)" font-size="18" text-anchor="middle" font-weight="bold">*</text>
<text transform="translate(448.20 378.98) scale(1.08 1.22)" font-size="18" text-anchor="middle" font-weight="bold">*</text>
<text transform="translate(476.80 365.68) scale(1.08 1.22)" font-size="18" text-anchor="middle" font-weight="bold">*</text>
<text transform="translate(504.00 381.28) scale(1.08 1.22)" font-size="18" text-anchor="middle" font-weight="bold">*</text>
<text transform="translate(317.80 310.00) rotate(-90) scale(1.1500 1)" font-size="14.6" text-anchor="middle" font-weight="bold" fill="#000" >cells / fetal liver (x 10<tspan dy="-6" font-size="10">6</tspan><tspan dy="6">)</tspan></text>
<text transform="translate(426.50 432.50) scale(1.0216 1)" font-size="14.4" text-anchor="middle" font-weight="bold" fill="#000" >erythroid population</text>
<text transform="translate(7.40 487.60) scale(1.0074 1)" font-size="25.3" text-anchor="start" font-weight="bold" fill="#000" stroke="#000" stroke-width="0.7">E</text>
<text transform="translate(85.20 485.00) scale(1.0793 1)" font-size="11.8" text-anchor="start" font-weight="bold" fill="#000" stroke="#000" stroke-width="0.5">WT</text>
<text transform="translate(248.00 484.90) scale(1.0554 1)" font-size="11.8" text-anchor="start" font-weight="bold" fill="#000" stroke="#000" stroke-width="0.4">RhoA<tspan dy="-3.4" font-size="8.6">Δ/Δ</tspan></text>
<defs><filter id="b1" x="-5%" y="-5%" width="110%" height="110%"><feGaussianBlur stdDeviation="0.9"/></filter><filter id="b3" x="-10%" y="-10%" width="120%" height="120%"><feGaussianBlur stdDeviation="4"/></filter><filter id="b05"><feGaussianBlur stdDeviation="0.45"/></filter><filter id="ds1" x="0" y="0" width="100%" height="100%"><feColorMatrix type="saturate" values="0.78"/></filter><filter id="ds2" x="0" y="0" width="100%" height="100%"><feColorMatrix type="saturate" values="0.82"/><feComponentTransfer><feFuncR type="linear" slope="0.96"/><feFuncG type="linear" slope="0.96"/><feFuncB type="linear" slope="0.94"/></feComponentTransfer></filter><filter id="tx1" x="0" y="0" width="100%" height="100%"><feTurbulence type="fractalNoise" baseFrequency="0.11" numOctaves="2" seed="4"/><feColorMatrix values="0 0 0 0 0.20  0 0 0 0 0.15  0 0 0 0 0.45  1.6 1.6 0 0 -1.25"/></filter><filter id="tx1b" x="0" y="0" width="100%" height="100%"><feTurbulence type="fractalNoise" baseFrequency="0.09" numOctaves="2" seed="11"/><feColorMatrix values="0 0 0 0 0.66  0 0 0 0 0.64  0 0 0 0 0.78  0 1.6 1.6 0 -1.35"/></filter><filter id="tx2" x="0" y="0" width="100%" height="100%"><feTurbulence type="fractalNoise" baseFrequency="0.06" numOctaves="2" seed="8"/><feColorMatrix values="0 0 0 0 0.20  0 0 0 0 0.18  0 0 0 0 0.56  1.6 1.6 0 0 -1.3"/></filter><filter id="tx2b" x="0" y="0" width="100%" height="100%"><feTurbulence type="fractalNoise" baseFrequency="0.06" numOctaves="2" seed="21"/><feColorMatrix values="0 0 0 0 0.66  0 0 0 0 0.64  0 0 0 0 0.86  0 1.6 1.6 0 -1.4"/></filter><clipPath id="c1"><rect x="14.6" y="492.7" width="167.4" height="167"/></clipPath><clipPath id="c2"><rect x="186.8" y="492.7" width="165.4" height="167"/></clipPath></defs>
<g clip-path="url(#c1)"><g filter="url(#ds1)">
<rect x="14.60" y="492.70" width="167.40" height="168.00" fill="#6b629f" stroke="none" stroke-width="1" />
<g filter="url(#b3)">
<circle cx="28.0" cy="628.0" r="24.0" fill="#9a98ba" opacity="0.95"/>
<circle cx="62.0" cy="586.0" r="18.0" fill="#9492b6" opacity="0.8"/>
<circle cx="62.0" cy="642.0" r="16.0" fill="#9694b8" opacity="0.8"/>
<circle cx="168.0" cy="648.0" r="18.0" fill="#b0a8c0" opacity="0.95"/>
<circle cx="140.0" cy="560.0" r="11.0" fill="#948cb2" opacity="0.8"/>
<circle cx="116.0" cy="556.0" r="9.0" fill="#a4969f" opacity="0.85"/>
<circle cx="114.0" cy="536.0" r="6.0" fill="#9a92b4" opacity="0.7"/>
<circle cx="80.0" cy="518.0" r="9.0" fill="#8c86b2" opacity="0.7"/>
<circle cx="40.0" cy="507.0" r="7.0" fill="#a08a9c" opacity="0.6"/>
<circle cx="92.0" cy="568.0" r="10.0" fill="#ac989e" opacity="0.8"/>
<circle cx="163.0" cy="531.0" r="9.0" fill="#928cb8" opacity="0.7"/>
<circle cx="103.0" cy="506.0" r="6.0" fill="#8c88ba" opacity="0.6"/>
<circle cx="147.0" cy="564.0" r="8.0" fill="#9a94b8" opacity="0.7"/>
<circle cx="176.0" cy="600.0" r="8.0" fill="#a09aba" opacity="0.8"/>
<circle cx="96.0" cy="600.0" r="10.0" fill="#928cb6" opacity="0.7"/>
<circle cx="100.0" cy="625.0" r="10.0" fill="#8c86b2" opacity="0.5"/>
<circle cx="150.0" cy="590.0" r="9.0" fill="#8c86b2" opacity="0.5"/>
<circle cx="20.0" cy="575.0" r="10.0" fill="#8a84ae" opacity="0.6"/>
<circle cx="30.0" cy="520.0" r="20.0" fill="#43328c" opacity="0.7"/>
<circle cx="50.0" cy="545.0" r="14.0" fill="#45348e" opacity="0.6"/>
<circle cx="125.0" cy="535.0" r="15.0" fill="#48388e" opacity="0.55"/>
<circle cx="165.0" cy="510.0" r="15.0" fill="#3e2e88" opacity="0.6"/>
<circle cx="70.0" cy="540.0" r="12.0" fill="#4a3a92" opacity="0.5"/>
<circle cx="125.0" cy="505.0" r="10.0" fill="#45348e" opacity="0.5"/>
<circle cx="118.0" cy="588.0" r="14.0" fill="#43348a" opacity="0.55"/>
<circle cx="135.0" cy="612.0" r="12.0" fill="#4a3a90" opacity="0.45"/>
<circle cx="120.0" cy="638.0" r="12.0" fill="#45368c" opacity="0.45"/>
<circle cx="85.0" cy="595.0" r="9.0" fill="#45368c" opacity="0.4"/>
<circle cx="35.0" cy="598.0" r="10.0" fill="#45368c" opacity="0.4"/>
</g>
<rect x="14" y="492" width="169" height="169" filter="url(#tx1)" opacity="0.7"/>
<rect x="14" y="492" width="169" height="169" filter="url(#tx1b)" opacity="0.4"/>
<g filter="url(#b1)">
<circle cx="75.4" cy="500.0" r="5.9" fill="#49388c" opacity="0.92"/>
<circle cx="75.0" cy="499.7" r="2.9" fill="#382a7c" opacity="0.55"/>
<circle cx="86.7" cy="508.0" r="6.8" fill="#49388c" opacity="0.92"/>
<circle cx="87.0" cy="507.7" r="3.4" fill="#382a7c" opacity="0.55"/>
<circle cx="51.0" cy="503.3" r="5.9" fill="#49388c" opacity="0.92"/>
<circle cx="51.3" cy="502.6" r="2.9" fill="#382a7c" opacity="0.55"/>
<circle cx="56.8" cy="513.0" r="5.5" fill="#49388c" opacity="0.92"/>
<circle cx="55.9" cy="513.2" r="2.7" fill="#382a7c" opacity="0.55"/>
<circle cx="43.9" cy="515.4" r="4.9" fill="#30256f" opacity="0.92"/>
<circle cx="64.9" cy="509.0" r="3.7" fill="#1a144a" opacity="0.92"/>
<circle cx="62.5" cy="528.3" r="4.4" fill="#1a144a" opacity="0.92"/>
<circle cx="48.7" cy="526.7" r="6.8" fill="#49388c" opacity="0.92"/>
<circle cx="49.1" cy="526.0" r="3.4" fill="#382a7c" opacity="0.55"/>
<circle cx="39.8" cy="534.8" r="4.9" fill="#30256f" opacity="0.92"/>
<circle cx="43.9" cy="541.3" r="4.4" fill="#1a144a" opacity="0.92"/>
<circle cx="23.7" cy="530.8" r="7.8" fill="#49388c" opacity="0.92"/>
<circle cx="22.8" cy="531.1" r="3.8" fill="#382a7c" opacity="0.55"/>
<circle cx="20.5" cy="551.8" r="6.8" fill="#49388c" opacity="0.92"/>
<circle cx="19.6" cy="552.7" r="3.4" fill="#382a7c" opacity="0.55"/>
<circle cx="93.2" cy="542.0" r="5.9" fill="#30256f" opacity="0.92"/>
<circle cx="70.5" cy="535.6" r="7.8" fill="#49388c" opacity="0.92"/>
<circle cx="70.9" cy="534.9" r="3.8" fill="#382a7c" opacity="0.55"/>
<circle cx="81.0" cy="536.4" r="5.9" fill="#49388c" opacity="0.92"/>
<circle cx="80.8" cy="535.5" r="2.9" fill="#382a7c" opacity="0.55"/>
<circle cx="57.6" cy="564.7" r="5.5" fill="#1a144a" opacity="0.92"/>
<circle cx="30.2" cy="561.5" r="6.8" fill="#49388c" opacity="0.92"/>
<circle cx="29.4" cy="561.2" r="3.4" fill="#382a7c" opacity="0.55"/>
<circle cx="25.3" cy="509.8" r="7.8" fill="#30256f" opacity="0.92"/>
<circle cx="22.9" cy="497.7" r="5.9" fill="#49388c" opacity="0.92"/>
<circle cx="23.7" cy="498.5" r="2.9" fill="#382a7c" opacity="0.55"/>
<circle cx="36.0" cy="500.0" r="5.5" fill="#49388c" opacity="0.92"/>
<circle cx="36.5" cy="500.3" r="2.7" fill="#382a7c" opacity="0.55"/>
<circle cx="30.0" cy="545.0" r="5.5" fill="#30256f" opacity="0.92"/>
<circle cx="68.0" cy="552.0" r="6.1" fill="#5f4d95" opacity="0.92"/>
<circle cx="68.2" cy="552.0" r="3.0" fill="#382a7c" opacity="0.55"/>
<circle cx="82.0" cy="556.0" r="6.1" fill="#5f4d95" opacity="0.92"/>
<circle cx="82.3" cy="556.0" r="3.0" fill="#382a7c" opacity="0.55"/>
<circle cx="45.0" cy="556.0" r="5.5" fill="#49388c" opacity="0.92"/>
<circle cx="44.8" cy="556.7" r="2.7" fill="#382a7c" opacity="0.55"/>
<circle cx="70.0" cy="572.0" r="5.5" fill="#49388c" opacity="0.92"/>
<circle cx="69.6" cy="571.8" r="2.7" fill="#382a7c" opacity="0.55"/>
<circle cx="88.0" cy="522.0" r="5.5" fill="#5f4d95" opacity="0.92"/>
<circle cx="88.4" cy="522.9" r="2.7" fill="#382a7c" opacity="0.55"/>
<circle cx="115.2" cy="501.8" r="4.9" fill="#1a144a" opacity="0.92"/>
<circle cx="122.5" cy="516.5" r="6.0" fill="#30256f" opacity="0.92"/>
<circle cx="113.5" cy="509.2" r="4.9" fill="#30256f" opacity="0.92"/>
<circle cx="145.4" cy="504.3" r="7.0" fill="#49388c" opacity="0.92"/>
<circle cx="145.1" cy="504.2" r="3.4" fill="#382a7c" opacity="0.55"/>
<circle cx="169.9" cy="511.6" r="8.9" fill="#1a144a" opacity="0.92"/>
<circle cx="151.9" cy="520.6" r="7.9" fill="#30256f" opacity="0.92"/>
<circle cx="143.8" cy="530.4" r="4.9" fill="#1a144a" opacity="0.92"/>
<circle cx="128.2" cy="533.7" r="7.0" fill="#30256f" opacity="0.92"/>
<circle cx="105.4" cy="542.7" r="8.9" fill="#30256f" opacity="0.92"/>
<circle cx="122.5" cy="545.9" r="7.0" fill="#30256f" opacity="0.92"/>
<circle cx="133.1" cy="544.3" r="6.0" fill="#30256f" opacity="0.92"/>
<circle cx="147.0" cy="542.7" r="7.0" fill="#49388c" opacity="0.92"/>
<circle cx="146.8" cy="542.1" r="3.4" fill="#382a7c" opacity="0.55"/>
<circle cx="156.8" cy="544.3" r="6.0" fill="#49388c" opacity="0.92"/>
<circle cx="156.5" cy="544.9" r="2.9" fill="#382a7c" opacity="0.55"/>
<circle cx="104.5" cy="526.3" r="7.9" fill="#49388c" opacity="0.92"/>
<circle cx="103.9" cy="526.3" r="3.9" fill="#382a7c" opacity="0.55"/>
<circle cx="133.1" cy="508.3" r="7.0" fill="#5f4d95" opacity="0.92"/>
<circle cx="132.7" cy="508.5" r="3.4" fill="#382a7c" opacity="0.55"/>
<circle cx="131.5" cy="563.1" r="7.0" fill="#30256f" opacity="0.92"/>
<circle cx="176.4" cy="527.1" r="7.0" fill="#49388c" opacity="0.92"/>
<circle cx="176.9" cy="526.3" r="3.4" fill="#382a7c" opacity="0.55"/>
<circle cx="166.6" cy="552.5" r="8.9" fill="#49388c" opacity="0.92"/>
<circle cx="166.6" cy="551.9" r="4.4" fill="#382a7c" opacity="0.55"/>
<circle cx="104.5" cy="563.9" r="7.9" fill="#49388c" opacity="0.92"/>
<circle cx="104.8" cy="564.3" r="3.9" fill="#382a7c" opacity="0.55"/>
<circle cx="119.2" cy="572.9" r="6.0" fill="#1a144a" opacity="0.92"/>
<circle cx="160.9" cy="497.7" r="7.0" fill="#49388c" opacity="0.92"/>
<circle cx="160.3" cy="497.2" r="3.4" fill="#382a7c" opacity="0.55"/>
<circle cx="176.4" cy="498.5" r="6.0" fill="#49388c" opacity="0.92"/>
<circle cx="176.0" cy="498.2" r="2.9" fill="#382a7c" opacity="0.55"/>
<circle cx="100.0" cy="497.0" r="5.5" fill="#49388c" opacity="0.92"/>
<circle cx="100.8" cy="497.7" r="2.7" fill="#382a7c" opacity="0.55"/>
<circle cx="128.0" cy="497.0" r="5.1" fill="#49388c" opacity="0.92"/>
<circle cx="128.6" cy="496.8" r="2.5" fill="#382a7c" opacity="0.55"/>
<circle cx="158.0" cy="568.0" r="6.1" fill="#49388c" opacity="0.92"/>
<circle cx="157.9" cy="567.4" r="3.0" fill="#382a7c" opacity="0.55"/>
<circle cx="175.0" cy="570.0" r="6.1" fill="#49388c" opacity="0.92"/>
<circle cx="174.9" cy="570.9" r="3.0" fill="#382a7c" opacity="0.55"/>
<circle cx="146.0" cy="573.0" r="5.5" fill="#49388c" opacity="0.92"/>
<circle cx="145.2" cy="572.8" r="2.7" fill="#382a7c" opacity="0.55"/>
<circle cx="35.0" cy="577.6" r="4.9" fill="#1a144a" opacity="0.92"/>
<circle cx="66.5" cy="576.8" r="4.9" fill="#30256f" opacity="0.92"/>
<circle cx="31.8" cy="592.2" r="5.4" fill="#4a3070" opacity="0.92"/>
<circle cx="44.7" cy="593.8" r="5.4" fill="#30256f" opacity="0.92"/>
<circle cx="26.1" cy="601.8" r="5.4" fill="#1a144a" opacity="0.92"/>
<circle cx="36.6" cy="600.2" r="4.5" fill="#30256f" opacity="0.92"/>
<circle cx="52.8" cy="605.9" r="6.3" fill="#49388c" opacity="0.92"/>
<circle cx="52.2" cy="606.6" r="3.4" fill="#382a7c" opacity="0.55"/>
<circle cx="71.3" cy="603.5" r="6.3" fill="#49388c" opacity="0.92"/>
<circle cx="70.9" cy="603.5" r="3.4" fill="#382a7c" opacity="0.55"/>
<circle cx="85.1" cy="589.7" r="6.3" fill="#30256f" opacity="0.92"/>
<circle cx="85.1" cy="600.2" r="5.4" fill="#30256f" opacity="0.92"/>
<circle cx="31.0" cy="614.0" r="5.4" fill="#49388c" opacity="0.92"/>
<circle cx="30.1" cy="614.4" r="2.9" fill="#382a7c" opacity="0.55"/>
<circle cx="39.8" cy="614.8" r="4.5" fill="#30256f" opacity="0.92"/>
<circle cx="43.1" cy="623.7" r="5.4" fill="#1a144a" opacity="0.92"/>
<circle cx="61.7" cy="616.4" r="5.4" fill="#1a144a" opacity="0.92"/>
<circle cx="70.5" cy="620.4" r="5.4" fill="#1a144a" opacity="0.92"/>
<circle cx="94.0" cy="614.0" r="6.3" fill="#49388c" opacity="0.92"/>
<circle cx="94.0" cy="614.6" r="3.4" fill="#382a7c" opacity="0.55"/>
<circle cx="49.5" cy="637.4" r="6.3" fill="#49388c" opacity="0.92"/>
<circle cx="49.9" cy="637.9" r="3.4" fill="#382a7c" opacity="0.55"/>
<circle cx="77.0" cy="635.0" r="8.1" fill="#30256f" opacity="0.92"/>
<circle cx="87.5" cy="629.3" r="5.4" fill="#49388c" opacity="0.92"/>
<circle cx="87.0" cy="628.8" r="2.9" fill="#382a7c" opacity="0.55"/>
<circle cx="22.9" cy="644.7" r="5.4" fill="#1a144a" opacity="0.92"/>
<circle cx="35.0" cy="651.1" r="7.2" fill="#49388c" opacity="0.92"/>
<circle cx="35.2" cy="650.2" r="3.8" fill="#382a7c" opacity="0.55"/>
<circle cx="51.2" cy="656.0" r="4.0" fill="#1a144a" opacity="0.92"/>
<circle cx="69.7" cy="653.5" r="6.3" fill="#30256f" opacity="0.92"/>
<circle cx="94.8" cy="647.0" r="5.4" fill="#49388c" opacity="0.92"/>
<circle cx="95.7" cy="647.4" r="2.9" fill="#382a7c" opacity="0.55"/>
<circle cx="95.6" cy="632.5" r="3.6" fill="#30256f" opacity="0.92"/>
<circle cx="17.2" cy="610.0" r="3.6" fill="#30256f" opacity="0.92"/>
<circle cx="109.4" cy="585.0" r="5.5" fill="#1a144a" opacity="0.92"/>
<circle cx="119.2" cy="582.5" r="7.3" fill="#30256f" opacity="0.92"/>
<circle cx="161.7" cy="581.7" r="4.5" fill="#30256f" opacity="0.92"/>
<circle cx="167.4" cy="591.5" r="7.3" fill="#49388c" opacity="0.92"/>
<circle cx="167.4" cy="591.2" r="3.9" fill="#382a7c" opacity="0.55"/>
<circle cx="145.4" cy="579.3" r="6.0" fill="#49388c" opacity="0.92"/>
<circle cx="144.6" cy="579.4" r="2.9" fill="#382a7c" opacity="0.55"/>
<circle cx="129.9" cy="592.3" r="5.5" fill="#30256f" opacity="0.92"/>
<circle cx="129.0" cy="602.1" r="6.4" fill="#49388c" opacity="0.92"/>
<circle cx="129.5" cy="601.3" r="3.4" fill="#382a7c" opacity="0.55"/>
<circle cx="146.2" cy="603.0" r="7.3" fill="#5f4d95" opacity="0.92"/>
<circle cx="145.4" cy="603.4" r="3.9" fill="#382a7c" opacity="0.55"/>
<circle cx="107.0" cy="600.5" r="5.5" fill="#49388c" opacity="0.92"/>
<circle cx="106.9" cy="601.1" r="2.9" fill="#382a7c" opacity="0.55"/>
<circle cx="117.6" cy="607.9" r="4.5" fill="#1a144a" opacity="0.92"/>
<circle cx="108.6" cy="613.6" r="4.5" fill="#30256f" opacity="0.92"/>
<circle cx="167.4" cy="609.5" r="5.8" fill="#1a144a" opacity="0.92"/>
<circle cx="178.0" cy="612.0" r="3.7" fill="#49388c" opacity="0.92"/>
<circle cx="177.8" cy="613.0" r="2.0" fill="#382a7c" opacity="0.55"/>
<circle cx="136.4" cy="616.8" r="8.2" fill="#49388c" opacity="0.92"/>
<circle cx="137.1" cy="616.4" r="4.4" fill="#382a7c" opacity="0.55"/>
<circle cx="156.0" cy="628.3" r="9.2" fill="#7e68a8" opacity="0.92"/>
<circle cx="119.2" cy="631.6" r="6.4" fill="#1a144a" opacity="0.92"/>
<circle cx="139.7" cy="635.6" r="6.4" fill="#1a144a" opacity="0.92"/>
<circle cx="130.7" cy="633.2" r="5.5" fill="#30256f" opacity="0.92"/>
<circle cx="133.1" cy="645.4" r="4.0" fill="#30256f" opacity="0.92"/>
<circle cx="105.4" cy="630.0" r="6.4" fill="#49388c" opacity="0.92"/>
<circle cx="105.5" cy="630.2" r="3.4" fill="#382a7c" opacity="0.55"/>
<circle cx="114.3" cy="644.6" r="7.3" fill="#49388c" opacity="0.92"/>
<circle cx="114.2" cy="645.2" r="3.9" fill="#382a7c" opacity="0.55"/>
<circle cx="101.3" cy="641.4" r="4.5" fill="#49388c" opacity="0.92"/>
<circle cx="101.7" cy="642.0" r="2.4" fill="#382a7c" opacity="0.55"/>
<circle cx="107.8" cy="656.0" r="6.4" fill="#49388c" opacity="0.92"/>
<circle cx="107.3" cy="656.0" r="3.4" fill="#382a7c" opacity="0.55"/>
<circle cx="120.9" cy="655.2" r="5.5" fill="#49388c" opacity="0.92"/>
<circle cx="121.0" cy="655.4" r="2.9" fill="#382a7c" opacity="0.55"/>
</g>
<g filter="url(#b05)">
<circle cx="31.8" cy="527.5" r="1.1" fill="#eeeaf6" opacity="0.9"/>
<circle cx="52.0" cy="538.5" r="1.4" fill="#eeeaf6" opacity="0.9"/>
<circle cx="60.8" cy="539.7" r="1.1" fill="#eeeaf6" opacity="0.9"/>
<circle cx="64.4" cy="547.7" r="1.3" fill="#eeeaf6" opacity="0.9"/>
<circle cx="67.3" cy="568.0" r="1.4" fill="#eeeaf6" opacity="0.9"/>
<circle cx="94.4" cy="498.0" r="0.6" fill="#eeeaf6" opacity="0.9"/>
<circle cx="109.4" cy="499.4" r="1.1" fill="#eeeaf6" opacity="0.9"/>
<circle cx="125.5" cy="503.1" r="1.4" fill="#eeeaf6" opacity="0.9"/>
<circle cx="131.5" cy="531.2" r="0.8" fill="#eeeaf6" opacity="0.9"/>
<circle cx="169.1" cy="536.1" r="1.7" fill="#eeeaf6" opacity="0.9"/>
<circle cx="164.2" cy="542.7" r="0.8" fill="#eeeaf6" opacity="0.9"/>
<circle cx="174.8" cy="544.3" r="1.1" fill="#eeeaf6" opacity="0.9"/>
<circle cx="151.1" cy="568.0" r="1.4" fill="#eeeaf6" opacity="0.9"/>
<circle cx="117.6" cy="572.0" r="0.8" fill="#eeeaf6" opacity="0.9"/>
<circle cx="62.1" cy="593.4" r="1.4" fill="#eeeaf6" opacity="0.9"/>
<circle cx="58.4" cy="600.2" r="0.8" fill="#eeeaf6" opacity="0.9"/>
<circle cx="79.4" cy="618.8" r="1.4" fill="#eeeaf6" opacity="0.9"/>
<circle cx="34.2" cy="624.5" r="0.9" fill="#eeeaf6" opacity="0.9"/>
<circle cx="20.5" cy="636.6" r="1.4" fill="#eeeaf6" opacity="0.9"/>
<circle cx="25.6" cy="639.8" r="1.4" fill="#eeeaf6" opacity="0.9"/>
<circle cx="119.6" cy="614.9" r="1.1" fill="#eeeaf6" opacity="0.9"/>
<circle cx="145.7" cy="616.0" r="1.4" fill="#eeeaf6" opacity="0.9"/>
<circle cx="171.9" cy="619.8" r="1.1" fill="#eeeaf6" opacity="0.9"/>
<circle cx="176.8" cy="624.5" r="1.7" fill="#eeeaf6" opacity="0.9"/>
<circle cx="164.2" cy="638.9" r="0.9" fill="#eeeaf6" opacity="0.9"/>
</g>
<rect x="158.20" y="644.70" width="15.00" height="2.90" fill="#fff" stroke="none" stroke-width="1" />
</g></g>
<g clip-path="url(#c2)"><g filter="url(#ds2)">
<rect x="186.80" y="492.70" width="165.40" height="168.00" fill="#443e90" stroke="none" stroke-width="1" />
<g filter="url(#b3)">
<circle cx="207.0" cy="552.0" r="26.0" fill="#b2aed2" opacity="1"/>
<circle cx="196.0" cy="530.0" r="16.0" fill="#a6a0cc" opacity="0.9"/>
<circle cx="226.0" cy="536.0" r="14.0" fill="#a09acc" opacity="0.8"/>
<circle cx="222.0" cy="574.0" r="14.0" fill="#a49cc8" opacity="0.8"/>
<circle cx="200.0" cy="590.0" r="14.0" fill="#8a84c4" opacity="0.7"/>
<circle cx="240.0" cy="508.0" r="12.0" fill="#7a72be" opacity="0.6"/>
<circle cx="215.0" cy="505.0" r="10.0" fill="#6a62b4" opacity="0.5"/>
<circle cx="298.0" cy="545.0" r="16.0" fill="#2e2a86" opacity="0.75"/>
<circle cx="330.0" cy="522.0" r="12.0" fill="#2c2884" opacity="0.7"/>
<circle cx="300.0" cy="562.0" r="12.0" fill="#2e2a86" opacity="0.7"/>
<circle cx="338.0" cy="612.0" r="14.0" fill="#34308c" opacity="0.6"/>
<circle cx="252.0" cy="622.0" r="10.0" fill="#34308c" opacity="0.6"/>
<circle cx="232.0" cy="648.0" r="10.0" fill="#302c88" opacity="0.7"/>
<circle cx="268.0" cy="560.0" r="10.0" fill="#3a3692" opacity="0.5"/>
<circle cx="262.0" cy="515.0" r="10.0" fill="#38348e" opacity="0.6"/>
<circle cx="205.0" cy="505.0" r="9.0" fill="#302c86" opacity="0.7"/>
<circle cx="310.0" cy="625.0" r="10.0" fill="#2e2a84" opacity="0.6"/>
<circle cx="290.0" cy="650.0" r="10.0" fill="#3a3692" opacity="0.5"/>
</g>
<rect x="186" y="492" width="167" height="169" filter="url(#tx2)" opacity="0.55"/>
<rect x="186" y="492" width="167" height="169" filter="url(#tx2b)" opacity="0.35"/>
<g filter="url(#b1)">
<circle cx="203.6" cy="504.7" r="11.2" fill="#423c8c" opacity="0.8"/>
<circle cx="202.8" cy="505.2" r="7.8" fill="#7a70be" opacity="0.92"/>
<circle cx="239.6" cy="512.9" r="10.4" fill="#423c8c" opacity="0.8"/>
<circle cx="239.5" cy="512.3" r="7.3" fill="#7068b8" opacity="0.92"/>
<circle cx="265.7" cy="510.3" r="10.4" fill="#2b277a" opacity="0.8"/>
<circle cx="266.3" cy="510.4" r="7.3" fill="#6a62b4" opacity="0.92"/>
<circle cx="291.8" cy="506.3" r="10.1" fill="#2b277a" opacity="0.8"/>
<circle cx="292.2" cy="506.7" r="7.1" fill="#8379b8" opacity="0.92"/>
<circle cx="313.1" cy="513.5" r="10.8" fill="#2b277a" opacity="0.8"/>
<circle cx="313.3" cy="514.2" r="7.6" fill="#8379b8" opacity="0.92"/>
<circle cx="335.0" cy="506.3" r="10.1" fill="#2b277a" opacity="0.8"/>
<circle cx="334.3" cy="506.1" r="7.1" fill="#8379b8" opacity="0.92"/>
<circle cx="206.9" cy="532.5" r="11.1" fill="#a294cc" opacity="0.9"/>
<circle cx="206.2" cy="532.8" r="6.7" fill="#7a62b0" opacity="0.45"/>
<circle cx="236.3" cy="534.1" r="10.1" fill="#9484c4" opacity="0.9"/>
<circle cx="235.7" cy="533.2" r="6.1" fill="#7a62b0" opacity="0.45"/>
<circle cx="264.1" cy="526.6" r="8.9" fill="#2b277a" opacity="0.8"/>
<circle cx="263.5" cy="526.1" r="6.3" fill="#7a70bc" opacity="0.92"/>
<circle cx="301.6" cy="533.1" r="10.8" fill="#2b277a" opacity="0.8"/>
<circle cx="301.7" cy="533.1" r="7.6" fill="#8379b8" opacity="0.92"/>
<circle cx="338.2" cy="535.8" r="10.8" fill="#2b277a" opacity="0.8"/>
<circle cx="338.2" cy="535.0" r="7.6" fill="#8379b8" opacity="0.92"/>
<circle cx="254.3" cy="547.2" r="10.1" fill="#423c8c" opacity="0.8"/>
<circle cx="254.3" cy="546.8" r="7.1" fill="#9488c6" opacity="0.92"/>
<circle cx="282.0" cy="529.2" r="8.9" fill="#2b277a" opacity="0.8"/>
<circle cx="281.4" cy="528.5" r="6.3" fill="#6c64b6" opacity="0.92"/>
<circle cx="200.3" cy="557.0" r="9.5" fill="#a89ccc" opacity="0.9"/>
<circle cx="199.6" cy="556.8" r="5.7" fill="#7a62b0" opacity="0.45"/>
<circle cx="226.5" cy="571.0" r="10.1" fill="#a88cc0" opacity="0.9"/>
<circle cx="225.8" cy="571.0" r="6.1" fill="#7a62b0" opacity="0.45"/>
<circle cx="249.4" cy="567.8" r="10.1" fill="#423c8c" opacity="0.8"/>
<circle cx="248.8" cy="568.2" r="7.1" fill="#9a8ec8" opacity="0.92"/>
<circle cx="272.2" cy="571.7" r="10.1" fill="#2b277a" opacity="0.8"/>
<circle cx="272.8" cy="571.4" r="7.1" fill="#7a70bc" opacity="0.92"/>
<circle cx="327.8" cy="565.8" r="10.1" fill="#2b277a" opacity="0.8"/>
<circle cx="327.1" cy="566.6" r="7.1" fill="#8379b8" opacity="0.92"/>
<circle cx="309.8" cy="552.1" r="8.9" fill="#2b277a" opacity="0.8"/>
<circle cx="309.2" cy="552.3" r="6.3" fill="#7a72c0" opacity="0.92"/>
<circle cx="200.3" cy="585.4" r="10.1" fill="#9c92cc" opacity="0.9"/>
<circle cx="200.9" cy="585.4" r="6.1" fill="#7a62b0" opacity="0.45"/>
<circle cx="246.1" cy="592.0" r="10.8" fill="#423c8c" opacity="0.8"/>
<circle cx="246.7" cy="591.4" r="7.6" fill="#8379b8" opacity="0.92"/>
<circle cx="267.3" cy="588.0" r="10.1" fill="#2b277a" opacity="0.8"/>
<circle cx="267.7" cy="588.7" r="7.1" fill="#8379b8" opacity="0.92"/>
<circle cx="288.6" cy="588.0" r="10.8" fill="#2b277a" opacity="0.8"/>
<circle cx="289.2" cy="588.6" r="7.6" fill="#8379b8" opacity="0.92"/>
<circle cx="309.8" cy="582.2" r="9.7" fill="#2b277a" opacity="0.8"/>
<circle cx="309.7" cy="582.2" r="6.8" fill="#8379b8" opacity="0.92"/>
<circle cx="328.4" cy="592.0" r="10.1" fill="#2b277a" opacity="0.8"/>
<circle cx="329.0" cy="591.8" r="7.1" fill="#8379b8" opacity="0.92"/>
<circle cx="223.2" cy="594.6" r="9.7" fill="#423c8c" opacity="0.8"/>
<circle cx="222.8" cy="593.8" r="6.8" fill="#9a90ca" opacity="0.92"/>
<circle cx="219.9" cy="611.6" r="10.8" fill="#2b277a" opacity="0.8"/>
<circle cx="219.5" cy="611.0" r="7.6" fill="#8379b8" opacity="0.92"/>
<circle cx="242.8" cy="614.8" r="10.1" fill="#2b277a" opacity="0.8"/>
<circle cx="243.5" cy="614.5" r="7.1" fill="#8379b8" opacity="0.92"/>
<circle cx="262.4" cy="608.3" r="10.1" fill="#2b277a" opacity="0.8"/>
<circle cx="262.2" cy="609.1" r="7.1" fill="#8379b8" opacity="0.92"/>
<circle cx="295.1" cy="609.6" r="10.8" fill="#2b277a" opacity="0.8"/>
<circle cx="295.4" cy="609.5" r="7.6" fill="#8379b8" opacity="0.92"/>
<circle cx="314.7" cy="605.0" r="10.1" fill="#2b277a" opacity="0.8"/>
<circle cx="314.1" cy="604.8" r="7.1" fill="#7e76c2" opacity="0.92"/>
<circle cx="337.6" cy="605.0" r="10.1" fill="#2b277a" opacity="0.8"/>
<circle cx="337.3" cy="605.8" r="7.1" fill="#8379b8" opacity="0.92"/>
<circle cx="197.1" cy="627.3" r="10.8" fill="#2b277a" opacity="0.8"/>
<circle cx="196.9" cy="628.0" r="7.6" fill="#7e76c2" opacity="0.92"/>
<circle cx="212.8" cy="634.4" r="10.4" fill="#2b277a" opacity="0.8"/>
<circle cx="212.4" cy="633.7" r="7.3" fill="#8379b8" opacity="0.92"/>
<circle cx="236.3" cy="634.4" r="10.1" fill="#2b277a" opacity="0.8"/>
<circle cx="236.9" cy="633.8" r="7.1" fill="#8379b8" opacity="0.92"/>
<circle cx="282.0" cy="621.4" r="8.9" fill="#2b277a" opacity="0.8"/>
<circle cx="282.5" cy="621.5" r="6.3" fill="#7a72c0" opacity="0.92"/>
<circle cx="313.1" cy="627.9" r="10.8" fill="#2b277a" opacity="0.8"/>
<circle cx="312.7" cy="628.4" r="7.6" fill="#8379b8" opacity="0.92"/>
<circle cx="334.3" cy="631.2" r="10.1" fill="#2b277a" opacity="0.8"/>
<circle cx="334.2" cy="632.0" r="7.1" fill="#8379b8" opacity="0.92"/>
<circle cx="203.6" cy="650.8" r="10.1" fill="#2b277a" opacity="0.8"/>
<circle cx="203.7" cy="651.5" r="7.1" fill="#7a72c0" opacity="0.92"/>
<circle cx="226.5" cy="652.4" r="10.1" fill="#2b277a" opacity="0.8"/>
<circle cx="227.2" cy="652.2" r="7.1" fill="#8379b8" opacity="0.92"/>
<circle cx="249.4" cy="650.8" r="10.1" fill="#2b277a" opacity="0.8"/>
<circle cx="249.7" cy="651.1" r="7.1" fill="#7870be" opacity="0.92"/>
<circle cx="278.8" cy="650.8" r="10.1" fill="#2b277a" opacity="0.8"/>
<circle cx="279.0" cy="650.0" r="7.1" fill="#7870be" opacity="0.92"/>
<circle cx="324.5" cy="647.5" r="10.1" fill="#2b277a" opacity="0.8"/>
<circle cx="324.8" cy="647.9" r="7.1" fill="#8379b8" opacity="0.92"/>
<circle cx="342.5" cy="650.8" r="8.9" fill="#2b277a" opacity="0.8"/>
<circle cx="342.0" cy="650.1" r="6.3" fill="#7a72c0" opacity="0.92"/>
<circle cx="349.0" cy="624.0" r="7.5" fill="#2b277a" opacity="0.8"/>
<circle cx="348.3" cy="624.1" r="5.2" fill="#7a72c0" opacity="0.92"/>
<circle cx="347.4" cy="555.4" r="7.5" fill="#2b277a" opacity="0.8"/>
<circle cx="346.8" cy="555.9" r="5.2" fill="#8379b8" opacity="0.92"/>
<circle cx="349.0" cy="521.0" r="7.5" fill="#2b277a" opacity="0.8"/>
<circle cx="348.9" cy="521.8" r="5.2" fill="#7a72c0" opacity="0.92"/>
<circle cx="195.4" cy="514.5" r="4.6" fill="#272570" opacity="0.88"/>
<circle cx="210.1" cy="509.6" r="3.9" fill="#272570" opacity="0.88"/>
<circle cx="265.7" cy="510.3" r="3.9" fill="#272570" opacity="0.88"/>
<circle cx="291.8" cy="565.8" r="7.2" fill="#272570" opacity="0.88"/>
<circle cx="282.0" cy="557.0" r="5.2" fill="#272570" opacity="0.88"/>
<circle cx="259.2" cy="633.8" r="7.2" fill="#272570" opacity="0.88"/>
<circle cx="321.3" cy="528.6" r="6.5" fill="#272570" opacity="0.88"/>
<circle cx="270.6" cy="615.8" r="4.6" fill="#272570" opacity="0.88"/>
<circle cx="304.9" cy="595.2" r="4.6" fill="#272570" opacity="0.88"/>
<circle cx="277.1" cy="632.2" r="4.6" fill="#272570" opacity="0.88"/>
<circle cx="332.7" cy="521.0" r="3.9" fill="#272570" opacity="0.88"/>
<circle cx="298.4" cy="575.0" r="3.9" fill="#272570" opacity="0.88"/>
<circle cx="252.6" cy="635.4" r="3.3" fill="#272570" opacity="0.88"/>
<circle cx="291.8" cy="633.8" r="4.6" fill="#272570" opacity="0.88"/>
<circle cx="229.8" cy="627.3" r="3.3" fill="#272570" opacity="0.88"/>
<circle cx="331.2" cy="520.3" r="6.5" fill="#2b2878" opacity="0.85"/>
<circle cx="331.7" cy="519.8" r="3.2" fill="#3c3890" opacity="0.5"/>
<circle cx="298.0" cy="534.0" r="6.0" fill="#2b2878" opacity="0.85"/>
<circle cx="298.5" cy="533.5" r="3.0" fill="#3c3890" opacity="0.5"/>
<circle cx="285.0" cy="545.3" r="6.0" fill="#2b2878" opacity="0.85"/>
<circle cx="285.5" cy="544.8" r="3.0" fill="#3c3890" opacity="0.5"/>
<circle cx="301.3" cy="559.9" r="6.5" fill="#2b2878" opacity="0.85"/>
<circle cx="301.8" cy="559.4" r="3.2" fill="#3c3890" opacity="0.5"/>
<circle cx="311.0" cy="540.5" r="5.5" fill="#2b2878" opacity="0.85"/>
<circle cx="311.5" cy="540.0" r="2.8" fill="#3c3890" opacity="0.5"/>
<circle cx="253.9" cy="613.0" r="4.8" fill="#2b2878" opacity="0.85"/>
<circle cx="254.4" cy="612.5" r="2.4" fill="#3c3890" opacity="0.5"/>
<circle cx="194.0" cy="622.9" r="5.0" fill="#2b2878" opacity="0.85"/>
<circle cx="194.5" cy="622.4" r="2.5" fill="#3c3890" opacity="0.5"/>
<circle cx="232.9" cy="645.5" r="5.0" fill="#2b2878" opacity="0.85"/>
<circle cx="233.4" cy="645.0" r="2.5" fill="#3c3890" opacity="0.5"/>
<circle cx="245.8" cy="626.0" r="5.0" fill="#2b2878" opacity="0.85"/>
<circle cx="246.3" cy="625.5" r="2.5" fill="#3c3890" opacity="0.5"/>
<circle cx="311.0" cy="622.0" r="7.3" fill="#2b2878" opacity="0.85"/>
<circle cx="311.5" cy="621.5" r="3.6" fill="#3c3890" opacity="0.5"/>
<circle cx="331.2" cy="618.8" r="7.3" fill="#2b2878" opacity="0.85"/>
<circle cx="331.7" cy="618.3" r="3.6" fill="#3c3890" opacity="0.5"/>
<circle cx="293.2" cy="622.9" r="5.0" fill="#2b2878" opacity="0.85"/>
<circle cx="293.7" cy="622.4" r="2.5" fill="#3c3890" opacity="0.5"/>
<circle cx="336.9" cy="598.6" r="6.5" fill="#2b2878" opacity="0.85"/>
<circle cx="337.4" cy="598.1" r="3.2" fill="#3c3890" opacity="0.5"/>
<circle cx="343.3" cy="629.3" r="6.0" fill="#2b2878" opacity="0.85"/>
<circle cx="343.8" cy="628.8" r="3.0" fill="#3c3890" opacity="0.5"/>
<circle cx="195.7" cy="512.2" r="5.0" fill="#2b2878" opacity="0.85"/>
<circle cx="196.2" cy="511.7" r="2.5" fill="#3c3890" opacity="0.5"/>
<circle cx="213.5" cy="501.7" r="5.6" fill="#2b2878" opacity="0.85"/>
<circle cx="214.0" cy="501.2" r="2.8" fill="#3c3890" opacity="0.5"/>
<circle cx="266.8" cy="518.7" r="6.5" fill="#2b2878" opacity="0.85"/>
<circle cx="267.3" cy="518.2" r="3.2" fill="#3c3890" opacity="0.5"/>
<circle cx="224.0" cy="643.9" r="6.5" fill="#2b2878" opacity="0.85"/>
<circle cx="224.5" cy="643.4" r="3.2" fill="#3c3890" opacity="0.5"/>
<circle cx="223.6" cy="569.6" r="2.7" fill="#3a2c90" opacity="0.92"/>
<circle cx="229.6" cy="568.6" r="2.7" fill="#3a2c90" opacity="0.92"/>
<circle cx="240.0" cy="532.0" r="3.4" fill="#5a48a8" opacity="0.7"/>
<circle cx="236.0" cy="545.0" r="3.0" fill="#5a48a8" opacity="0.6"/>
<path d="M189 594 L207 613 L196 616 L189 612Z" fill="#b08480" opacity="0.9"/>
<path d="M189 600 L199 610 L190 611Z" fill="#9a6458" opacity="0.8"/>
<path d="M318 494 L330 494 L336 506 L328 508 L321 500Z" fill="#94584e" opacity="0.9"/>
<path d="M334.5 546 L340.5 545 L342 555 L336 556Z" fill="#9a5848" opacity="0.95"/>
<path d="M312.5 560 L317.5 561 L317 573 L312.5 571Z" fill="#8a5048" opacity="0.9"/>
<circle cx="273.9" cy="610.9" r="3.2" fill="#94584e" opacity="0.85"/>
<circle cx="226.4" cy="515.4" r="3.2" fill="#a0685c" opacity="0.95"/>
<circle cx="251.0" cy="496.3" r="4.2" fill="#9a6458" opacity="0.95"/>
</g>
<g filter="url(#b05)">
<path d="M298.9 628.5L310.2 630.1L317.5 637.4L314.2 651.1L297.3 651.9L289.2 643.9Z" fill="#a0462e" stroke="#f0e4e4" stroke-width="1.5" stroke-linejoin="round"/>
<circle cx="298.9" cy="638.2" r="2.8" fill="#2c2470" opacity="1.0"/>
<circle cx="307.8" cy="645.5" r="2.8" fill="#2c2470" opacity="1.0"/>
<path d="M333 565.4L344 563.6L350.4 574.6L349 584.6L338 583L331.4 573.4Z" fill="#a04a34" stroke="#f0e4e4" stroke-width="1.3" stroke-linejoin="round"/>
<path d="M337 576L350 576L349 583.5L343.5 586L338 581Z" fill="#a04a34" opacity="0"/>
<path d="M343 494Q345 501 351 500" fill="none" stroke="#f0e4e4" stroke-width="0.9" opacity="0.8"/>
<path d="M304.5 554.2Q312 554 317.5 556.6T325.5 563T333 565" fill="none" stroke="#f2eef8" stroke-width="0.9" opacity="0.85"/>
<path d="M312 560.5L312.5 571.5L317.5 573L318 561.5Z" fill="none" stroke="#f2eef8" stroke-width="0.8" opacity="0.85"/>
<path d="M315.8 614.8Q321 617 321.5 623" fill="none" stroke="#f2eef8" stroke-width="1" opacity="0.9"/>
<circle cx="290.8" cy="542" r="2" fill="none" stroke="#f2eef8" stroke-width="0.8" opacity="0.85"/>
<path d="M289.5 543.5L282.5 550.5" stroke="#f2eef8" stroke-width="0.8" opacity="0.8"/>
<path d="M214 505Q218.5 509 222 504" fill="none" stroke="#f2eef8" stroke-width="1.6" opacity="0.9"/>
<path d="M246 500Q251 503.5 256 499.5" fill="none" stroke="#f2eef8" stroke-width="1.2" opacity="0.9"/>
<circle cx="226.4" cy="515.4" r="3.6" fill="none" stroke="#f2eef8" stroke-width="0.8" opacity="0.8"/>
<path d="M187.5 517L195 520L188 525Z" fill="#f2eef8" opacity="0.9"/>
<path d="M229 630L234 628.5L235.5 634L231 635.5Z" fill="#f2eef8" opacity="0.9"/>
<path d="M280 621L283 619.5L285.5 622L284 626.5L280.5 626Z" fill="#d8d4e8" opacity="0.9"/>
<circle cx="328.8" cy="633.4" r="3.2" fill="#e8e0e0" opacity="0.9"/>
<circle cx="329.5" cy="635.0" r="1.6" fill="#6a5ea8" opacity="0.8"/>
<circle cx="257.0" cy="622.0" r="1.2" fill="#f2eef8" opacity="0.9"/>
<circle cx="238.5" cy="643.9" r="1.1" fill="#f2eef8" opacity="0.9"/>
<circle cx="207.8" cy="604.3" r="1.2" fill="#f2eef8" opacity="0.9"/>
<circle cx="189.2" cy="627.7" r="1.2" fill="#f2eef8" opacity="0.9"/>
<circle cx="266.8" cy="629.3" r="1.2" fill="#f2eef8" opacity="0.9"/>
<circle cx="336.0" cy="609.0" r="1.5" fill="#f2eef8" opacity="0.9"/>
<circle cx="311.8" cy="593.8" r="1.2" fill="#f2eef8" opacity="0.9"/>
<circle cx="254.0" cy="588.0" r="0.9" fill="#f2eef8" opacity="0.9"/>
<circle cx="330.0" cy="512.0" r="1.0" fill="#f2eef8" opacity="0.9"/>
<circle cx="273.0" cy="608.0" r="1.0" fill="#f2eef8" opacity="0.9"/>
<circle cx="241.0" cy="552.0" r="1.2" fill="#f2eef8" opacity="0.9"/>
<circle cx="246.0" cy="547.0" r="0.8" fill="#f2eef8" opacity="0.9"/>
</g>
<path d="M316.5 522.7L325 525L320.8 533.5L318.1 529.6L315 530.4L313.8 528.5L316.9 526.5Z" fill="#1e1c6a" stroke="#1e1c6a" stroke-width="2.4" stroke-linejoin="round" opacity="0.6" filter="url(#b05)"/>
<path d="M316.5 522.7L325 525L320.8 533.5L318.1 529.6L315 530.4L313.8 528.5L316.9 526.5Z" fill="#fff"/>
<path d="M227.5 580.8L231.4 588.5L228.3 588.1L227.9 590.2L224.8 590.4L224.1 587.7L220.6 586.5Z" fill="#fff"/>
</g></g>
<rect x="14.60" y="492.70" width="167.40" height="167.00" fill="none" stroke="#000" stroke-width="1.6" />
<rect x="186.80" y="492.70" width="165.40" height="167.00" fill="none" stroke="#000" stroke-width="1.6" />
</svg></body></html>
